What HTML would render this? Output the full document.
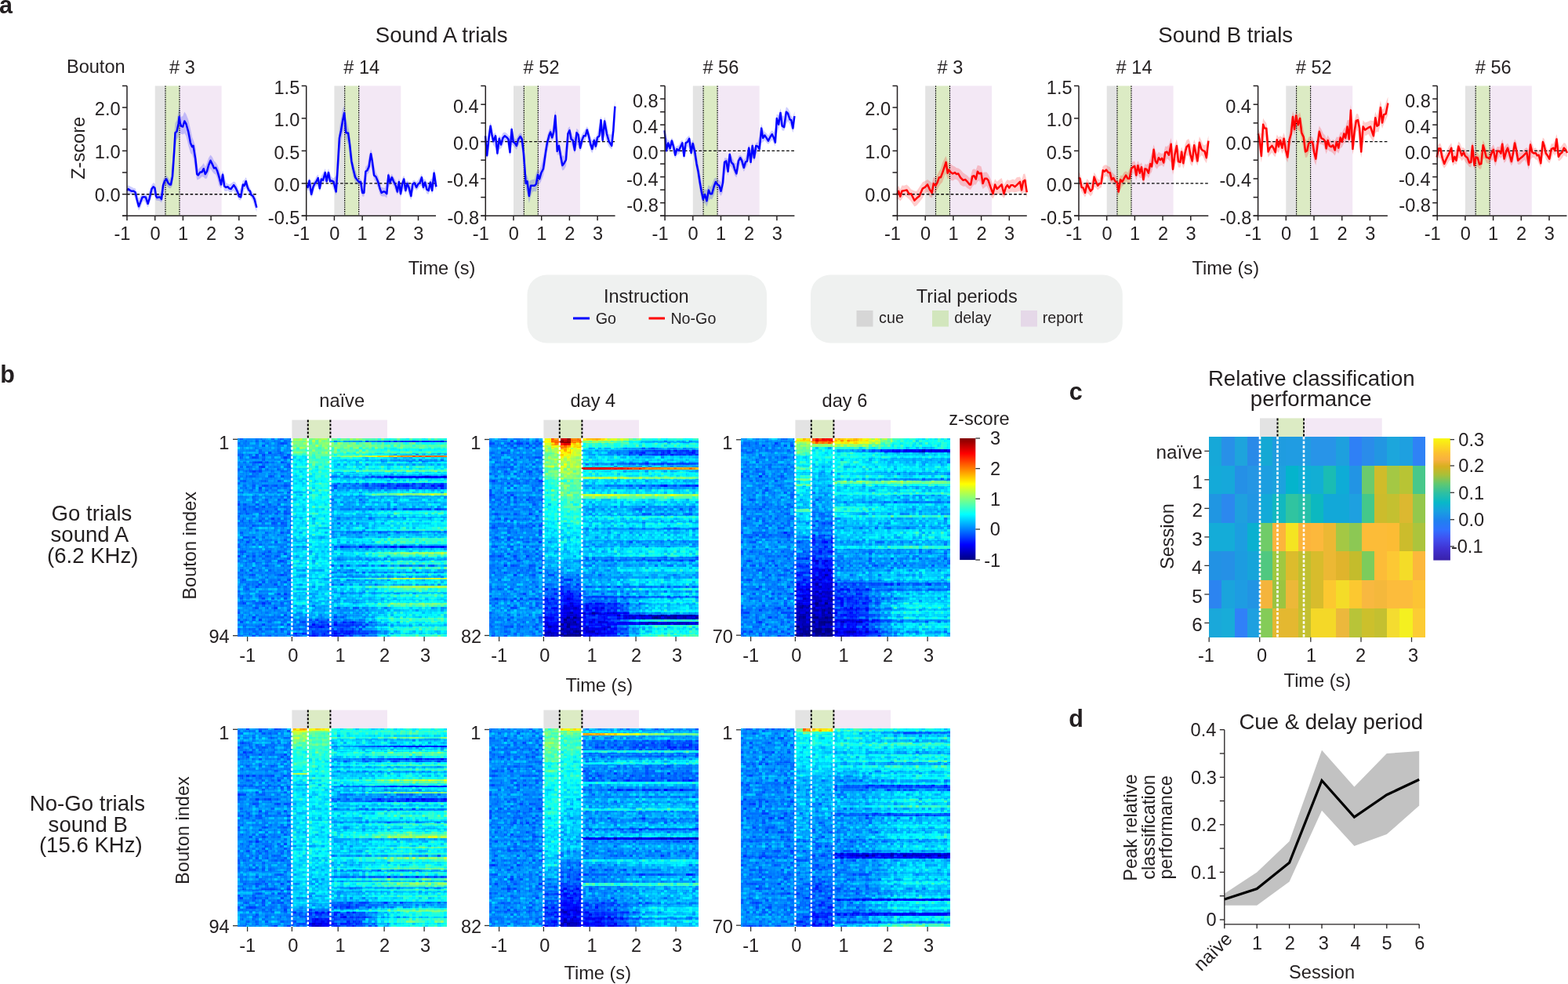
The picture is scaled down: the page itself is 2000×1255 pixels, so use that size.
<!DOCTYPE html>
<html><head><meta charset="utf-8"><title>Figure</title>
<style>html,body{margin:0;padding:0;background:#fff;overflow:hidden;width:2000px;height:1255px;}svg{display:block;}</style></head>
<body><svg width="2000" height="1255" viewBox="0 0 2000 1255" font-family="'Liberation Sans', Arial, Helvetica, sans-serif" fill="#231f20">
<defs><filter id="hf0" x="0" y="0" width="267" height="253" filterUnits="userSpaceOnUse" color-interpolation-filters="sRGB">
<feTurbulence type="fractalNoise" baseFrequency="0.22 0.5" numOctaves="1" seed="3" result="t"/>
<feColorMatrix in="t" type="matrix" values="1 0 0 0 0 1 0 0 0 0 1 0 0 0 0 0 0 0 0 1" result="tn"/>
<feFlood x="0" y="0" width="2" height="1" flood-color="#fff" result="fl"/>
<feComposite in="fl" in2="fl" x="0" y="0" width="4" height="3" operator="over" result="fc"/>
<feTile in="fc" result="tile"/>
<feComposite in="tn" in2="tile" operator="in" result="smp"/>
<feMorphology in="smp" operator="dilate" radius="1 1" result="pix"/>
<feComposite in="SourceGraphic" in2="pix" operator="arithmetic" k2="1" k3="0.27" k4="-0.135" result="sum"/>
<feComponentTransfer in="sum">
<feFuncR type="table" tableValues="0 0 0 0 0.5 1 1 1 0.5"/><feFuncG type="table" tableValues="0 0 0.5 1 1 1 0.5 0 0"/><feFuncB type="table" tableValues="0.5 1 1 1 0.5 0 0 0 0"/><feFuncA type="linear" slope="0" intercept="1"/>
</feComponentTransfer>
</filter>
<filter id="hf1" x="0" y="0" width="267" height="253" filterUnits="userSpaceOnUse" color-interpolation-filters="sRGB">
<feTurbulence type="fractalNoise" baseFrequency="0.22 0.5" numOctaves="1" seed="10" result="t"/>
<feColorMatrix in="t" type="matrix" values="1 0 0 0 0 1 0 0 0 0 1 0 0 0 0 0 0 0 0 1" result="tn"/>
<feFlood x="0" y="0" width="2" height="1" flood-color="#fff" result="fl"/>
<feComposite in="fl" in2="fl" x="0" y="0" width="4" height="3" operator="over" result="fc"/>
<feTile in="fc" result="tile"/>
<feComposite in="tn" in2="tile" operator="in" result="smp"/>
<feMorphology in="smp" operator="dilate" radius="1 1" result="pix"/>
<feComposite in="SourceGraphic" in2="pix" operator="arithmetic" k2="1" k3="0.27" k4="-0.135" result="sum"/>
<feComponentTransfer in="sum">
<feFuncR type="table" tableValues="0 0 0 0 0.5 1 1 1 0.5"/><feFuncG type="table" tableValues="0 0 0.5 1 1 1 0.5 0 0"/><feFuncB type="table" tableValues="0.5 1 1 1 0.5 0 0 0 0"/><feFuncA type="linear" slope="0" intercept="1"/>
</feComponentTransfer>
</filter>
<filter id="hf2" x="0" y="0" width="267" height="253" filterUnits="userSpaceOnUse" color-interpolation-filters="sRGB">
<feTurbulence type="fractalNoise" baseFrequency="0.22 0.5" numOctaves="1" seed="17" result="t"/>
<feColorMatrix in="t" type="matrix" values="1 0 0 0 0 1 0 0 0 0 1 0 0 0 0 0 0 0 0 1" result="tn"/>
<feFlood x="0" y="0" width="2" height="1" flood-color="#fff" result="fl"/>
<feComposite in="fl" in2="fl" x="0" y="0" width="4" height="3" operator="over" result="fc"/>
<feTile in="fc" result="tile"/>
<feComposite in="tn" in2="tile" operator="in" result="smp"/>
<feMorphology in="smp" operator="dilate" radius="1 1" result="pix"/>
<feComposite in="SourceGraphic" in2="pix" operator="arithmetic" k2="1" k3="0.27" k4="-0.135" result="sum"/>
<feComponentTransfer in="sum">
<feFuncR type="table" tableValues="0 0 0 0 0.5 1 1 1 0.5"/><feFuncG type="table" tableValues="0 0 0.5 1 1 1 0.5 0 0"/><feFuncB type="table" tableValues="0.5 1 1 1 0.5 0 0 0 0"/><feFuncA type="linear" slope="0" intercept="1"/>
</feComponentTransfer>
</filter>
<filter id="hf3" x="0" y="0" width="267" height="253" filterUnits="userSpaceOnUse" color-interpolation-filters="sRGB">
<feTurbulence type="fractalNoise" baseFrequency="0.22 0.5" numOctaves="1" seed="24" result="t"/>
<feColorMatrix in="t" type="matrix" values="1 0 0 0 0 1 0 0 0 0 1 0 0 0 0 0 0 0 0 1" result="tn"/>
<feFlood x="0" y="0" width="2" height="1" flood-color="#fff" result="fl"/>
<feComposite in="fl" in2="fl" x="0" y="0" width="4" height="3" operator="over" result="fc"/>
<feTile in="fc" result="tile"/>
<feComposite in="tn" in2="tile" operator="in" result="smp"/>
<feMorphology in="smp" operator="dilate" radius="1 1" result="pix"/>
<feComposite in="SourceGraphic" in2="pix" operator="arithmetic" k2="1" k3="0.27" k4="-0.135" result="sum"/>
<feComponentTransfer in="sum">
<feFuncR type="table" tableValues="0 0 0 0 0.5 1 1 1 0.5"/><feFuncG type="table" tableValues="0 0 0.5 1 1 1 0.5 0 0"/><feFuncB type="table" tableValues="0.5 1 1 1 0.5 0 0 0 0"/><feFuncA type="linear" slope="0" intercept="1"/>
</feComponentTransfer>
</filter>
<filter id="hf4" x="0" y="0" width="267" height="253" filterUnits="userSpaceOnUse" color-interpolation-filters="sRGB">
<feTurbulence type="fractalNoise" baseFrequency="0.22 0.5" numOctaves="1" seed="31" result="t"/>
<feColorMatrix in="t" type="matrix" values="1 0 0 0 0 1 0 0 0 0 1 0 0 0 0 0 0 0 0 1" result="tn"/>
<feFlood x="0" y="0" width="2" height="1" flood-color="#fff" result="fl"/>
<feComposite in="fl" in2="fl" x="0" y="0" width="4" height="3" operator="over" result="fc"/>
<feTile in="fc" result="tile"/>
<feComposite in="tn" in2="tile" operator="in" result="smp"/>
<feMorphology in="smp" operator="dilate" radius="1 1" result="pix"/>
<feComposite in="SourceGraphic" in2="pix" operator="arithmetic" k2="1" k3="0.27" k4="-0.135" result="sum"/>
<feComponentTransfer in="sum">
<feFuncR type="table" tableValues="0 0 0 0 0.5 1 1 1 0.5"/><feFuncG type="table" tableValues="0 0 0.5 1 1 1 0.5 0 0"/><feFuncB type="table" tableValues="0.5 1 1 1 0.5 0 0 0 0"/><feFuncA type="linear" slope="0" intercept="1"/>
</feComponentTransfer>
</filter>
<filter id="hf5" x="0" y="0" width="267" height="253" filterUnits="userSpaceOnUse" color-interpolation-filters="sRGB">
<feTurbulence type="fractalNoise" baseFrequency="0.22 0.5" numOctaves="1" seed="38" result="t"/>
<feColorMatrix in="t" type="matrix" values="1 0 0 0 0 1 0 0 0 0 1 0 0 0 0 0 0 0 0 1" result="tn"/>
<feFlood x="0" y="0" width="2" height="1" flood-color="#fff" result="fl"/>
<feComposite in="fl" in2="fl" x="0" y="0" width="4" height="3" operator="over" result="fc"/>
<feTile in="fc" result="tile"/>
<feComposite in="tn" in2="tile" operator="in" result="smp"/>
<feMorphology in="smp" operator="dilate" radius="1 1" result="pix"/>
<feComposite in="SourceGraphic" in2="pix" operator="arithmetic" k2="1" k3="0.27" k4="-0.135" result="sum"/>
<feComponentTransfer in="sum">
<feFuncR type="table" tableValues="0 0 0 0 0.5 1 1 1 0.5"/><feFuncG type="table" tableValues="0 0 0.5 1 1 1 0.5 0 0"/><feFuncB type="table" tableValues="0.5 1 1 1 0.5 0 0 0 0"/><feFuncA type="linear" slope="0" intercept="1"/>
</feComponentTransfer>
</filter>
<linearGradient id="jet" x1="0" y1="1" x2="0" y2="0"><stop offset="0.000" stop-color="#000080"/><stop offset="0.125" stop-color="#0000ff"/><stop offset="0.250" stop-color="#0080ff"/><stop offset="0.375" stop-color="#00ffff"/><stop offset="0.500" stop-color="#80ff80"/><stop offset="0.625" stop-color="#ffff00"/><stop offset="0.750" stop-color="#ff8000"/><stop offset="0.875" stop-color="#ff0000"/><stop offset="1.000" stop-color="#800000"/></linearGradient></defs>
<rect width="2000" height="1255" fill="#fff"/>
<text x="-0.9" y="17.2" font-size="30.5" font-weight="bold">a</text>
<text x="0.2" y="488.2" font-size="30.5" font-weight="bold">b</text>
<text x="1363.8" y="510.2" font-size="30.5" font-weight="bold">c</text>
<text x="1363.3" y="927.2" font-size="30.5" font-weight="bold">d</text>
<text x="478.8" y="54.0" font-size="27.6">Sound A trials</text>
<text x="1477.3" y="54.0" font-size="27.6">Sound B trials</text>
<text x="84.9" y="93.2" font-size="23.6">Bouton</text>
<rect x="197.7" y="109.5" width="13.3" height="165.8" fill="#e3e3e3"/>
<rect x="211.0" y="109.5" width="18.0" height="165.8" fill="#dcebc4"/>
<rect x="229.0" y="109.5" width="53.6" height="165.8" fill="#f3e8f5"/>
<polygon points="162.1,237.5 163.5,236.2 166.3,237.8 168.4,238.7 170.5,240.0 172.6,240.3 174.6,245.9 177.0,253.5 179.5,249.8 181.6,247.5 183.7,246.5 185.8,247.3 188.6,251.0 190.7,243.1 193.5,235.7 195.6,232.9 197.4,234.3 199.0,240.3 200.4,247.5 202.5,247.2 204.3,247.4 206.0,241.0 208.1,228.2 210.2,224.9 212.3,223.4 214.4,226.2 216.5,229.6 217.9,225.6 220.0,203.4 222.1,173.4 223.5,157.1 225.5,153.5 227.6,141.8 228.6,136.0 229.7,140.6 231.1,149.1 233.2,147.9 235.3,142.4 237.4,145.6 240.2,152.4 243.0,164.6 245.1,174.9 246.5,178.2 249.3,186.6 251.3,205.6 252.7,215.9 255.5,213.2 257.6,211.3 259.7,208.0 261.8,212.8 263.9,207.8 266.0,201.6 268.5,197.5 270.9,200.3 273.0,205.2 275.1,207.1 277.1,210.0 279.2,215.1 282.0,224.3 284.1,217.4 286.2,225.0 288.3,233.0 290.4,234.2 292.5,235.2 294.6,234.1 298.1,231.5 300.2,232.4 302.9,237.7 305.0,243.5 307.1,239.3 309.9,230.0 311.7,229.4 313.7,225.9 315.5,230.7 317.3,235.7 319.0,239.5 320.4,242.9 322.5,245.2 324.6,248.3 327.4,253.9 327.4,270.2 324.6,263.3 322.5,256.3 320.4,252.7 319.0,249.8 317.3,247.6 315.5,244.3 313.7,240.0 311.7,241.4 309.9,248.8 307.1,255.5 305.0,255.1 302.9,251.6 300.2,246.7 298.1,243.1 294.6,245.4 292.5,244.7 290.4,243.2 288.3,244.1 286.2,243.4 284.1,235.6 282.0,240.3 279.2,236.5 277.1,227.3 275.1,222.5 273.0,221.4 270.9,218.9 268.5,215.1 266.0,221.1 263.9,227.4 261.8,228.0 259.7,225.8 257.6,225.3 255.5,227.6 252.7,229.1 251.3,229.6 249.3,220.0 246.5,202.0 245.1,197.2 243.0,195.3 240.2,185.5 237.4,173.5 235.3,170.1 233.2,171.5 231.1,170.8 229.7,170.9 228.6,166.4 227.6,174.6 225.5,177.9 223.5,193.1 222.1,217.9 220.0,236.4 217.9,240.0 216.5,240.2 214.4,239.0 212.3,235.9 210.2,237.9 208.1,250.2 206.0,258.4 204.3,256.8 202.5,256.0 200.4,255.7 199.0,255.6 197.4,249.4 195.6,244.9 193.5,250.8 190.7,260.1 188.6,264.4 185.8,259.6 183.7,256.0 181.6,258.1 179.5,264.6 177.0,268.5 174.6,262.5 172.6,253.9 170.5,248.3 168.4,248.5 166.3,247.7 163.5,246.8 162.1,247.6" fill="#0000ff" fill-opacity="0.2"/>
<line x1="162.0" y1="247.7" x2="327.3" y2="247.7" stroke="#000" stroke-width="1.4" stroke-dasharray="3.6 2.6"/>
<line x1="211.0" y1="109.5" x2="211.0" y2="275.3" stroke="#000" stroke-width="1.15" stroke-dasharray="1.6 1.2"/>
<line x1="229.0" y1="109.5" x2="229.0" y2="275.3" stroke="#000" stroke-width="1.15" stroke-dasharray="1.6 1.2"/>
<polyline points="162.1,243.1 163.5,241.0 166.3,243.1 168.4,243.8 170.5,243.8 172.6,245.2 174.6,254.2 177.0,263.3 179.5,257.0 181.6,251.4 183.7,251.2 185.8,251.4 188.6,259.8 190.7,252.8 193.5,241.0 195.6,238.2 197.4,239.6 199.0,250.0 200.4,252.1 202.5,251.4 204.3,251.4 206.0,254.2 208.1,236.1 210.2,230.5 212.3,228.4 214.4,233.3 216.5,235.4 217.9,235.4 220.0,224.9 222.1,194.3 223.5,169.2 225.5,167.8 227.6,158.0 228.6,148.9 229.7,156.6 231.1,160.8 233.2,161.5 235.3,154.5 237.4,158.0 240.2,167.8 243.0,182.4 245.1,187.3 246.5,185.9 249.3,202.6 251.3,222.1 252.7,223.5 255.5,219.4 257.6,219.4 259.7,215.2 261.8,222.1 263.9,218.7 266.0,211.0 268.5,204.7 270.9,209.6 273.0,214.5 275.1,213.8 277.1,218.0 279.2,224.9 282.0,235.4 284.1,222.8 286.2,237.5 288.3,238.9 290.4,238.2 292.5,240.3 294.6,241.0 298.1,236.1 300.2,238.9 302.9,244.5 305.0,250.7 307.1,251.4 309.9,235.4 311.7,236.8 313.7,231.2 315.5,238.2 317.3,242.4 319.0,243.8 320.4,248.6 322.5,250.0 324.6,254.2 327.4,264.7" fill="none" stroke="#0000ff" stroke-width="2.45" stroke-linejoin="round"/>
<line x1="162.0" y1="109.5" x2="162.0" y2="276.1" stroke="#231f20" stroke-width="1.5"/>
<line x1="156.0" y1="275.3" x2="327.3" y2="275.3" stroke="#231f20" stroke-width="1.5"/>
<line x1="156.0" y1="275.3" x2="162.0" y2="275.3" stroke="#231f20" stroke-width="1.5"/>
<line x1="156.0" y1="247.7" x2="162.0" y2="247.7" stroke="#231f20" stroke-width="1.5"/>
<text x="120.8" y="257.3" font-size="23.6">0.0</text>
<line x1="156.0" y1="220.0" x2="162.0" y2="220.0" stroke="#231f20" stroke-width="1.5"/>
<line x1="156.0" y1="192.4" x2="162.0" y2="192.4" stroke="#231f20" stroke-width="1.5"/>
<text x="120.8" y="202.0" font-size="23.6">1.0</text>
<line x1="156.0" y1="164.8" x2="162.0" y2="164.8" stroke="#231f20" stroke-width="1.5"/>
<line x1="156.0" y1="137.1" x2="162.0" y2="137.1" stroke="#231f20" stroke-width="1.5"/>
<text x="120.8" y="146.7" font-size="23.6">2.0</text>
<line x1="156.0" y1="109.5" x2="162.0" y2="109.5" stroke="#231f20" stroke-width="1.5"/>
<line x1="162.0" y1="275.3" x2="162.0" y2="281.3" stroke="#231f20" stroke-width="1.5"/>
<text x="145.5" y="306.4" font-size="23.6">-1</text>
<line x1="197.7" y1="275.3" x2="197.7" y2="281.3" stroke="#231f20" stroke-width="1.5"/>
<text x="191.5" y="306.4" font-size="23.6">0</text>
<line x1="233.4" y1="275.3" x2="233.4" y2="281.3" stroke="#231f20" stroke-width="1.5"/>
<text x="226.9" y="306.4" font-size="23.6">1</text>
<line x1="269.1" y1="275.3" x2="269.1" y2="281.3" stroke="#231f20" stroke-width="1.5"/>
<text x="262.9" y="306.4" font-size="23.6">2</text>
<line x1="304.8" y1="275.3" x2="304.8" y2="281.3" stroke="#231f20" stroke-width="1.5"/>
<text x="298.6" y="306.4" font-size="23.6">3</text>
<text x="216.1" y="93.8" font-size="23.6"># 3</text>
<rect x="426.4" y="109.5" width="13.3" height="165.8" fill="#e3e3e3"/>
<rect x="439.7" y="109.5" width="18.0" height="165.8" fill="#dcebc4"/>
<rect x="457.7" y="109.5" width="53.6" height="165.8" fill="#f3e8f5"/>
<polygon points="390.7,231.6 392.5,230.8 394.6,226.8 397.1,234.8 399.5,231.6 401.6,229.1 403.6,224.8 405.7,222.5 407.8,229.5 409.9,224.3 412.0,220.4 414.8,214.9 416.6,222.1 419.0,214.9 421.1,221.8 423.2,225.9 425.5,227.6 428.7,224.0 430.8,188.2 432.9,163.2 435.0,151.0 437.1,139.2 439.2,134.8 441.3,149.4 444.1,162.2 446.2,170.6 448.3,190.2 450.4,205.7 453.2,216.4 455.9,224.2 458.7,227.3 460.1,228.2 462.2,234.2 464.3,227.4 466.4,212.6 468.5,210.6 470.6,198.7 473.1,190.2 474.8,195.5 477.1,210.5 479.6,220.2 482.2,224.6 484.5,231.2 486.6,238.7 488.7,239.3 490.8,239.9 493.3,230.1 495.4,219.6 497.5,224.7 499.9,222.1 502.0,225.4 504.8,230.2 506.8,234.3 508.9,227.6 511.0,235.4 513.1,227.6 515.2,223.7 517.3,231.3 519.4,230.4 521.5,231.8 524.3,237.1 526.4,230.6 528.5,229.5 531.2,232.1 533.3,229.8 535.4,226.0 537.9,222.1 539.9,228.6 542.1,228.5 544.5,232.2 546.6,233.2 549.1,228.8 551.2,227.3 553.6,215.3 556.4,224.9 556.4,242.8 553.6,237.3 551.2,247.7 549.1,241.6 546.6,247.7 544.5,247.3 542.1,241.3 539.9,242.9 537.9,236.8 535.4,237.8 533.3,241.0 531.2,242.9 528.5,239.9 526.4,245.8 524.3,255.3 521.5,249.1 519.4,242.1 517.3,247.5 515.2,240.5 513.1,244.9 511.0,251.4 508.9,243.9 506.8,248.4 504.8,244.4 502.0,237.4 499.9,233.7 497.5,236.0 495.4,239.4 493.3,252.5 490.8,250.4 488.7,250.4 486.6,250.2 484.5,248.0 482.2,240.3 479.6,233.2 477.1,228.6 474.8,219.8 473.1,210.5 470.6,220.5 468.5,222.2 466.4,237.6 464.3,250.7 462.2,250.6 460.1,242.6 458.7,236.6 455.9,235.1 453.2,232.4 450.4,225.4 448.3,215.4 446.2,202.2 444.1,184.8 441.3,176.7 439.2,165.9 437.1,169.8 435.0,180.4 432.9,202.3 430.8,234.4 428.7,248.9 425.5,241.8 423.2,235.8 421.1,235.1 419.0,230.8 416.6,234.8 414.8,230.8 412.0,234.4 409.9,238.5 407.8,244.4 405.7,238.2 403.6,237.0 401.6,239.6 399.5,247.5 397.1,252.3 394.6,243.0 392.5,242.8 390.7,242.0" fill="#0000ff" fill-opacity="0.2"/>
<line x1="390.7" y1="233.9" x2="556.0" y2="233.9" stroke="#000" stroke-width="1.4" stroke-dasharray="3.6 2.6"/>
<line x1="439.7" y1="109.5" x2="439.7" y2="275.3" stroke="#000" stroke-width="1.15" stroke-dasharray="1.6 1.2"/>
<line x1="457.7" y1="109.5" x2="457.7" y2="275.3" stroke="#000" stroke-width="1.15" stroke-dasharray="1.6 1.2"/>
<polyline points="390.7,236.1 392.5,238.9 394.6,230.5 397.1,247.9 399.5,238.2 401.6,234.0 403.6,231.2 405.7,227.0 407.8,240.3 409.9,228.4 412.0,229.8 414.8,220.1 416.6,231.2 419.0,220.1 421.1,231.2 423.2,230.5 425.5,231.9 428.7,244.5 430.8,212.4 432.9,176.1 435.0,166.4 437.1,153.8 439.2,144.0 441.3,169.2 444.1,169.8 446.2,185.2 448.3,205.4 450.4,215.2 453.2,226.3 455.9,229.8 458.7,232.6 460.1,231.9 462.2,245.9 464.3,245.9 466.4,218.7 468.5,217.3 470.6,212.4 473.1,196.3 474.8,205.4 477.1,223.5 479.6,225.6 482.2,231.9 484.5,240.3 486.6,245.9 488.7,244.5 490.8,244.5 493.3,247.2 495.4,223.5 497.5,232.6 499.9,226.3 502.0,231.2 504.8,236.8 506.8,244.5 508.9,231.9 511.0,247.2 513.1,234.7 515.2,228.4 517.3,243.1 519.4,234.0 521.5,238.9 524.3,250.0 526.4,234.7 528.5,233.3 531.2,238.9 533.3,234.7 535.4,233.3 537.9,226.3 539.9,238.9 542.1,232.6 544.5,241.7 546.6,243.1 549.1,232.6 551.2,243.1 553.6,220.8 556.4,238.2" fill="none" stroke="#0000ff" stroke-width="2.45" stroke-linejoin="round"/>
<line x1="390.7" y1="109.5" x2="390.7" y2="276.1" stroke="#231f20" stroke-width="1.5"/>
<line x1="384.7" y1="275.3" x2="556.0" y2="275.3" stroke="#231f20" stroke-width="1.5"/>
<line x1="384.7" y1="275.3" x2="390.7" y2="275.3" stroke="#231f20" stroke-width="1.5"/>
<text x="341.8" y="285.8" font-size="23.6">-0.5</text>
<line x1="384.7" y1="233.9" x2="390.7" y2="233.9" stroke="#231f20" stroke-width="1.5"/>
<text x="349.5" y="244.4" font-size="23.6">0.0</text>
<line x1="384.7" y1="192.4" x2="390.7" y2="192.4" stroke="#231f20" stroke-width="1.5"/>
<text x="349.5" y="202.9" font-size="23.6">0.5</text>
<line x1="384.7" y1="150.9" x2="390.7" y2="150.9" stroke="#231f20" stroke-width="1.5"/>
<text x="349.5" y="161.4" font-size="23.6">1.0</text>
<line x1="384.7" y1="109.5" x2="390.7" y2="109.5" stroke="#231f20" stroke-width="1.5"/>
<text x="349.5" y="120.0" font-size="23.6">1.5</text>
<line x1="390.7" y1="275.3" x2="390.7" y2="281.3" stroke="#231f20" stroke-width="1.5"/>
<text x="374.2" y="306.4" font-size="23.6">-1</text>
<line x1="426.4" y1="275.3" x2="426.4" y2="281.3" stroke="#231f20" stroke-width="1.5"/>
<text x="420.2" y="306.4" font-size="23.6">0</text>
<line x1="462.1" y1="275.3" x2="462.1" y2="281.3" stroke="#231f20" stroke-width="1.5"/>
<text x="455.6" y="306.4" font-size="23.6">1</text>
<line x1="497.8" y1="275.3" x2="497.8" y2="281.3" stroke="#231f20" stroke-width="1.5"/>
<text x="491.6" y="306.4" font-size="23.6">2</text>
<line x1="533.5" y1="275.3" x2="533.5" y2="281.3" stroke="#231f20" stroke-width="1.5"/>
<text x="527.3" y="306.4" font-size="23.6">3</text>
<text x="438.3" y="93.8" font-size="23.6"># 14</text>
<rect x="655.0" y="109.5" width="13.3" height="165.8" fill="#e3e3e3"/>
<rect x="668.3" y="109.5" width="18.0" height="165.8" fill="#dcebc4"/>
<rect x="686.3" y="109.5" width="53.6" height="165.8" fill="#f3e8f5"/>
<polygon points="619.1,168.4 621.2,180.4 623.7,163.1 625.6,156.1 627.5,161.5 629.3,171.2 632.1,168.7 634.4,180.0 636.8,172.6 639.0,175.2 641.4,169.6 643.8,168.6 646.6,170.3 648.4,172.6 650.5,173.7 652.6,160.4 654.7,168.7 656.7,177.4 658.8,176.7 661.3,171.9 663.7,169.3 665.8,170.8 667.9,181.5 670.0,202.1 670.7,221.2 672.5,224.6 674.9,231.5 677.0,229.7 679.1,228.9 681.8,228.6 683.9,220.1 686.0,216.4 688.1,217.8 690.2,211.3 693.0,199.3 695.8,183.5 697.9,172.7 700.7,165.5 702.1,163.9 704.2,167.5 706.3,152.9 708.3,140.4 709.7,154.2 710.7,176.7 712.9,181.1 715.0,187.0 717.4,198.3 719.5,199.3 721.9,181.5 724.4,163.8 726.5,161.2 728.6,167.5 730.7,174.1 733.0,175.8 735.5,163.8 737.6,165.7 740.0,175.9 742.5,171.0 744.6,168.0 746.7,164.6 748.8,161.2 750.9,164.7 753.4,174.2 755.3,179.2 757.9,175.0 759.9,175.8 762.0,169.7 764.5,158.6 766.5,148.0 768.7,162.0 771.1,149.0 773.9,157.0 776.7,171.3 780.2,171.4 782.3,145.7 784.4,128.1 784.4,158.6 782.3,181.5 780.2,190.6 776.7,187.3 773.9,181.0 771.1,172.2 768.7,182.9 766.5,171.1 764.5,179.0 762.0,185.7 759.9,191.8 757.9,188.4 755.3,195.4 753.4,192.0 750.9,183.7 748.8,174.0 746.7,178.2 744.6,181.1 742.5,188.2 740.0,193.1 737.6,185.1 735.5,185.6 733.0,196.0 730.7,189.3 728.6,182.7 726.5,177.1 724.4,192.0 721.9,211.9 719.5,216.4 717.4,217.4 715.0,209.9 712.9,197.0 710.7,197.8 709.7,186.6 708.3,166.2 706.3,176.3 704.2,179.5 702.1,176.5 700.7,181.9 697.9,193.5 695.8,210.9 693.0,224.1 690.2,231.2 688.1,235.2 686.0,235.2 683.9,244.4 681.8,244.0 679.1,244.7 677.0,250.5 674.9,259.2 672.5,247.3 670.7,241.6 670.0,236.2 667.9,214.7 665.8,191.6 663.7,180.5 661.3,185.6 658.8,190.9 656.7,188.4 654.7,186.0 652.6,184.2 650.5,200.1 648.4,189.8 646.6,180.6 643.8,179.4 641.4,185.4 639.0,189.6 636.8,190.4 634.4,200.1 632.1,189.1 629.3,185.2 627.5,181.0 625.6,172.4 623.7,191.3 621.2,203.9 619.1,190.8" fill="#0000ff" fill-opacity="0.2"/>
<line x1="619.3" y1="180.6" x2="784.6" y2="180.6" stroke="#000" stroke-width="1.4" stroke-dasharray="3.6 2.6"/>
<line x1="668.3" y1="109.5" x2="668.3" y2="275.3" stroke="#000" stroke-width="1.15" stroke-dasharray="1.6 1.2"/>
<line x1="686.3" y1="109.5" x2="686.3" y2="275.3" stroke="#000" stroke-width="1.15" stroke-dasharray="1.6 1.2"/>
<polyline points="619.1,173.3 621.2,198.4 623.7,174.7 625.6,160.8 627.5,171.9 629.3,180.3 632.1,173.3 634.4,195.6 636.8,176.8 639.0,184.5 641.4,176.1 643.8,173.3 646.6,175.4 648.4,177.5 650.5,194.3 652.6,165.0 654.7,181.0 656.7,182.4 658.8,185.9 661.3,177.5 663.7,174.0 665.8,177.5 667.9,195.6 670.0,223.5 670.7,234.0 672.5,231.2 674.9,250.0 677.0,236.8 679.1,236.8 681.8,236.8 683.9,234.7 686.0,222.8 688.1,228.4 690.2,220.8 693.0,215.2 695.8,195.6 697.9,182.4 700.7,171.9 702.1,168.5 704.2,175.4 706.3,167.8 708.3,147.5 709.7,170.5 710.7,192.9 712.9,185.9 715.0,198.4 717.4,211.0 719.5,208.2 721.9,204.0 724.4,170.5 726.5,166.4 728.6,177.5 730.7,178.9 733.0,191.5 735.5,169.2 737.6,171.9 740.0,188.7 742.5,178.2 744.6,173.3 746.7,173.3 748.8,165.7 750.9,173.3 753.4,184.5 755.3,190.1 757.9,178.9 759.9,186.6 762.0,175.4 764.5,173.3 766.5,153.1 768.7,178.9 771.1,154.5 773.9,170.5 776.7,180.3 780.2,185.9 782.3,166.4 784.4,135.7" fill="none" stroke="#0000ff" stroke-width="2.45" stroke-linejoin="round"/>
<line x1="619.3" y1="109.5" x2="619.3" y2="276.1" stroke="#231f20" stroke-width="1.5"/>
<line x1="613.3" y1="275.3" x2="784.6" y2="275.3" stroke="#231f20" stroke-width="1.5"/>
<line x1="613.3" y1="275.3" x2="619.3" y2="275.3" stroke="#231f20" stroke-width="1.5"/>
<text x="570.4" y="285.8" font-size="23.6">-0.8</text>
<line x1="613.3" y1="251.6" x2="619.3" y2="251.6" stroke="#231f20" stroke-width="1.5"/>
<line x1="613.3" y1="227.9" x2="619.3" y2="227.9" stroke="#231f20" stroke-width="1.5"/>
<text x="570.1" y="238.4" font-size="23.6">-0.4</text>
<line x1="613.3" y1="204.2" x2="619.3" y2="204.2" stroke="#231f20" stroke-width="1.5"/>
<line x1="613.3" y1="180.6" x2="619.3" y2="180.6" stroke="#231f20" stroke-width="1.5"/>
<text x="578.1" y="191.1" font-size="23.6">0.0</text>
<line x1="613.3" y1="156.9" x2="619.3" y2="156.9" stroke="#231f20" stroke-width="1.5"/>
<line x1="613.3" y1="133.2" x2="619.3" y2="133.2" stroke="#231f20" stroke-width="1.5"/>
<text x="577.9" y="143.7" font-size="23.6">0.4</text>
<line x1="613.3" y1="109.5" x2="619.3" y2="109.5" stroke="#231f20" stroke-width="1.5"/>
<line x1="619.3" y1="275.3" x2="619.3" y2="281.3" stroke="#231f20" stroke-width="1.5"/>
<text x="602.8" y="306.4" font-size="23.6">-1</text>
<line x1="655.0" y1="275.3" x2="655.0" y2="281.3" stroke="#231f20" stroke-width="1.5"/>
<text x="648.8" y="306.4" font-size="23.6">0</text>
<line x1="690.7" y1="275.3" x2="690.7" y2="281.3" stroke="#231f20" stroke-width="1.5"/>
<text x="684.2" y="306.4" font-size="23.6">1</text>
<line x1="726.4" y1="275.3" x2="726.4" y2="281.3" stroke="#231f20" stroke-width="1.5"/>
<text x="720.2" y="306.4" font-size="23.6">2</text>
<line x1="762.1" y1="275.3" x2="762.1" y2="281.3" stroke="#231f20" stroke-width="1.5"/>
<text x="755.9" y="306.4" font-size="23.6">3</text>
<text x="667.6" y="93.8" font-size="23.6"># 52</text>
<rect x="883.8" y="109.5" width="13.3" height="165.8" fill="#e3e3e3"/>
<rect x="897.1" y="109.5" width="18.0" height="165.8" fill="#dcebc4"/>
<rect x="915.1" y="109.5" width="53.6" height="165.8" fill="#f3e8f5"/>
<polygon points="847.7,162.1 849.9,175.2 852.3,178.4 854.6,180.0 856.9,175.8 859.2,179.2 861.3,188.1 863.4,185.9 865.8,185.3 868.0,180.5 870.4,178.4 872.5,186.9 874.6,177.3 877.0,174.4 879.2,172.7 881.6,181.6 883.7,178.4 886.4,184.6 888.5,197.6 890.6,208.3 892.7,220.2 894.8,233.2 896.9,243.7 899.0,241.3 901.5,241.9 903.9,235.8 906.0,238.5 908.1,235.4 910.8,228.0 912.9,226.6 915.0,228.6 917.4,229.6 919.6,232.4 922.0,213.6 924.1,201.3 926.2,201.6 928.6,202.4 930.7,192.9 932.7,197.5 935.3,203.4 937.3,208.0 939.4,208.3 941.9,199.0 944.3,197.5 946.4,199.5 948.8,204.3 950.9,201.6 953.1,192.3 955.2,184.4 957.6,191.7 959.7,181.7 962.0,189.1 964.3,181.9 966.6,181.6 968.7,172.9 971.2,158.1 973.2,164.6 975.4,168.3 977.8,170.0 979.9,172.9 982.4,168.8 984.8,166.3 987.1,169.3 988.9,161.6 990.8,145.5 993.1,146.7 995.5,138.3 997.7,147.5 1000.1,147.8 1002.9,136.3 1005.0,138.1 1007.5,142.6 1009.2,147.8 1011.3,150.3 1013.4,142.0 1013.4,162.1 1011.3,169.2 1009.2,163.3 1007.5,158.7 1005.0,154.2 1002.9,158.7 1000.1,166.8 997.7,166.4 995.5,158.2 993.1,163.4 990.8,171.9 988.9,186.5 987.1,183.3 984.8,178.6 982.4,181.3 979.9,183.9 977.8,182.3 975.4,178.8 973.2,181.3 971.2,182.3 968.7,194.0 966.6,193.0 964.3,197.5 962.0,205.7 959.7,200.6 957.6,211.5 955.2,202.0 953.1,210.9 950.9,214.8 948.8,219.1 946.4,213.4 944.3,207.0 941.9,217.8 939.4,226.6 937.3,224.1 935.3,217.9 932.7,212.6 930.7,212.0 928.6,224.1 926.2,215.8 924.1,224.8 922.0,245.0 919.6,249.9 917.4,246.8 915.0,241.2 912.9,240.0 910.8,249.1 908.1,254.2 906.0,253.5 903.9,255.9 901.5,263.8 899.0,258.8 896.9,259.9 894.8,254.7 892.7,243.9 890.6,231.1 888.5,217.7 886.4,205.7 883.7,193.7 881.6,199.2 879.2,190.0 877.0,186.2 874.6,195.1 872.5,203.0 870.4,194.8 868.0,194.1 865.8,196.5 863.4,198.0 861.3,202.2 859.2,196.7 856.9,188.3 854.6,193.8 852.3,191.3 849.9,196.2 847.7,183.5" fill="#0000ff" fill-opacity="0.2"/>
<line x1="848.1" y1="192.4" x2="1013.4" y2="192.4" stroke="#000" stroke-width="1.4" stroke-dasharray="3.6 2.6"/>
<line x1="897.1" y1="109.5" x2="897.1" y2="275.3" stroke="#000" stroke-width="1.15" stroke-dasharray="1.6 1.2"/>
<line x1="915.1" y1="109.5" x2="915.1" y2="275.3" stroke="#000" stroke-width="1.15" stroke-dasharray="1.6 1.2"/>
<polyline points="847.7,166.4 849.9,192.2 852.3,182.4 854.6,189.4 856.9,179.6 859.2,187.3 861.3,197.7 863.4,190.1 865.8,192.2 868.0,187.3 870.4,182.4 872.5,199.1 874.6,182.4 877.0,181.0 879.2,176.8 881.6,195.0 883.7,183.1 886.4,194.3 888.5,208.9 890.6,218.7 892.7,232.6 894.8,244.5 896.9,254.2 899.0,247.9 901.5,256.3 903.9,242.4 906.0,247.2 908.1,247.2 910.8,237.5 912.9,231.9 915.0,235.4 917.4,236.8 919.6,243.8 922.0,233.3 924.1,206.8 926.2,205.4 928.6,218.7 930.7,197.0 932.7,206.8 935.3,209.6 937.3,216.6 939.4,221.4 941.9,205.4 944.3,201.2 946.4,205.4 948.8,213.8 950.9,206.8 953.1,205.4 955.2,188.7 957.6,206.8 959.7,185.9 962.0,201.2 964.3,185.9 966.6,186.6 968.7,190.1 971.2,163.6 973.2,176.1 975.4,172.6 977.8,176.1 979.9,179.6 982.4,174.7 984.8,171.2 987.1,176.1 988.9,181.7 990.8,151.0 993.1,158.7 995.5,144.0 997.7,160.8 1000.1,162.2 1002.9,142.7 1005.0,144.7 1007.5,152.4 1009.2,153.1 1011.3,163.6 1013.4,148.2" fill="none" stroke="#0000ff" stroke-width="2.45" stroke-linejoin="round"/>
<line x1="848.1" y1="109.5" x2="848.1" y2="276.1" stroke="#231f20" stroke-width="1.5"/>
<line x1="842.1" y1="275.3" x2="1013.4" y2="275.3" stroke="#231f20" stroke-width="1.5"/>
<line x1="842.1" y1="275.3" x2="848.1" y2="275.3" stroke="#231f20" stroke-width="1.5"/>
<line x1="842.1" y1="258.7" x2="848.1" y2="258.7" stroke="#231f20" stroke-width="1.5"/>
<text x="799.2" y="269.7" font-size="23.6">-0.8</text>
<line x1="842.1" y1="242.1" x2="848.1" y2="242.1" stroke="#231f20" stroke-width="1.5"/>
<line x1="842.1" y1="225.6" x2="848.1" y2="225.6" stroke="#231f20" stroke-width="1.5"/>
<text x="798.9" y="236.6" font-size="23.6">-0.4</text>
<line x1="842.1" y1="209.0" x2="848.1" y2="209.0" stroke="#231f20" stroke-width="1.5"/>
<line x1="842.1" y1="192.4" x2="848.1" y2="192.4" stroke="#231f20" stroke-width="1.5"/>
<text x="806.9" y="203.4" font-size="23.6">0.0</text>
<line x1="842.1" y1="175.8" x2="848.1" y2="175.8" stroke="#231f20" stroke-width="1.5"/>
<line x1="842.1" y1="159.2" x2="848.1" y2="159.2" stroke="#231f20" stroke-width="1.5"/>
<text x="806.7" y="170.2" font-size="23.6">0.4</text>
<line x1="842.1" y1="142.7" x2="848.1" y2="142.7" stroke="#231f20" stroke-width="1.5"/>
<line x1="842.1" y1="126.1" x2="848.1" y2="126.1" stroke="#231f20" stroke-width="1.5"/>
<text x="806.9" y="137.1" font-size="23.6">0.8</text>
<line x1="842.1" y1="109.5" x2="848.1" y2="109.5" stroke="#231f20" stroke-width="1.5"/>
<line x1="848.1" y1="275.3" x2="848.1" y2="281.3" stroke="#231f20" stroke-width="1.5"/>
<text x="831.6" y="306.4" font-size="23.6">-1</text>
<line x1="883.8" y1="275.3" x2="883.8" y2="281.3" stroke="#231f20" stroke-width="1.5"/>
<text x="877.6" y="306.4" font-size="23.6">0</text>
<line x1="919.5" y1="275.3" x2="919.5" y2="281.3" stroke="#231f20" stroke-width="1.5"/>
<text x="913.0" y="306.4" font-size="23.6">1</text>
<line x1="955.2" y1="275.3" x2="955.2" y2="281.3" stroke="#231f20" stroke-width="1.5"/>
<text x="949.0" y="306.4" font-size="23.6">2</text>
<line x1="990.9" y1="275.3" x2="990.9" y2="281.3" stroke="#231f20" stroke-width="1.5"/>
<text x="984.7" y="306.4" font-size="23.6">3</text>
<text x="896.4" y="93.8" font-size="23.6"># 56</text>
<rect x="1180.2" y="109.5" width="13.3" height="165.8" fill="#e3e3e3"/>
<rect x="1193.5" y="109.5" width="18.0" height="165.8" fill="#dcebc4"/>
<rect x="1211.5" y="109.5" width="53.6" height="165.8" fill="#f3e8f5"/>
<polygon points="1143.7,240.2 1146.2,237.0 1148.3,241.4 1150.4,236.5 1153.2,236.8 1156.6,235.6 1159.4,238.0 1162.2,241.4 1166.4,243.6 1169.2,243.7 1172.7,238.6 1176.9,232.2 1179.7,230.9 1183.1,228.9 1185.9,231.1 1188.7,233.5 1190.8,226.0 1193.3,226.6 1195.7,222.7 1197.8,218.2 1199.9,215.3 1202.0,207.7 1204.8,202.0 1206.6,199.1 1208.7,206.2 1210.3,207.9 1212.4,208.7 1215.2,211.2 1218.0,212.5 1220.1,214.2 1222.2,214.5 1225.0,216.2 1228.5,220.2 1231.3,222.3 1234.0,224.1 1236.8,227.3 1238.2,223.8 1240.3,216.6 1242.4,215.2 1244.8,216.5 1246.9,210.8 1249.1,211.2 1251.5,212.2 1253.6,220.4 1256.1,219.5 1258.4,219.4 1260.5,221.9 1263.3,227.7 1266.5,235.0 1269.2,228.2 1271.7,231.8 1274.8,229.0 1277.6,227.1 1280.5,235.7 1282.9,231.4 1284.9,229.0 1287.3,230.2 1289.5,229.4 1291.9,228.4 1294.3,229.5 1296.8,226.3 1301.0,225.4 1303.1,230.6 1305.2,221.9 1307.3,221.6 1309.8,230.4 1309.8,252.3 1307.3,245.7 1305.2,245.4 1303.1,248.6 1301.0,243.7 1296.8,244.8 1294.3,245.8 1291.9,244.8 1289.5,244.6 1287.3,247.2 1284.9,244.9 1282.9,249.1 1280.5,252.8 1277.6,249.6 1274.8,247.4 1271.7,247.4 1269.2,248.5 1266.5,253.6 1263.3,249.0 1260.5,240.8 1258.4,237.0 1256.1,239.1 1253.6,241.0 1251.5,235.9 1249.1,230.3 1246.9,231.4 1244.8,235.4 1242.4,235.4 1240.3,238.1 1238.2,241.7 1236.8,241.8 1234.0,240.1 1231.3,237.4 1228.5,237.7 1225.0,235.7 1222.2,230.8 1220.1,229.1 1218.0,228.7 1215.2,230.6 1212.4,229.7 1210.3,227.3 1208.7,228.4 1206.6,221.5 1204.8,224.2 1202.0,232.4 1199.9,234.5 1197.8,237.6 1195.7,241.5 1193.3,244.9 1190.8,248.0 1188.7,252.2 1185.9,251.2 1183.1,245.1 1179.7,245.9 1176.9,252.5 1172.7,258.0 1169.2,261.9 1166.4,263.5 1162.2,257.2 1159.4,254.1 1156.6,251.5 1153.2,249.3 1150.4,254.1 1148.3,256.6 1146.2,254.0 1143.7,254.7" fill="#ff0000" fill-opacity="0.2"/>
<line x1="1144.5" y1="247.7" x2="1309.8" y2="247.7" stroke="#000" stroke-width="1.4" stroke-dasharray="3.6 2.6"/>
<line x1="1193.5" y1="109.5" x2="1193.5" y2="275.3" stroke="#000" stroke-width="1.15" stroke-dasharray="1.6 1.2"/>
<line x1="1211.5" y1="109.5" x2="1211.5" y2="275.3" stroke="#000" stroke-width="1.15" stroke-dasharray="1.6 1.2"/>
<polyline points="1143.7,248.6 1146.2,243.8 1148.3,250.7 1150.4,243.8 1153.2,243.1 1156.6,242.4 1159.4,247.2 1162.2,247.2 1166.4,255.6 1169.2,252.8 1172.7,250.0 1176.9,240.3 1179.7,238.9 1183.1,235.4 1185.9,241.7 1188.7,245.9 1190.8,234.0 1193.3,236.8 1195.7,232.6 1197.8,226.3 1199.9,226.3 1202.0,220.8 1204.8,212.4 1206.6,206.8 1208.7,220.8 1210.3,216.6 1212.4,219.4 1215.2,221.4 1218.0,220.1 1220.1,222.1 1222.2,221.4 1225.0,226.3 1228.5,229.8 1231.3,229.1 1234.0,231.9 1236.8,235.4 1238.2,235.4 1240.3,224.9 1242.4,224.2 1244.8,228.4 1246.9,218.7 1249.1,221.4 1251.5,220.8 1253.6,234.0 1256.1,227.7 1258.4,227.7 1260.5,229.8 1263.3,238.2 1266.5,247.2 1269.2,235.4 1271.7,241.0 1274.8,238.2 1277.6,235.4 1280.5,247.2 1282.9,238.9 1284.9,236.1 1287.3,239.6 1289.5,236.1 1291.9,236.1 1294.3,238.2 1296.8,236.1 1301.0,231.9 1303.1,242.4 1305.2,231.2 1307.3,229.8 1309.8,245.2" fill="none" stroke="#ff0000" stroke-width="2.45" stroke-linejoin="round"/>
<line x1="1144.5" y1="109.5" x2="1144.5" y2="276.1" stroke="#231f20" stroke-width="1.5"/>
<line x1="1138.5" y1="275.3" x2="1309.8" y2="275.3" stroke="#231f20" stroke-width="1.5"/>
<line x1="1138.5" y1="275.3" x2="1144.5" y2="275.3" stroke="#231f20" stroke-width="1.5"/>
<line x1="1138.5" y1="247.7" x2="1144.5" y2="247.7" stroke="#231f20" stroke-width="1.5"/>
<text x="1103.3" y="257.3" font-size="23.6">0.0</text>
<line x1="1138.5" y1="220.0" x2="1144.5" y2="220.0" stroke="#231f20" stroke-width="1.5"/>
<line x1="1138.5" y1="192.4" x2="1144.5" y2="192.4" stroke="#231f20" stroke-width="1.5"/>
<text x="1103.3" y="202.0" font-size="23.6">1.0</text>
<line x1="1138.5" y1="164.8" x2="1144.5" y2="164.8" stroke="#231f20" stroke-width="1.5"/>
<line x1="1138.5" y1="137.1" x2="1144.5" y2="137.1" stroke="#231f20" stroke-width="1.5"/>
<text x="1103.3" y="146.7" font-size="23.6">2.0</text>
<line x1="1138.5" y1="109.5" x2="1144.5" y2="109.5" stroke="#231f20" stroke-width="1.5"/>
<line x1="1144.5" y1="275.3" x2="1144.5" y2="281.3" stroke="#231f20" stroke-width="1.5"/>
<text x="1128.0" y="306.4" font-size="23.6">-1</text>
<line x1="1180.2" y1="275.3" x2="1180.2" y2="281.3" stroke="#231f20" stroke-width="1.5"/>
<text x="1174.0" y="306.4" font-size="23.6">0</text>
<line x1="1215.9" y1="275.3" x2="1215.9" y2="281.3" stroke="#231f20" stroke-width="1.5"/>
<text x="1209.4" y="306.4" font-size="23.6">1</text>
<line x1="1251.6" y1="275.3" x2="1251.6" y2="281.3" stroke="#231f20" stroke-width="1.5"/>
<text x="1245.4" y="306.4" font-size="23.6">2</text>
<line x1="1287.3" y1="275.3" x2="1287.3" y2="281.3" stroke="#231f20" stroke-width="1.5"/>
<text x="1281.1" y="306.4" font-size="23.6">3</text>
<text x="1195.5" y="93.8" font-size="23.6"># 3</text>
<rect x="1411.7" y="109.5" width="13.3" height="165.8" fill="#e3e3e3"/>
<rect x="1425.0" y="109.5" width="18.0" height="165.8" fill="#dcebc4"/>
<rect x="1443.0" y="109.5" width="53.6" height="165.8" fill="#f3e8f5"/>
<polygon points="1375.7,219.9 1377.5,220.6 1379.6,228.1 1381.7,234.0 1384.0,234.0 1386.6,228.1 1388.6,230.4 1391.0,234.6 1393.5,228.3 1395.6,219.8 1397.7,223.1 1400.2,228.2 1402.6,229.2 1404.7,220.4 1406.8,211.9 1408.9,210.6 1411.0,210.2 1413.7,212.2 1415.8,213.1 1417.9,219.1 1420.3,221.4 1422.5,223.5 1424.9,227.1 1426.7,231.7 1429.1,223.8 1431.5,224.1 1433.7,219.7 1436.1,218.2 1438.4,220.2 1440.7,215.2 1443.0,208.2 1445.1,206.1 1447.2,205.6 1449.3,210.7 1451.4,204.9 1453.8,209.7 1456.0,207.2 1458.4,214.9 1460.5,208.7 1462.6,210.1 1464.9,208.4 1467.2,201.7 1469.1,194.8 1471.6,184.3 1473.7,191.5 1475.8,197.3 1477.9,193.7 1480.0,195.3 1482.1,196.1 1484.2,195.0 1486.3,186.5 1488.4,186.9 1490.9,184.5 1493.7,176.0 1496.0,192.8 1498.5,184.9 1500.9,177.6 1503.0,188.9 1505.4,193.2 1507.2,187.3 1509.3,193.9 1511.4,184.5 1513.5,178.8 1516.2,176.9 1518.3,182.8 1520.7,188.6 1523.2,177.7 1525.3,184.0 1527.4,187.8 1529.9,173.9 1532.3,178.9 1534.4,184.2 1536.5,185.2 1538.8,183.5 1541.4,173.1 1541.4,197.0 1538.8,208.2 1536.5,204.4 1534.4,199.4 1532.3,198.1 1529.9,201.4 1527.4,211.2 1525.3,206.9 1523.2,202.8 1520.7,212.1 1518.3,209.2 1516.2,198.4 1513.5,198.5 1511.4,208.9 1509.3,215.2 1507.2,207.2 1505.4,213.7 1503.0,213.5 1500.9,204.3 1498.5,213.0 1496.0,222.9 1493.7,207.6 1490.9,204.0 1488.4,202.3 1486.3,208.3 1484.2,213.3 1482.1,210.6 1480.0,211.4 1477.9,212.2 1475.8,215.7 1473.7,213.4 1471.6,208.1 1469.1,219.2 1467.2,222.0 1464.9,227.2 1462.6,223.7 1460.5,228.6 1458.4,235.3 1456.0,227.0 1453.8,226.9 1451.4,223.3 1449.3,230.1 1447.2,223.7 1445.1,220.4 1443.0,227.4 1440.7,233.9 1438.4,233.1 1436.1,231.0 1433.7,235.7 1431.5,237.6 1429.1,242.1 1426.7,249.5 1424.9,243.3 1422.5,237.6 1420.3,234.8 1417.9,234.6 1415.8,231.5 1413.7,226.1 1411.0,224.7 1408.9,225.6 1406.8,231.0 1404.7,239.2 1402.6,240.1 1400.2,242.6 1397.7,239.3 1395.6,239.1 1393.5,247.4 1391.0,250.4 1388.6,247.4 1386.6,245.9 1384.0,251.8 1381.7,248.0 1379.6,244.4 1377.5,239.7 1375.7,233.4" fill="#ff0000" fill-opacity="0.2"/>
<line x1="1376.0" y1="233.9" x2="1541.3" y2="233.9" stroke="#000" stroke-width="1.4" stroke-dasharray="3.6 2.6"/>
<line x1="1425.0" y1="109.5" x2="1425.0" y2="275.3" stroke="#000" stroke-width="1.15" stroke-dasharray="1.6 1.2"/>
<line x1="1443.0" y1="109.5" x2="1443.0" y2="275.3" stroke="#000" stroke-width="1.15" stroke-dasharray="1.6 1.2"/>
<polyline points="1375.7,226.3 1377.5,227.7 1379.6,238.9 1381.7,239.6 1384.0,245.9 1386.6,234.0 1388.6,238.9 1391.0,243.8 1393.5,241.0 1395.6,225.6 1397.7,231.2 1400.2,236.8 1402.6,234.0 1404.7,234.0 1406.8,217.3 1408.9,218.7 1411.0,216.6 1413.7,220.1 1415.8,220.1 1417.9,229.1 1420.3,227.0 1422.5,231.2 1424.9,232.6 1426.7,244.5 1429.1,229.1 1431.5,231.9 1433.7,227.7 1436.1,223.5 1438.4,227.7 1440.7,227.7 1443.0,215.2 1445.1,213.1 1447.2,211.7 1449.3,223.5 1451.4,211.0 1453.8,220.8 1456.0,213.1 1458.4,229.1 1460.5,215.2 1462.6,215.9 1464.9,220.8 1467.2,208.9 1469.1,212.4 1471.6,190.8 1473.7,205.4 1475.8,208.2 1477.9,201.2 1480.0,204.0 1482.1,201.9 1484.2,207.5 1486.3,194.3 1488.4,193.6 1490.9,197.7 1493.7,183.8 1496.0,215.9 1498.5,197.0 1500.9,185.9 1503.0,206.1 1505.4,206.8 1507.2,193.6 1509.3,208.2 1511.4,195.6 1513.5,187.3 1516.2,184.5 1518.3,197.0 1520.7,205.4 1523.2,185.2 1525.3,195.6 1527.4,205.4 1529.9,181.7 1532.3,190.1 1534.4,192.2 1536.5,192.9 1538.8,201.2 1541.4,179.6" fill="none" stroke="#ff0000" stroke-width="2.45" stroke-linejoin="round"/>
<line x1="1376.0" y1="109.5" x2="1376.0" y2="276.1" stroke="#231f20" stroke-width="1.5"/>
<line x1="1370.0" y1="275.3" x2="1541.3" y2="275.3" stroke="#231f20" stroke-width="1.5"/>
<line x1="1370.0" y1="275.3" x2="1376.0" y2="275.3" stroke="#231f20" stroke-width="1.5"/>
<text x="1327.1" y="285.8" font-size="23.6">-0.5</text>
<line x1="1370.0" y1="233.9" x2="1376.0" y2="233.9" stroke="#231f20" stroke-width="1.5"/>
<text x="1334.8" y="244.4" font-size="23.6">0.0</text>
<line x1="1370.0" y1="192.4" x2="1376.0" y2="192.4" stroke="#231f20" stroke-width="1.5"/>
<text x="1334.8" y="202.9" font-size="23.6">0.5</text>
<line x1="1370.0" y1="150.9" x2="1376.0" y2="150.9" stroke="#231f20" stroke-width="1.5"/>
<text x="1334.8" y="161.4" font-size="23.6">1.0</text>
<line x1="1370.0" y1="109.5" x2="1376.0" y2="109.5" stroke="#231f20" stroke-width="1.5"/>
<text x="1334.8" y="120.0" font-size="23.6">1.5</text>
<line x1="1376.0" y1="275.3" x2="1376.0" y2="281.3" stroke="#231f20" stroke-width="1.5"/>
<text x="1359.5" y="306.4" font-size="23.6">-1</text>
<line x1="1411.7" y1="275.3" x2="1411.7" y2="281.3" stroke="#231f20" stroke-width="1.5"/>
<text x="1405.5" y="306.4" font-size="23.6">0</text>
<line x1="1447.4" y1="275.3" x2="1447.4" y2="281.3" stroke="#231f20" stroke-width="1.5"/>
<text x="1440.9" y="306.4" font-size="23.6">1</text>
<line x1="1483.1" y1="275.3" x2="1483.1" y2="281.3" stroke="#231f20" stroke-width="1.5"/>
<text x="1476.9" y="306.4" font-size="23.6">2</text>
<line x1="1518.8" y1="275.3" x2="1518.8" y2="281.3" stroke="#231f20" stroke-width="1.5"/>
<text x="1512.6" y="306.4" font-size="23.6">3</text>
<text x="1423.6" y="93.8" font-size="23.6"># 14</text>
<rect x="1640.3" y="109.5" width="13.3" height="165.8" fill="#e3e3e3"/>
<rect x="1653.6" y="109.5" width="18.0" height="165.8" fill="#dcebc4"/>
<rect x="1671.6" y="109.5" width="53.6" height="165.8" fill="#f3e8f5"/>
<polygon points="1604.7,163.2 1606.5,168.4 1608.9,170.6 1611.1,150.8 1613.0,153.9 1615.3,157.0 1617.6,171.3 1619.7,180.7 1622.5,179.0 1624.6,181.3 1626.7,180.2 1628.8,171.4 1630.9,175.2 1633.0,173.2 1635.4,175.2 1637.6,169.2 1640.0,177.5 1642.3,182.7 1644.6,168.2 1646.9,152.4 1649.0,141.6 1651.1,149.0 1653.2,139.9 1655.7,146.7 1658.1,143.1 1660.2,152.7 1662.7,165.4 1665.1,176.6 1667.2,180.0 1669.2,174.8 1671.6,173.7 1674.1,174.7 1676.2,180.5 1678.3,185.5 1680.4,170.6 1682.8,160.6 1685.3,164.7 1688.1,170.5 1690.2,172.4 1691.6,177.0 1693.6,172.2 1695.7,175.9 1697.8,180.1 1700.3,177.9 1702.7,179.3 1704.8,174.6 1707.3,174.9 1709.7,168.5 1711.8,169.0 1714.3,163.7 1716.2,162.1 1718.5,153.3 1720.8,152.7 1722.9,133.2 1725.4,158.2 1727.8,153.2 1729.9,145.3 1732.0,145.0 1734.1,151.1 1736.2,169.8 1738.6,153.3 1741.1,156.4 1743.2,155.7 1745.2,155.0 1748.0,153.5 1751.9,154.2 1754.3,142.4 1756.4,148.3 1758.5,139.8 1760.9,128.2 1763.1,139.4 1765.1,138.6 1767.6,131.1 1770.4,123.5 1770.4,146.5 1767.6,153.2 1765.1,158.5 1763.1,164.0 1760.9,157.1 1758.5,168.5 1756.4,168.0 1754.3,169.8 1751.9,181.0 1748.0,175.4 1745.2,170.7 1743.2,172.8 1741.1,172.8 1738.6,185.7 1736.2,201.3 1734.1,185.8 1732.0,166.4 1729.9,168.2 1727.8,185.1 1725.4,197.2 1722.9,172.7 1720.8,183.8 1718.5,177.6 1716.2,182.8 1714.3,182.6 1711.8,187.8 1709.7,189.0 1707.3,195.8 1704.8,192.7 1702.7,198.4 1700.3,195.6 1697.8,193.4 1695.7,193.1 1693.6,190.8 1691.6,196.5 1690.2,191.4 1688.1,185.2 1685.3,184.0 1682.8,183.6 1680.4,199.8 1678.3,211.0 1676.2,205.6 1674.1,194.0 1671.6,189.3 1669.2,194.9 1667.2,200.5 1665.1,201.1 1662.7,190.7 1660.2,179.4 1658.1,168.0 1655.7,166.1 1653.2,163.8 1651.1,172.2 1649.0,167.1 1646.9,181.7 1644.6,195.5 1642.3,207.2 1640.0,202.6 1637.6,191.8 1635.4,196.2 1633.0,189.5 1630.9,194.8 1628.8,193.0 1626.7,200.3 1624.6,198.2 1622.5,194.5 1619.7,197.7 1617.6,200.8 1615.3,185.2 1613.0,170.8 1611.1,186.8 1608.9,207.4 1606.5,194.0 1604.7,181.4" fill="#ff0000" fill-opacity="0.2"/>
<line x1="1604.6" y1="180.6" x2="1769.9" y2="180.6" stroke="#000" stroke-width="1.4" stroke-dasharray="3.6 2.6"/>
<line x1="1653.6" y1="109.5" x2="1653.6" y2="275.3" stroke="#000" stroke-width="1.15" stroke-dasharray="1.6 1.2"/>
<line x1="1671.6" y1="109.5" x2="1671.6" y2="275.3" stroke="#000" stroke-width="1.15" stroke-dasharray="1.6 1.2"/>
<polyline points="1604.7,170.5 1606.5,177.5 1608.9,199.1 1611.1,158.7 1613.0,163.6 1615.3,163.6 1617.6,193.6 1619.7,188.7 1622.5,185.9 1624.6,189.4 1626.7,194.3 1628.8,178.2 1630.9,187.3 1633.0,178.9 1635.4,188.7 1637.6,176.8 1640.0,191.5 1642.3,200.5 1644.6,178.2 1646.9,170.5 1649.0,148.9 1651.1,165.0 1653.2,147.5 1655.7,159.4 1658.1,151.0 1660.2,169.2 1662.7,174.7 1665.1,193.6 1667.2,192.2 1669.2,183.1 1671.6,181.0 1674.1,181.0 1676.2,194.3 1678.3,202.6 1680.4,185.2 1682.8,167.8 1685.3,176.1 1688.1,177.5 1690.2,180.3 1691.6,189.4 1693.6,178.9 1695.7,185.9 1697.8,187.3 1700.3,185.2 1702.7,191.5 1704.8,181.0 1707.3,188.7 1709.7,175.4 1711.8,181.0 1714.3,170.5 1716.2,176.1 1718.5,161.5 1720.8,177.5 1722.9,140.6 1725.4,190.1 1727.8,166.4 1729.9,153.8 1732.0,153.1 1734.1,163.6 1736.2,193.6 1738.6,161.5 1741.1,165.7 1743.2,164.3 1745.2,162.9 1748.0,161.5 1751.9,173.3 1754.3,150.3 1756.4,160.8 1758.5,159.4 1760.9,137.1 1763.1,156.6 1765.1,146.1 1767.6,145.4 1770.4,131.5" fill="none" stroke="#ff0000" stroke-width="2.45" stroke-linejoin="round"/>
<line x1="1604.6" y1="109.5" x2="1604.6" y2="276.1" stroke="#231f20" stroke-width="1.5"/>
<line x1="1598.6" y1="275.3" x2="1769.9" y2="275.3" stroke="#231f20" stroke-width="1.5"/>
<line x1="1598.6" y1="275.3" x2="1604.6" y2="275.3" stroke="#231f20" stroke-width="1.5"/>
<text x="1555.7" y="285.8" font-size="23.6">-0.8</text>
<line x1="1598.6" y1="251.6" x2="1604.6" y2="251.6" stroke="#231f20" stroke-width="1.5"/>
<line x1="1598.6" y1="227.9" x2="1604.6" y2="227.9" stroke="#231f20" stroke-width="1.5"/>
<text x="1555.4" y="238.4" font-size="23.6">-0.4</text>
<line x1="1598.6" y1="204.2" x2="1604.6" y2="204.2" stroke="#231f20" stroke-width="1.5"/>
<line x1="1598.6" y1="180.6" x2="1604.6" y2="180.6" stroke="#231f20" stroke-width="1.5"/>
<text x="1563.4" y="191.1" font-size="23.6">0.0</text>
<line x1="1598.6" y1="156.9" x2="1604.6" y2="156.9" stroke="#231f20" stroke-width="1.5"/>
<line x1="1598.6" y1="133.2" x2="1604.6" y2="133.2" stroke="#231f20" stroke-width="1.5"/>
<text x="1563.2" y="143.7" font-size="23.6">0.4</text>
<line x1="1598.6" y1="109.5" x2="1604.6" y2="109.5" stroke="#231f20" stroke-width="1.5"/>
<line x1="1604.6" y1="275.3" x2="1604.6" y2="281.3" stroke="#231f20" stroke-width="1.5"/>
<text x="1588.1" y="306.4" font-size="23.6">-1</text>
<line x1="1640.3" y1="275.3" x2="1640.3" y2="281.3" stroke="#231f20" stroke-width="1.5"/>
<text x="1634.1" y="306.4" font-size="23.6">0</text>
<line x1="1676.0" y1="275.3" x2="1676.0" y2="281.3" stroke="#231f20" stroke-width="1.5"/>
<text x="1669.5" y="306.4" font-size="23.6">1</text>
<line x1="1711.7" y1="275.3" x2="1711.7" y2="281.3" stroke="#231f20" stroke-width="1.5"/>
<text x="1705.5" y="306.4" font-size="23.6">2</text>
<line x1="1747.4" y1="275.3" x2="1747.4" y2="281.3" stroke="#231f20" stroke-width="1.5"/>
<text x="1741.2" y="306.4" font-size="23.6">3</text>
<text x="1652.8" y="93.8" font-size="23.6"># 52</text>
<rect x="1868.9" y="109.5" width="13.3" height="165.8" fill="#e3e3e3"/>
<rect x="1882.2" y="109.5" width="18.0" height="165.8" fill="#dcebc4"/>
<rect x="1900.2" y="109.5" width="53.6" height="165.8" fill="#f3e8f5"/>
<polygon points="1832.7,188.6 1834.9,183.4 1837.3,182.7 1839.6,189.6 1842.2,199.2 1844.9,193.7 1848.4,186.3 1851.2,182.3 1853.3,191.8 1855.4,194.1 1857.5,190.2 1860.3,180.6 1862.4,182.6 1864.5,188.5 1867.0,188.2 1868.9,190.4 1871.7,194.9 1874.2,198.8 1876.3,190.2 1878.1,179.9 1880.5,192.7 1882.6,194.0 1884.7,194.0 1887.1,199.2 1889.3,191.0 1891.7,178.8 1893.7,183.1 1895.8,189.6 1897.9,194.2 1900.0,192.7 1902.4,188.0 1904.9,184.3 1907.4,191.2 1909.8,186.9 1912.6,187.4 1914.4,183.4 1916.3,177.6 1918.6,187.7 1920.9,184.7 1923.0,182.5 1925.5,187.1 1927.9,195.5 1930.0,182.7 1932.1,177.3 1934.2,181.0 1936.3,193.0 1939.1,194.6 1941.9,193.0 1944.6,190.0 1947.4,188.0 1949.8,191.2 1952.0,178.0 1954.4,183.2 1956.5,189.5 1958.6,188.2 1960.7,191.1 1962.8,191.5 1965.3,189.0 1967.9,175.5 1969.7,177.1 1971.8,184.9 1973.9,191.6 1976.3,190.4 1978.8,182.9 1981.3,183.4 1983.3,178.2 1985.5,171.1 1987.9,183.1 1990.0,188.7 1992.5,185.0 1994.8,182.0 1996.9,183.1 1999.0,187.6 1999.0,200.2 1996.9,199.5 1994.8,198.1 1992.5,201.8 1990.0,204.6 1987.9,205.4 1985.5,195.1 1983.3,198.8 1981.3,195.6 1978.8,202.8 1976.3,208.5 1973.9,205.9 1971.8,202.9 1969.7,197.1 1967.9,200.0 1965.3,213.8 1962.8,209.1 1960.7,204.0 1958.6,203.4 1956.5,201.1 1954.4,201.1 1952.0,203.9 1949.8,216.5 1947.4,208.5 1944.6,204.1 1941.9,206.2 1939.1,209.5 1936.3,210.1 1934.2,204.7 1932.1,194.1 1930.0,207.2 1927.9,211.5 1925.5,207.3 1923.0,199.0 1920.9,205.2 1918.6,208.1 1916.3,199.4 1914.4,201.9 1912.6,199.7 1909.8,205.1 1907.4,212.3 1904.9,204.6 1902.4,204.3 1900.0,209.1 1897.9,208.6 1895.8,207.6 1893.7,201.9 1891.7,203.4 1889.3,215.3 1887.1,215.7 1884.7,212.2 1882.6,212.3 1880.5,216.7 1878.1,204.4 1876.3,213.2 1874.2,213.0 1871.7,209.6 1868.9,206.4 1867.0,202.8 1864.5,205.3 1862.4,202.1 1860.3,201.6 1857.5,210.1 1855.4,208.7 1853.3,211.7 1851.2,203.8 1848.4,205.0 1844.9,211.1 1842.2,214.7 1839.6,210.8 1837.3,201.9 1834.9,200.9 1832.7,206.8" fill="#ff0000" fill-opacity="0.2"/>
<line x1="1833.2" y1="192.4" x2="1998.5" y2="192.4" stroke="#000" stroke-width="1.4" stroke-dasharray="3.6 2.6"/>
<line x1="1882.2" y1="109.5" x2="1882.2" y2="275.3" stroke="#000" stroke-width="1.15" stroke-dasharray="1.6 1.2"/>
<line x1="1900.2" y1="109.5" x2="1900.2" y2="275.3" stroke="#000" stroke-width="1.15" stroke-dasharray="1.6 1.2"/>
<polyline points="1832.7,200.5 1834.9,189.4 1837.3,189.4 1839.6,201.2 1842.2,208.9 1844.9,202.6 1848.4,195.6 1851.2,188.7 1853.3,206.1 1855.4,199.8 1857.5,204.7 1860.3,186.6 1862.4,192.1 1864.5,198.4 1867.0,194.2 1868.9,199.1 1871.7,201.2 1874.2,207.5 1876.3,206.8 1878.1,185.9 1880.5,211.0 1882.6,200.5 1884.7,201.2 1887.1,209.6 1889.3,208.9 1891.7,185.2 1893.7,192.1 1895.8,200.5 1897.9,201.2 1900.0,202.6 1902.4,195.6 1904.9,190.8 1907.4,205.4 1909.8,192.8 1912.6,192.8 1914.4,195.6 1916.3,183.8 1918.6,202.6 1920.9,194.2 1923.0,188.7 1925.5,197.0 1927.9,206.1 1930.0,195.6 1932.1,182.4 1934.2,192.1 1936.3,204.7 1939.1,201.9 1941.9,199.8 1944.6,197.0 1947.4,194.2 1949.8,210.3 1952.0,184.5 1954.4,194.2 1956.5,195.6 1958.6,194.9 1960.7,198.4 1962.8,197.7 1965.3,208.2 1967.9,181.0 1969.7,185.9 1971.8,195.6 1973.9,198.4 1976.3,202.6 1978.8,190.1 1981.3,188.7 1983.3,192.1 1985.5,177.5 1987.9,199.8 1990.0,196.3 1992.5,194.2 1994.8,188.7 1996.9,190.8 1999.0,194.9" fill="none" stroke="#ff0000" stroke-width="2.45" stroke-linejoin="round"/>
<line x1="1833.2" y1="109.5" x2="1833.2" y2="276.1" stroke="#231f20" stroke-width="1.5"/>
<line x1="1827.2" y1="275.3" x2="1998.5" y2="275.3" stroke="#231f20" stroke-width="1.5"/>
<line x1="1827.2" y1="275.3" x2="1833.2" y2="275.3" stroke="#231f20" stroke-width="1.5"/>
<line x1="1827.2" y1="258.7" x2="1833.2" y2="258.7" stroke="#231f20" stroke-width="1.5"/>
<text x="1784.3" y="269.7" font-size="23.6">-0.8</text>
<line x1="1827.2" y1="242.1" x2="1833.2" y2="242.1" stroke="#231f20" stroke-width="1.5"/>
<line x1="1827.2" y1="225.6" x2="1833.2" y2="225.6" stroke="#231f20" stroke-width="1.5"/>
<text x="1784.0" y="236.6" font-size="23.6">-0.4</text>
<line x1="1827.2" y1="209.0" x2="1833.2" y2="209.0" stroke="#231f20" stroke-width="1.5"/>
<line x1="1827.2" y1="192.4" x2="1833.2" y2="192.4" stroke="#231f20" stroke-width="1.5"/>
<text x="1792.0" y="203.4" font-size="23.6">0.0</text>
<line x1="1827.2" y1="175.8" x2="1833.2" y2="175.8" stroke="#231f20" stroke-width="1.5"/>
<line x1="1827.2" y1="159.2" x2="1833.2" y2="159.2" stroke="#231f20" stroke-width="1.5"/>
<text x="1791.8" y="170.2" font-size="23.6">0.4</text>
<line x1="1827.2" y1="142.7" x2="1833.2" y2="142.7" stroke="#231f20" stroke-width="1.5"/>
<line x1="1827.2" y1="126.1" x2="1833.2" y2="126.1" stroke="#231f20" stroke-width="1.5"/>
<text x="1792.0" y="137.1" font-size="23.6">0.8</text>
<line x1="1827.2" y1="109.5" x2="1833.2" y2="109.5" stroke="#231f20" stroke-width="1.5"/>
<line x1="1833.2" y1="275.3" x2="1833.2" y2="281.3" stroke="#231f20" stroke-width="1.5"/>
<text x="1816.7" y="306.4" font-size="23.6">-1</text>
<line x1="1868.9" y1="275.3" x2="1868.9" y2="281.3" stroke="#231f20" stroke-width="1.5"/>
<text x="1862.7" y="306.4" font-size="23.6">0</text>
<line x1="1904.6" y1="275.3" x2="1904.6" y2="281.3" stroke="#231f20" stroke-width="1.5"/>
<text x="1898.1" y="306.4" font-size="23.6">1</text>
<line x1="1940.3" y1="275.3" x2="1940.3" y2="281.3" stroke="#231f20" stroke-width="1.5"/>
<text x="1934.1" y="306.4" font-size="23.6">2</text>
<line x1="1976.0" y1="275.3" x2="1976.0" y2="281.3" stroke="#231f20" stroke-width="1.5"/>
<text x="1969.8" y="306.4" font-size="23.6">3</text>
<text x="1881.8" y="93.8" font-size="23.6"># 56</text>
<text transform="translate(107.5,189.0) rotate(-90)" x="-39.8" y="0" font-size="23.6">Z-score</text>
<text x="520.7" y="349.5" font-size="23.6">Time (s)</text>
<text x="1520.4" y="349.5" font-size="23.6">Time (s)</text>
<rect x="672.5" y="350.5" width="305.5" height="87" rx="25" fill="#eff1f0"/>
<rect x="1034" y="350.5" width="397.8" height="87" rx="25" fill="#eff1f0"/>
<text x="769.9" y="385.5" font-size="23.6">Instruction</text>
<text x="1168.8" y="385.5" font-size="23.6">Trial periods</text>
<line x1="731.0" y1="406.0" x2="752.0" y2="406.0" stroke="#0000ff" stroke-width="3"/>
<line x1="827.5" y1="406.0" x2="848.0" y2="406.0" stroke="#ff0000" stroke-width="3"/>
<text x="759.7" y="412.5" font-size="19.7">Go</text>
<text x="855.4" y="412.5" font-size="19.7">No-Go</text>
<rect x="1092.5" y="396.0" width="21.0" height="20.6" fill="#d6d6d6"/>
<rect x="1189.0" y="396.0" width="21.0" height="20.6" fill="#d2e6bd"/>
<rect x="1302.0" y="396.0" width="21.0" height="20.6" fill="#e5d8e8"/>
<text x="1121.1" y="412.3" font-size="19.7">cue</text>
<text x="1217.2" y="412.3" font-size="19.7">delay</text>
<text x="1329.7" y="412.3" font-size="19.7">report</text>
<text x="407.3" y="519.3" font-size="23.6">naïve</text>
<text x="727.4" y="519.3" font-size="23.6">day 4</text>
<text x="1048.6" y="519.3" font-size="23.6">day 6</text>
<text x="305.2" y="844.0" font-size="23.6">-1</text>
<text x="367.2" y="844.0" font-size="23.6">0</text>
<text x="427.4" y="844.0" font-size="23.6">1</text>
<text x="484.1" y="844.0" font-size="23.6">2</text>
<text x="535.9" y="844.0" font-size="23.6">3</text>
<text x="279.3" y="573.0" font-size="23.6">1</text>
<text x="266.5" y="820.0" font-size="23.6">94</text>
<text x="626.2" y="844.0" font-size="23.6">-1</text>
<text x="688.2" y="844.0" font-size="23.6">0</text>
<text x="748.4" y="844.0" font-size="23.6">1</text>
<text x="805.1" y="844.0" font-size="23.6">2</text>
<text x="856.9" y="844.0" font-size="23.6">3</text>
<text x="600.3" y="573.0" font-size="23.6">1</text>
<text x="588.0" y="820.0" font-size="23.6">82</text>
<text x="947.2" y="844.0" font-size="23.6">-1</text>
<text x="1009.2" y="844.0" font-size="23.6">0</text>
<text x="1069.4" y="844.0" font-size="23.6">1</text>
<text x="1126.1" y="844.0" font-size="23.6">2</text>
<text x="1177.9" y="844.0" font-size="23.6">3</text>
<text x="921.3" y="573.0" font-size="23.6">1</text>
<text x="908.7" y="820.0" font-size="23.6">70</text>
<text x="305.2" y="1214.0" font-size="23.6">-1</text>
<text x="367.2" y="1214.0" font-size="23.6">0</text>
<text x="427.4" y="1214.0" font-size="23.6">1</text>
<text x="484.1" y="1214.0" font-size="23.6">2</text>
<text x="535.9" y="1214.0" font-size="23.6">3</text>
<text x="279.3" y="943.0" font-size="23.6">1</text>
<text x="266.5" y="1190.0" font-size="23.6">94</text>
<text x="626.2" y="1214.0" font-size="23.6">-1</text>
<text x="688.2" y="1214.0" font-size="23.6">0</text>
<text x="748.4" y="1214.0" font-size="23.6">1</text>
<text x="805.1" y="1214.0" font-size="23.6">2</text>
<text x="856.9" y="1214.0" font-size="23.6">3</text>
<text x="600.3" y="943.0" font-size="23.6">1</text>
<text x="588.0" y="1190.0" font-size="23.6">82</text>
<text x="947.2" y="1214.0" font-size="23.6">-1</text>
<text x="1009.2" y="1214.0" font-size="23.6">0</text>
<text x="1069.4" y="1214.0" font-size="23.6">1</text>
<text x="1126.1" y="1214.0" font-size="23.6">2</text>
<text x="1177.9" y="1214.0" font-size="23.6">3</text>
<text x="921.3" y="943.0" font-size="23.6">1</text>
<text x="908.7" y="1190.0" font-size="23.6">70</text>
<text x="721.4" y="882.4" font-size="23.6">Time (s)</text>
<text x="719.4" y="1249.0" font-size="23.6">Time (s)</text>
<g transform="translate(303,559)"><g filter="url(#hf0)"><rect width="267" height="253" fill="#444"/><g transform="scale(1,2.69149)" shape-rendering="crispEdges"><path fill="#232323" d="M223 18H267V19H223z"/><path fill="#252525" d="M208 18H223V19H208z"/><path fill="#262626" d="M223 51H267V52H223z"/><path fill="#272727" d="M208 51H223V52H208zM118 92H148V93H118z"/><path fill="#292929" d="M223 1H267V2H223z"/><path fill="#2a2a2a" d="M193 18H208V19H193zM193 51H208V52H193zM90 89H118V90H90zM118 91H148V92H118z"/><path fill="#2b2b2b" d="M208 1H223V2H208z"/><path fill="#2c2c2c" d="M90 88H148V89H90zM90 91H118V92H90zM148 92H163V93H148zM90 93H118V94H90z"/><path fill="#2e2e2e" d="M178 51H193V52H178z"/><path fill="#2f2f2f" d="M148 91H163V92H148zM69 92H118V93H69z"/><path fill="#303030" d="M193 1H208V2H193zM223 22H267V23H223zM118 93H148V94H118z"/><path fill="#313131" d="M178 18H193V19H178zM208 22H223V23H208zM148 88H163V89H148z"/><path fill="#323232" d="M163 51H178V52H163zM118 87H148V88H118z"/><path fill="#333333" d="M223 21H267V22H223zM193 22H208V23H193zM223 23H267V24H223zM118 90H148V91H118z"/><path fill="#343434" d="M208 21H223V22H208zM208 23H223V24H208zM90 87H118V88H90z"/><path fill="#353535" d="M193 21H208V22H193zM193 23H208V24H193zM148 51H163V52H148z"/><path fill="#363636" d="M178 22H193V23H178zM90 86H118V87H90zM118 89H148V90H118z"/><path fill="#373737" d="M178 1H193V2H178zM148 87H163V88H148zM90 90H118V91H90zM148 93H163V94H148z"/><path fill="#383838" d="M163 18H178V19H163zM178 21H193V22H178zM178 23H193V24H178zM133 51H148V52H133zM163 92H178V93H163zM69 93H90V94H69z"/><path fill="#393939" d="M163 22H178V23H163zM118 51H133V52H118zM148 90H163V91H148z"/><path fill="#3a3a3a" d="M69 88H90V89H69zM69 90H90V91H69zM163 91H178V92H163z"/><path fill="#3b3b3b" d="M163 21H178V22H163zM163 23H178V24H163zM208 33H267V34H208zM163 88H178V89H163z"/><path fill="#3c3c3c" d="M0 11H69V12H0zM0 15H69V16H0zM148 22H163V23H148zM0 32H69V33H0zM193 33H208V34H193zM0 41H69V42H0zM148 89H163V90H148zM0 90H69V91H0z"/><path fill="#3d3d3d" d="M0 7H69V8H0zM148 21H163V22H148zM148 23H163V24H148zM178 33H193V34H178zM0 34H69V35H0zM0 35H69V36H0zM0 77H69V78H0zM0 86H69V87H0zM118 86H148V87H118zM0 88H69V89H0z"/><path fill="#3e3e3e" d="M163 1H178V2H163zM0 22H69V23H0zM163 33H178V34H163zM0 38H69V39H0zM0 39H69V40H0zM0 58H69V59H0zM0 67H69V68H0zM0 70H69V71H0zM69 86H90V87H69zM0 93H69V94H0z"/><path fill="#3f3f3f" d="M0 8H69V9H0zM0 9H69V10H0zM148 18H163V19H148zM133 21H148V22H133zM133 22H148V23H133zM133 23H148V24H133zM0 24H69V25H0zM118 33H163V34H118zM0 50H69V51H0zM0 54H69V55H0zM0 57H69V58H0zM0 68H69V69H0zM0 69H69V70H0zM0 74H69V75H0zM0 78H69V79H0zM0 79H69V80H0zM90 85H118V86H90zM69 87H90V88H69z"/><path fill="#404040" d="M0 1H69V2H0zM0 2H69V3H0zM0 6H69V7H0zM0 13H69V14H0zM118 21H133V22H118zM118 22H133V23H118zM0 23H69V24H0zM118 23H133V24H118zM0 27H69V28H0zM148 44H267V45H148zM0 48H69V49H0zM0 55H69V56H0zM0 56H69V57H0zM0 60H69V61H0zM0 63H69V64H0zM0 64H69V65H0zM0 75H69V76H0zM0 80H69V81H0zM0 84H69V85H0zM118 84H148V85H118z"/><path fill="#414141" d="M0 16H69V17H0zM0 18H69V19H0zM0 25H69V26H0zM0 33H69V34H0zM0 37H69V38H0zM0 40H69V41H0zM118 44H148V45H118zM0 62H69V63H0zM118 63H148V64H118zM0 66H69V67H0zM0 72H69V73H0zM0 85H69V86H0zM163 87H178V88H163zM69 89H90V90H69zM69 91H90V92H69z"/><path fill="#424242" d="M0 0H69V1H0zM0 3H69V4H0zM0 5H69V6H0zM0 12H69V13H0zM0 14H69V15H0zM0 17H69V18H0zM0 20H69V21H0zM0 21H69V22H0zM0 49H69V50H0zM0 52H69V53H0zM118 60H163V61H118zM0 61H69V62H0zM148 63H163V64H148zM0 81H69V82H0zM148 86H163V87H148zM0 87H69V88H0zM0 92H69V93H0z"/><path fill="#434343" d="M0 19H69V20H0zM0 28H69V29H0zM0 29H69V30H0zM0 30H69V31H0zM0 31H69V32H0zM0 43H69V44H0zM0 53H69V54H0zM163 60H178V61H163zM163 63H178V64H163zM0 65H69V66H0zM118 65H148V66H118zM69 85H90V86H69zM0 91H69V92H0z"/><path fill="#444444" d="M0 4H69V5H0zM0 10H69V11H0zM133 18H148V19H133zM0 36H69V37H0zM0 44H69V45H0zM0 45H69V46H0zM0 46H69V47H0zM118 57H148V58H118zM0 59H69V60H0zM178 60H193V61H178zM178 63H193V64H178zM148 65H163V66H148zM118 69H148V70H118zM0 71H69V72H0zM118 81H148V82H118zM0 82H69V83H0zM0 83H69V84H0zM148 84H163V85H148z"/><path fill="#454545" d="M148 1H163V2H148zM208 10H267V11H208zM0 42H69V43H0zM0 47H69V48H0zM148 57H163V58H148zM193 60H267V61H193zM193 63H267V64H193zM148 69H163V70H148zM0 73H69V74H0zM118 73H148V74H118zM118 80H148V81H118zM148 81H163V82H148zM69 83H90V84H69zM118 85H148V86H118zM0 89H69V90H0z"/><path fill="#464646" d="M193 10H208V11H193zM118 18H133V19H118zM118 37H163V38H118zM0 51H69V52H0zM163 57H178V58H163zM163 65H178V66H163zM90 79H118V80H90zM148 80H163V81H148zM118 83H148V84H118zM90 84H118V85H90zM178 88H193V89H178zM178 92H193V93H178zM163 93H178V94H163z"/><path fill="#474747" d="M118 30H148V31H118zM163 37H178V38H163zM118 45H148V46H118zM178 57H193V58H178zM163 69H178V70H163zM148 73H163V74H148zM0 76H69V77H0zM69 84H90V85H69zM163 90H178V91H163z"/><path fill="#484848" d="M118 27H163V28H118zM148 30H163V31H148zM118 32H148V33H118zM178 37H193V38H178zM148 45H163V46H148zM118 50H148V51H118zM178 65H193V66H178zM118 76H148V77H118zM90 83H118V84H90zM178 91H193V92H178z"/><path fill="#494949" d="M0 26H69V27H0zM163 27H178V28H163zM163 30H178V31H163zM148 32H163V33H148zM193 37H208V38H193zM148 50H163V51H148zM118 52H148V53H118zM193 57H267V58H193zM118 62H148V63H118zM69 79H90V80H69zM90 81H118V82H90zM163 81H178V82H163zM118 82H148V83H118zM148 83H163V84H148zM148 85H163V86H148zM163 89H178V90H163z"/><path fill="#4a4a4a" d="M133 1H148V2H133zM178 10H193V11H178zM178 27H193V28H178zM118 28H148V29H118zM178 30H193V31H178zM163 32H178V33H163zM208 37H267V38H208zM118 38H148V39H118zM163 45H178V46H163zM118 46H148V47H118zM163 50H178V51H163zM148 52H163V53H148zM148 62H163V63H148zM193 65H208V66H193zM118 67H148V68H118zM178 69H193V70H178zM163 73H178V74H163zM148 76H163V77H148zM163 80H178V81H163zM90 82H118V83H90z"/><path fill="#4b4b4b" d="M193 27H208V28H193zM148 28H163V29H148zM118 29H148V30H118zM193 30H208V31H193zM148 38H163V39H148zM148 46H163V47H148zM118 56H148V57H118zM208 65H267V66H208zM148 67H163V68H148zM118 68H148V69H118zM118 77H148V78H118zM163 84H178V85H163z"/><path fill="#4c4c4c" d="M118 1H133V2H118zM118 24H148V25H118zM208 27H267V28H208zM163 28H178V29H163zM148 29H163V30H148zM208 30H267V31H208zM118 31H148V32H118zM178 32H193V33H178zM178 45H193V46H178zM69 48H90V49H69zM163 52H178V53H163zM118 53H148V54H118zM148 56H163V57H148zM69 65H90V66H69zM193 69H208V70H193zM118 75H148V76H118zM90 80H118V81H90zM148 82H163V83H148z"/><path fill="#4d4d4d" d="M208 12H267V13H208zM193 17H267V18H193zM148 24H163V25H148zM148 31H163V32H148zM193 32H208V33H193zM118 36H148V37H118zM163 38H178V39H163zM118 40H148V41H118zM118 41H148V42H118zM193 45H208V46H193zM178 50H193V51H178zM163 62H178V63H163zM148 68H163V69H148zM208 69H267V70H208zM178 73H193V74H178zM90 75H118V76H90zM90 77H118V78H90zM148 77H163V78H148zM178 81H193V82H178zM163 86H178V87H163z"/><path fill="#4e4e4e" d="M193 12H208V13H193zM163 17H193V18H163zM163 24H178V25H163zM69 25H90V26H69zM178 28H193V29H178zM163 29H178V30H163zM208 32H267V33H208zM148 40H163V41H148zM208 45H267V46H208zM163 46H178V47H163zM193 50H208V51H193zM69 51H90V52H69zM148 53H163V54H148zM118 64H148V65H118zM90 66H118V67H90zM148 75H163V76H148zM163 76H178V77H163zM178 80H193V81H178zM178 87H193V88H178z"/><path fill="#4f4f4f" d="M163 10H178V11H163zM118 17H163V18H118zM178 24H193V25H178zM163 31H178V32H163zM148 36H163V37H148zM148 41H163V42H148zM208 50H267V51H208zM69 52H90V53H69zM178 52H193V53H178zM69 56H90V57H69zM163 56H178V57H163zM163 67H178V68H163zM69 69H90V70H69zM90 70H118V71H90zM69 73H90V74H69zM69 76H90V77H69zM69 82H90V83H69zM163 83H178V84H163z"/><path fill="#505050" d="M178 12H193V13H178zM118 25H148V26H118zM193 28H208V29H193zM118 34H148V35H118zM69 37H90V38H69zM178 38H193V39H178zM118 39H148V40H118zM178 46H193V47H178zM178 62H193V63H178zM148 64H163V65H148zM193 73H208V74H193zM69 74H90V75H69zM193 81H208V82H193zM193 88H208V89H193z"/><path fill="#515151" d="M163 12H178V13H163zM193 24H267V25H193zM148 25H163V26H148zM208 28H267V29H208zM178 29H193V30H178zM148 34H163V35H148zM163 36H178V37H163zM148 39H163V40H148zM163 40H178V41H163zM118 42H148V43H118zM69 47H90V48H69zM193 52H208V53H193zM163 53H178V54H163zM69 59H90V60H69zM69 61H90V62H69zM163 68H178V69H163zM90 71H118V72H90zM208 73H267V74H208zM118 74H148V75H118zM90 78H118V79H90zM69 80H90V81H69zM193 80H208V81H193zM163 82H178V83H163zM193 92H208V93H193z"/><path fill="#525252" d="M118 19H148V20H118zM178 31H193V32H178zM193 38H208V39H193zM163 41H178V42H163zM148 42H163V43H148zM208 52H267V53H208zM69 53H90V54H69zM178 56H193V57H178zM118 58H148V59H118zM118 71H148V72H118zM90 72H148V73H90zM163 75H178V76H163zM178 76H193V77H178zM163 77H178V78H163zM208 81H267V82H208z"/><path fill="#535353" d="M208 7H267V8H208zM208 9H267V10H208zM148 10H163V11H148zM118 12H163V13H118zM148 19H163V20H148zM69 22H90V23H69zM163 25H178V26H163zM118 26H133V27H118zM193 29H208V30H193zM208 38H267V39H208zM193 46H208V47H193zM118 54H133V55H118zM90 56H118V57H90zM69 62H90V63H69zM193 62H208V63H193zM178 67H193V68H178zM90 69H118V70H90zM69 75H90V76H69zM208 80H267V81H208zM69 81H90V82H69zM178 84H193V85H178z"/><path fill="#545454" d="M193 9H208V10H193zM118 10H148V11H118zM163 19H178V20H163zM208 29H267V30H208zM193 31H208V32H193zM163 34H178V35H163zM118 43H148V44H118zM208 46H267V47H208zM90 47H118V48H90zM118 49H148V50H118zM193 56H208V57H193zM69 57H90V58H69zM148 58H163V59H148zM118 59H148V60H118zM208 62H267V63H208zM163 64H178V65H163zM69 71H90V72H69zM148 71H163V72H148zM148 72H163V73H148zM90 74H118V75H90zM148 74H163V75H148zM90 76H118V77H90zM118 79H148V80H118zM163 85H178V86H163zM208 88H267V89H208zM193 91H208V92H193z"/><path fill="#555555" d="M193 7H208V8H193zM69 19H90V20H69zM178 19H193V20H178zM69 21H90V22H69zM208 31H267V32H208zM69 32H90V33H69zM118 35H148V36H118zM178 36H193V37H178zM163 39H178V40H163zM178 40H193V41H178zM178 41H193V42H178zM90 46H118V47H90zM90 53H118V54H90zM178 53H193V54H178zM208 56H267V57H208zM118 61H148V62H118zM90 62H118V63H90zM69 64H90V65H69zM90 68H118V69H90zM90 73H118V74H90zM69 78H90V79H69z"/><path fill="#565656" d="M193 19H267V20H193zM178 25H193V26H178zM133 26H148V27H133zM69 33H90V34H69zM69 39H90V40H69zM69 40H90V41H69zM69 41H90V42H69zM163 42H178V43H163zM148 43H163V44H148zM69 44H90V45H69zM118 48H148V49H118zM90 49H118V50H90zM133 54H148V55H133zM69 55H90V56H69zM148 59H163V60H148zM90 61H118V62H90zM193 67H208V68H193zM178 68H193V69H178zM193 76H208V77H193zM178 83H193V84H178zM178 90H193V91H178zM208 92H267V93H208z"/><path fill="#575757" d="M178 9H193V10H178zM69 10H90V11H69zM118 16H163V17H118zM69 20H90V21H69zM69 34H90V35H69zM148 35H163V36H148zM69 36H90V37H69zM69 43H90V44H69zM69 46H90V47H69zM118 47H148V48H118zM148 49H163V50H148zM90 54H118V55H90zM118 55H148V56H118zM90 57H118V58H90zM69 67H90V68H69zM69 77H90V78H69zM148 79H163V80H148zM178 82H193V83H178zM178 93H193V94H178z"/><path fill="#585858" d="M69 14H90V15H69zM163 16H178V17H163zM193 25H208V26H193zM69 28H90V29H69zM178 34H193V35H178zM193 36H208V37H193zM193 40H208V41H193zM193 41H208V42H193zM69 49H90V50H69zM193 53H208V54H193zM69 54H90V55H69zM148 61H163V62H148zM69 63H118V64H69zM90 64H118V65H90zM90 67H118V68H90zM208 67H267V68H208zM178 75H193V76H178zM208 76H267V77H208zM178 77H193V78H178zM118 78H148V79H118zM193 87H208V88H193zM208 91H267V92H208z"/><path fill="#595959" d="M69 8H90V9H69zM69 9H90V10H69zM69 12H90V13H69zM118 14H163V15H118zM118 20H148V21H118zM208 25H267V26H208zM69 26H90V27H69zM90 36H118V37H90zM208 36H267V37H208zM178 39H193V40H178zM90 40H118V41H90zM208 40H267V41H208zM208 41H267V42H208zM148 47H163V48H148zM90 48H118V49H90zM148 48H163V49H148zM90 50H118V51H90zM90 51H118V52H90zM90 52H118V53H90zM208 53H267V54H208zM90 55H118V56H90zM148 55H163V56H148zM90 58H118V59H90zM163 58H178V59H163zM178 64H193V65H178zM69 66H90V67H69zM118 66H133V67H118zM118 70H133V71H118zM178 89H193V90H178z"/><path fill="#5a5a5a" d="M163 11H267V12H163zM163 14H178V15H163zM178 16H193V17H178zM148 20H163V21H148zM69 24H90V25H69zM69 31H90V32H69zM69 60H118V61H69zM193 68H208V69H193zM69 70H90V71H69zM163 71H178V72H163zM163 72H178V73H163zM163 74H178V75H163zM193 84H208V85H193zM178 86H193V87H178z"/><path fill="#5b5b5b" d="M178 7H193V8H178zM163 9H178V10H163zM69 11H90V12H69zM118 11H163V12H118zM178 14H193V15H178zM193 16H267V17H193zM69 17H90V18H69zM69 29H90V30H69zM69 30H90V31H69zM90 33H118V34H90zM90 37H118V38H90zM90 38H118V39H90zM178 42H193V43H178zM163 43H178V44H163zM90 44H118V45H90zM69 45H90V46H69zM69 58H90V59H69zM163 59H178V60H163zM90 65H118V66H90zM69 68H90V69H69zM148 78H163V79H148zM193 82H208V83H193z"/><path fill="#5c5c5c" d="M193 14H267V15H193zM69 15H90V16H69zM90 30H118V31H90zM90 34H118V35H90zM193 34H208V35H193zM163 35H178V36H163zM69 38H90V39H69zM193 39H208V40H193zM90 42H118V43H90zM163 49H178V50H163zM133 66H148V67H133zM208 68H267V69H208zM133 70H148V71H133zM193 83H208V84H193zM208 87H267V88H208z"/><path fill="#5d5d5d" d="M118 13H148V14H118zM69 18H90V19H69zM163 20H178V21H163zM90 22H118V23H90zM148 26H163V27H148zM90 29H118V30H90zM90 31H118V32H90zM208 34H267V35H208zM69 35H90V36H69zM90 39H118V40H90zM69 42H90V43H69zM148 54H163V55H148zM163 61H178V62H163zM193 64H208V65H193zM193 75H208V76H193zM193 77H208V78H193zM208 82H267V83H208zM208 84H267V85H208z"/><path fill="#5e5e5e" d="M148 13H163V14H148zM69 16H90V17H69zM69 23H90V24H69zM90 25H118V26H90zM208 39H267V40H208zM193 42H208V43H193zM90 43H118V44H90zM163 48H178V49H163zM69 50H90V51H69zM178 58H193V59H178zM90 59H118V60H90zM69 72H90V73H69zM208 77H267V78H208zM163 79H178V80H163zM208 83H267V84H208z"/><path fill="#5f5f5f" d="M208 5H267V6H208zM148 9H163V10H148zM163 13H178V14H163zM90 20H118V21H90zM90 26H118V27H90zM69 27H90V28H69zM163 47H178V48H163zM163 55H178V56H163zM208 64H267V65H208zM208 75H267V76H208z"/><path fill="#606060" d="M118 9H148V10H118zM178 20H193V21H178zM90 23H118V24H90zM208 42H267V43H208zM178 43H193V44H178zM178 85H193V86H178z"/><path fill="#616161" d="M193 5H208V6H193zM178 13H193V14H178zM90 15H118V16H90zM90 19H118V20H90zM90 28H118V29H90zM90 45H118V46H90zM178 49H193V50H178zM178 71H193V72H178zM178 72H193V73H178z"/><path fill="#626262" d="M163 7H178V8H163zM193 13H208V14H193zM90 35H118V36H90zM178 35H193V36H178zM178 59H193V60H178zM178 74H193V75H178z"/><path fill="#636363" d="M208 13H267V14H208zM193 20H208V21H193zM90 27H118V28H90zM90 41H118V42H90zM193 58H208V59H193zM148 70H163V71H148zM163 78H178V79H163zM193 90H208V91H193z"/><path fill="#646464" d="M90 17H118V18H90zM90 18H118V19H90zM208 20H267V21H208zM90 24H118V25H90zM178 48H193V49H178zM178 61H193V62H178zM148 66H163V67H148z"/><path fill="#656565" d="M90 13H118V14H90zM90 16H118V17H90zM193 43H208V44H193zM178 47H193V48H178zM208 58H267V59H208zM193 86H208V87H193z"/><path fill="#666666" d="M178 5H193V6H178zM193 49H208V50H193zM163 54H178V55H163zM178 55H193V56H178zM193 89H208V90H193zM193 93H208V94H193z"/><path fill="#676767" d="M208 2H267V3H208zM163 26H178V27H163zM90 32H118V33H90zM193 35H208V36H193zM208 43H267V44H208zM193 59H208V60H193zM193 71H208V72H193zM193 72H208V73H193zM178 79H193V80H178z"/><path fill="#686868" d="M193 2H208V3H193zM148 7H163V8H148zM69 13H90V14H69zM208 35H267V36H208zM208 49H267V50H208zM193 74H208V75H193z"/><path fill="#696969" d="M208 0H267V1H208zM90 21H118V22H90zM208 59H267V60H208zM208 71H267V72H208zM208 86H267V87H208zM208 90H267V91H208z"/><path fill="#6a6a6a" d="M118 7H148V8H118zM90 14H118V15H90zM193 47H208V48H193zM193 48H208V49H193zM193 61H208V62H193zM208 72H267V73H208zM208 74H267V75H208z"/><path fill="#6b6b6b" d="M193 0H208V1H193zM163 5H178V6H163zM208 6H267V7H208zM193 55H208V56H193zM193 85H208V86H193zM208 89H267V90H208z"/><path fill="#6c6c6c" d="M193 6H208V7H193zM69 7H90V8H69zM90 12H118V13H90zM118 15H133V16H118zM208 48H267V49H208zM208 61H267V62H208zM163 70H178V71H163zM208 93H267V94H208z"/><path fill="#6d6d6d" d="M178 2H193V3H178zM90 10H118V11H90zM133 15H148V16H133zM208 47H267V48H208zM178 78H193V79H178z"/><path fill="#6e6e6e" d="M90 9H118V10H90zM148 15H163V16H148zM208 55H267V56H208zM193 79H208V80H193z"/><path fill="#6f6f6f" d="M178 0H193V1H178zM208 4H267V5H208zM178 6H193V7H178zM90 11H118V12H90zM163 66H178V67H163zM208 85H267V86H208z"/><path fill="#707070" d="M193 4H208V5H193zM69 5H90V6H69zM148 5H163V6H148zM163 15H178V16H163zM178 54H193V55H178zM208 79H267V80H208z"/><path fill="#727272" d="M163 2H178V3H163zM118 5H148V6H118zM90 8H118V9H90zM178 15H193V16H178zM178 26H193V27H178z"/><path fill="#737373" d="M208 3H267V4H208zM178 4H193V5H178zM163 6H178V7H163z"/><path fill="#747474" d="M163 0H178V1H163zM193 3H208V4H193zM193 15H208V16H193z"/><path fill="#757575" d="M208 15H223V16H208zM193 78H208V79H193z"/><path fill="#767676" d="M148 2H163V3H148zM178 3H193V4H178zM163 4H178V5H163zM90 5H118V6H90zM69 6H90V7H69zM148 6H163V7H148zM223 15H267V16H223z"/><path fill="#777777" d="M118 6H148V7H118zM90 7H118V8H90zM178 70H193V71H178z"/><path fill="#787878" d="M118 2H148V3H118zM208 78H267V79H208z"/><path fill="#797979" d="M148 0H163V1H148zM90 2H118V3H90zM163 3H178V4H163zM90 4H118V5H90zM148 4H163V5H148zM90 6H118V7H90zM118 8H133V9H118zM193 54H208V55H193z"/><path fill="#7a7a7a" d="M118 0H148V1H118zM118 4H148V5H118zM178 66H193V67H178z"/><path fill="#7b7b7b" d="M69 3H90V4H69z"/><path fill="#7c7c7c" d="M69 1H90V2H69zM148 3H163V4H148zM69 4H90V5H69zM193 26H208V27H193z"/><path fill="#7d7d7d" d="M118 3H148V4H118zM133 8H148V9H133z"/><path fill="#7e7e7e" d="M90 1H118V2H90zM90 3H118V4H90z"/><path fill="#7f7f7f" d="M90 0H118V1H90z"/><path fill="#808080" d="M208 54H223V55H208zM193 70H208V71H193z"/><path fill="#838383" d="M208 26H223V27H208zM223 54H267V55H223z"/><path fill="#858585" d="M193 66H208V67H193z"/><path fill="#868686" d="M223 26H267V27H223z"/><path fill="#878787" d="M69 2H90V3H69zM148 8H163V9H148zM208 70H223V71H208z"/><path fill="#898989" d="M69 0H90V1H69zM223 70H267V71H223z"/><path fill="#8d8d8d" d="M208 66H223V67H208z"/><path fill="#8f8f8f" d="M223 66H267V67H223z"/><path fill="#959595" d="M163 8H178V9H163z"/><path fill="#a4a4a4" d="M178 8H193V9H178z"/><path fill="#b2b2b2" d="M193 8H208V9H193z"/><path fill="#bcbcbc" d="M208 8H223V9H208z"/><path fill="#bfbfbf" d="M223 8H267V9H223z"/></g></g>
<line x1="69.4" y1="0" x2="69.4" y2="253" stroke="#fff" stroke-width="2.4" stroke-dasharray="3.6 2"/>
<line x1="89.8" y1="0" x2="89.8" y2="253" stroke="#fff" stroke-width="2.4" stroke-dasharray="3.6 2"/>
<line x1="118.4" y1="0" x2="118.4" y2="253" stroke="#fff" stroke-width="2.4" stroke-dasharray="3.6 2"/>
<rect x="69.4" y="-23.4" width="20.4" height="23.4" fill="#e3e3e3"/>
<rect x="89.8" y="-23.4" width="28.6" height="23.4" fill="#dcebc4"/>
<rect x="118.4" y="-23.4" width="72.6" height="23.4" fill="#f3e8f5"/>
<line x1="89.8" y1="-23.4" x2="89.8" y2="0" stroke="#000" stroke-width="2" stroke-dasharray="3 2"/>
<line x1="118.4" y1="-23.4" x2="118.4" y2="0" stroke="#000" stroke-width="2" stroke-dasharray="3 2"/>
<line x1="12.6" y1="253" x2="12.6" y2="259" stroke="#333" stroke-width="1.3"/>
<line x1="69.4" y1="253" x2="69.4" y2="259" stroke="#333" stroke-width="1.3"/>
<line x1="128.2" y1="253" x2="128.2" y2="259" stroke="#333" stroke-width="1.3"/>
<line x1="187.1" y1="253" x2="187.1" y2="259" stroke="#333" stroke-width="1.3"/>
<line x1="238.1" y1="253" x2="238.1" y2="259" stroke="#333" stroke-width="1.3"/>
<line x1="-6" y1="1.3" x2="0" y2="1.3" stroke="#333" stroke-width="1.3"/>
<line x1="-6" y1="251.7" x2="0" y2="251.7" stroke="#333" stroke-width="1.3"/>
</g>
<g transform="translate(624,559)"><g filter="url(#hf1)"><rect width="267" height="253" fill="#444"/><g transform="scale(1,3.08537)" shape-rendering="crispEdges"><path fill="#000000" d="M90 81H104V82H90z"/><path fill="#010101" d="M104 81H118V82H104z"/><path fill="#0a0a0a" d="M90 80H104V81H90z"/><path fill="#0c0c0c" d="M90 74H118V75H90zM90 76H104V77H90zM90 79H104V80H90z"/><path fill="#0d0d0d" d="M223 73H267V74H223zM223 74H267V75H223zM104 76H118V77H104zM90 77H104V78H90zM90 78H104V79H90zM104 80H118V81H104z"/><path fill="#0e0e0e" d="M208 73H223V74H208zM208 74H223V75H208zM104 79H118V80H104z"/><path fill="#0f0f0f" d="M90 75H104V76H90zM104 77H118V78H104zM104 78H118V79H104z"/><path fill="#101010" d="M104 75H118V76H104zM69 80H90V81H69z"/><path fill="#121212" d="M193 73H208V74H193zM193 74H208V75H193z"/><path fill="#131313" d="M223 76H267V77H223zM69 81H90V82H69z"/><path fill="#141414" d="M208 76H223V77H208z"/><path fill="#151515" d="M90 73H104V74H90z"/><path fill="#161616" d="M118 72H148V73H118zM104 73H118V74H104z"/><path fill="#171717" d="M178 73H193V74H178zM178 74H193V75H178zM193 76H208V77H193z"/><path fill="#181818" d="M90 70H118V71H90zM69 77H90V78H69zM118 78H148V79H118z"/><path fill="#191919" d="M90 72H118V73H90zM69 79H90V80H69zM118 80H148V81H118z"/><path fill="#1a1a1a" d="M90 69H118V70H90zM118 79H148V80H118z"/><path fill="#1b1b1b" d="M178 76H193V77H178zM69 78H90V79H69z"/><path fill="#1c1c1c" d="M148 72H163V73H148zM163 73H178V74H163zM163 74H178V75H163zM69 76H90V77H69z"/><path fill="#1d1d1d" d="M90 71H118V72H90z"/><path fill="#1f1f1f" d="M163 76H178V77H163zM148 78H163V79H148z"/><path fill="#202020" d="M90 68H104V69H90zM69 74H90V75H69zM118 77H148V78H118zM118 81H148V82H118z"/><path fill="#212121" d="M90 66H104V67H90zM104 68H118V69H104zM148 73H163V74H148zM148 74H163V75H148zM148 80H163V81H148z"/><path fill="#222222" d="M148 76H163V77H148zM148 79H163V80H148z"/><path fill="#232323" d="M104 66H118V67H104z"/><path fill="#242424" d="M69 75H90V76H69zM118 75H148V76H118z"/><path fill="#252525" d="M90 65H104V66H90zM90 67H104V68H90zM118 70H148V71H118zM133 73H148V74H133zM133 74H148V75H133zM133 76H148V77H133z"/><path fill="#262626" d="M90 64H104V65H90zM104 67H118V68H104zM69 72H90V73H69zM118 73H133V74H118zM118 74H133V75H118zM118 76H133V77H118z"/><path fill="#272727" d="M118 68H148V69H118zM118 71H148V72H118zM69 73H90V74H69z"/><path fill="#282828" d="M118 69H148V70H118zM163 72H178V73H163zM148 77H163V78H148z"/><path fill="#292929" d="M104 65H118V66H104zM148 81H163V82H148z"/><path fill="#2a2a2a" d="M104 64H118V65H104z"/><path fill="#2b2b2b" d="M90 63H104V64H90zM148 68H163V69H148zM148 70H163V71H148z"/><path fill="#2c2c2c" d="M69 66H90V67H69zM69 70H90V71H69zM69 71H90V72H69zM148 75H163V76H148z"/><path fill="#2d2d2d" d="M223 5H267V6H223zM223 6H267V7H223zM90 62H104V63H90zM69 67H90V68H69zM148 69H163V70H148zM148 71H163V72H148z"/><path fill="#2e2e2e" d="M208 5H223V6H208zM208 6H223V7H208zM69 68H90V69H69z"/><path fill="#303030" d="M104 63H118V64H104zM118 65H148V66H118zM163 78H178V79H163z"/><path fill="#313131" d="M90 61H104V62H90zM148 65H163V66H148z"/><path fill="#333333" d="M193 5H208V6H193zM193 6H208V7H193zM208 10H267V11H208zM104 62H118V63H104zM69 69H90V70H69zM163 79H178V80H163zM163 80H178V81H163z"/><path fill="#343434" d="M69 62H90V63H69zM163 65H178V66H163z"/><path fill="#353535" d="M193 10H208V11H193zM208 19H267V20H208zM163 68H178V69H163z"/><path fill="#363636" d="M193 19H208V20H193zM69 65H90V66H69zM178 72H193V73H178z"/><path fill="#373737" d="M90 60H104V61H90zM104 61H118V62H104zM69 64H90V65H69zM178 65H193V66H178zM118 67H148V68H118zM163 70H178V71H163z"/><path fill="#383838" d="M90 58H104V59H90z"/><path fill="#393939" d="M178 5H193V6H178zM178 6H193V7H178zM178 10H193V11H178zM163 69H178V70H163z"/><path fill="#3a3a3a" d="M178 19H193V20H178zM193 50H267V51H193zM69 60H90V61H69zM193 65H208V66H193zM118 66H148V67H118zM163 77H178V78H163z"/><path fill="#3b3b3b" d="M178 50H193V51H178zM104 58H118V59H104zM69 63H90V64H69zM208 65H267V66H208zM0 66H69V67H0zM148 67H163V68H148zM163 71H178V72H163z"/><path fill="#3c3c3c" d="M0 2H69V3H0zM0 36H69V37H0zM163 50H178V51H163zM90 57H104V58H90zM104 60H118V61H104zM118 61H163V62H118z"/><path fill="#3d3d3d" d="M0 17H69V18H0zM0 18H69V19H0zM0 24H69V25H0zM0 35H69V36H0zM0 41H69V42H0zM0 50H69V51H0zM148 50H163V51H148zM90 59H104V60H90zM163 61H193V62H163zM148 66H163V67H148zM163 75H178V76H163zM163 81H178V82H163z"/><path fill="#3e3e3e" d="M163 19H178V20H163zM0 25H69V26H0zM0 33H69V34H0zM0 48H69V49H0zM118 50H148V51H118zM0 55H69V56H0zM193 61H267V62H193zM0 77H69V78H0z"/><path fill="#3f3f3f" d="M0 1H69V2H0zM0 3H69V4H0zM163 10H178V11H163zM0 19H69V20H0zM0 22H69V23H0zM0 26H69V27H0zM0 49H69V50H0zM0 53H69V54H0zM104 57H118V58H104zM69 61H90V62H69z"/><path fill="#404040" d="M163 5H178V6H163zM0 6H69V7H0zM163 6H178V7H163zM0 12H69V13H0zM0 14H69V15H0zM0 28H69V29H0zM0 31H69V32H0zM0 38H69V39H0zM0 44H69V45H0zM0 47H69V48H0zM69 56H90V57H69zM118 63H148V64H118zM178 68H193V69H178zM0 74H69V75H0zM0 75H69V76H0zM0 81H69V82H0z"/><path fill="#414141" d="M0 10H69V11H0zM0 13H69V14H0zM0 15H69V16H0zM0 23H69V24H0zM0 29H69V30H0zM193 37H267V38H193zM0 42H69V43H0zM0 46H69V47H0zM193 49H267V50H193zM0 52H69V53H0zM69 54H90V55H69zM69 55H90V56H69zM104 59H118V60H104zM0 61H69V62H0zM148 63H163V64H148zM0 69H69V70H0zM0 76H69V77H0zM0 78H69V79H0zM0 80H69V81H0z"/><path fill="#424242" d="M0 5H69V6H0zM0 7H69V8H0zM0 8H69V9H0zM148 19H163V20H148zM0 21H69V22H0zM0 27H69V28H0zM0 37H69V38H0zM118 49H193V50H118zM90 56H104V57H90zM0 59H69V60H0zM0 64H69V65H0zM193 72H208V73H193z"/><path fill="#434343" d="M208 4H267V5H208zM148 10H163V11H148zM178 37H193V38H178zM0 39H69V40H0zM0 40H69V41H0zM193 42H267V43H193zM0 54H69V55H0zM0 56H69V57H0zM118 56H148V57H118zM0 57H90V58H0zM118 57H163V58H118zM69 58H90V59H69zM0 62H69V63H0zM163 63H178V64H163zM0 67H69V68H0zM0 68H69V69H0zM0 72H69V73H0zM0 79H69V80H0z"/><path fill="#444444" d="M0 9H69V10H0zM0 11H69V12H0zM118 19H148V20H118zM0 20H69V21H0zM208 28H267V29H208zM0 30H69V31H0zM163 37H178V38H163zM178 42H193V43H178zM104 56H118V57H104zM148 56H163V57H148zM0 58H69V59H0zM69 59H90V60H69zM0 65H69V66H0zM163 66H178V67H163zM163 67H178V68H163zM0 70H69V71H0zM0 73H69V74H0zM178 78H193V79H178z"/><path fill="#454545" d="M0 4H69V5H0zM193 4H208V5H193zM118 10H148V11H118zM193 28H208V29H193zM0 32H69V33H0zM163 42H178V43H163zM0 45H69V46H0zM0 51H69V52H0zM90 55H104V56H90zM163 56H178V57H163zM163 57H178V58H163zM0 60H69V61H0zM0 63H69V64H0zM178 63H193V64H178zM118 64H148V65H118z"/><path fill="#464646" d="M0 0H69V1H0zM148 5H163V6H148zM148 6H163V7H148zM0 16H69V17H0zM208 20H267V21H208zM178 28H193V29H178zM193 29H267V30H193zM193 31H267V32H193zM118 37H163V38H118zM118 42H163V43H118zM118 52H163V53H118zM178 56H193V57H178zM178 57H193V58H178zM178 70H193V71H178z"/><path fill="#474747" d="M193 20H208V21H193zM0 34H69V35H0zM90 51H104V52H90zM163 52H178V53H163zM90 53H104V54H90zM193 56H208V57H193zM193 57H208V58H193zM193 63H208V64H193zM148 64H163V65H148zM178 69H193V70H178zM0 71H69V72H0zM208 72H267V73H208z"/><path fill="#484848" d="M178 20H193V21H178zM163 28H178V29H163zM178 29H193V30H178zM178 31H193V32H178zM0 43H69V44H0zM193 43H267V44H193zM69 51H90V52H69zM178 52H193V53H178zM69 53H90V54H69zM104 55H118V56H104zM208 56H267V57H208zM208 57H267V58H208zM208 63H267V64H208zM178 79H193V80H178z"/><path fill="#494949" d="M178 4H193V5H178zM163 29H178V30H163zM163 31H178V32H163zM118 43H193V44H118zM118 51H148V52H118zM193 52H208V53H193zM118 55H148V56H118zM118 60H148V61H118zM178 80H193V81H178z"/><path fill="#4a4a4a" d="M148 28H163V29H148zM148 31H163V32H148zM118 44H163V45H118zM90 50H104V51H90zM104 51H118V52H104zM148 51H163V52H148zM208 52H267V53H208zM104 53H118V54H104zM148 55H163V56H148zM148 60H163V61H148zM193 68H208V69H193z"/><path fill="#4b4b4b" d="M208 1H267V2H208zM133 5H148V6H133zM133 6H148V7H133zM208 11H267V12H208zM163 20H178V21H163zM118 28H148V29H118zM118 29H163V30H118zM118 31H148V32H118zM163 44H267V45H163zM69 50H90V51H69zM163 51H178V52H163zM163 55H178V56H163zM163 64H178V65H163zM178 71H193V72H178z"/><path fill="#4c4c4c" d="M118 5H133V6H118zM118 6H133V7H118zM193 11H208V12H193zM90 54H104V55H90z"/><path fill="#4d4d4d" d="M148 20H163V21H148zM193 30H267V31H193zM69 46H90V47H69zM69 49H90V50H69zM178 51H193V52H178zM90 52H104V53H90zM118 58H148V59H118zM118 59H148V60H118zM163 60H178V61H163zM178 66H193V67H178z"/><path fill="#4e4e4e" d="M163 4H178V5H163zM208 7H267V8H208zM178 11H193V12H178zM118 20H148V21H118zM178 30H193V31H178zM178 34H267V35H178zM69 45H90V46H69zM104 50H118V51H104zM193 51H208V52H193zM118 53H148V54H118zM178 55H193V56H178zM148 58H163V59H148zM148 59H163V60H148zM118 62H148V63H118zM208 68H267V69H208zM178 77H193V78H178z"/><path fill="#4f4f4f" d="M193 7H208V8H193zM148 30H178V31H148zM118 34H178V35H118zM208 51H267V52H208zM148 53H163V54H148zM104 54H118V55H104zM178 67H193V68H178z"/><path fill="#505050" d="M193 1H208V2H193zM163 11H178V12H163zM118 30H148V31H118zM118 38H193V39H118zM90 47H104V48H90zM69 52H90V53H69zM104 52H118V53H104zM193 55H267V56H193zM148 62H163V63H148zM178 64H193V65H178z"/><path fill="#515151" d="M178 7H193V8H178zM193 9H267V10H193zM193 38H267V39H193zM118 39H163V40H118zM69 42H90V43H69zM118 54H148V55H118zM163 58H178V59H163zM178 60H193V61H178zM178 75H193V76H178z"/><path fill="#525252" d="M148 4H163V5H148zM148 11H163V12H148zM163 39H178V40H163zM118 40H148V41H118zM69 41H90V42H69zM118 41H148V42H118zM69 47H90V48H69zM163 53H178V54H163zM148 54H163V55H148zM163 59H178V60H163zM193 69H208V70H193zM193 70H208V71H193z"/><path fill="#535353" d="M178 9H193V10H178zM118 11H148V12H118zM193 13H267V14H193zM193 17H267V18H193zM193 26H267V27H193zM178 39H267V40H178zM148 40H163V41H148zM148 41H163V42H148zM104 47H148V48H104zM90 48H104V49H90zM90 49H104V50H90zM193 60H208V61H193z"/><path fill="#545454" d="M118 4H148V5H118zM163 7H178V8H163zM208 8H267V9H208zM178 13H193V14H178zM178 17H193V18H178zM118 26H193V27H118zM118 33H163V34H118zM163 40H178V41H163zM163 41H178V42H163zM90 44H104V45H90zM90 46H104V47H90zM118 46H148V47H118zM148 47H163V48H148zM208 60H267V61H208zM163 62H178V63H163zM193 64H208V65H193zM193 66H208V67H193zM193 78H208V79H193zM178 81H193V82H178z"/><path fill="#555555" d="M193 8H208V9H193zM163 9H178V10H163zM163 17H178V18H163zM208 18H267V19H208zM118 27H193V28H118zM163 33H193V34H163zM118 36H163V37H118zM69 38H79V39H69zM178 40H193V41H178zM178 41H193V42H178zM69 43H90V44H69zM104 44H118V45H104zM118 45H148V46H118zM148 46H163V47H148zM178 53H193V54H178zM163 54H178V55H163zM178 58H193V59H178zM178 59H193V60H178zM208 64H267V65H208z"/><path fill="#565656" d="M178 8H193V9H178zM148 9H163V10H148zM163 13H178V14H163zM118 17H163V18H118zM178 18H208V19H178zM193 27H267V28H193zM193 33H267V34H193zM163 36H178V37H163zM79 38H90V39H79zM90 40H104V41H90zM193 40H267V41H193zM148 45H163V46H148zM104 46H118V47H104zM104 48H148V49H104z"/><path fill="#575757" d="M148 7H163V8H148zM118 9H148V10H118zM118 13H163V14H118zM118 18H178V19H118zM69 34H79V35H69zM178 36H193V37H178zM193 41H267V42H193zM69 44H90V45H69zM90 45H104V46H90zM163 46H178V47H163zM163 47H178V48H163zM104 49H118V50H104zM193 53H208V54H193zM208 66H267V67H208zM208 69H267V70H208zM208 70H267V71H208z"/><path fill="#585858" d="M118 7H148V8H118zM163 8H178V9H163zM118 22H267V23H118zM118 35H163V36H118zM193 36H208V37H193zM69 37H90V38H69zM104 40H118V41H104zM90 43H104V44H90zM163 45H178V46H163zM148 48H163V49H148zM208 53H267V54H208zM193 58H208V59H193zM193 67H208V68H193zM193 71H208V72H193z"/><path fill="#595959" d="M118 21H148V22H118zM69 27H79V28H69zM79 34H90V35H79zM208 36H267V37H208zM104 45H118V46H104zM178 46H193V47H178zM178 47H193V48H178zM178 54H193V55H178zM208 58H267V59H208zM193 59H208V60H193zM178 62H193V63H178zM193 79H208V80H193z"/><path fill="#5a5a5a" d="M118 8H163V9H118zM148 21H267V22H148zM118 25H178V26H118zM163 35H178V36H163zM90 39H104V40H90zM69 40H90V41H69zM104 43H118V44H104zM208 59H267V60H208zM193 80H208V81H193z"/><path fill="#5b5b5b" d="M178 25H193V26H178zM69 35H79V36H69zM178 35H193V36H178zM69 39H90V40H69zM90 41H104V42H90zM178 45H193V46H178zM69 48H90V49H69zM163 48H178V49H163zM208 78H267V79H208z"/><path fill="#5c5c5c" d="M193 25H267V26H193zM79 27H90V28H79zM118 32H148V33H118zM79 35H90V36H79zM90 38H104V39H90zM104 39H118V40H104zM90 42H104V43H90zM193 46H208V47H193zM193 47H208V48H193zM193 54H208V55H193zM208 67H267V68H208z"/><path fill="#5d5d5d" d="M178 1H193V2H178zM118 15H267V16H118zM148 32H163V33H148zM193 35H267V36H193zM90 37H104V38H90zM104 41H118V42H104zM193 45H208V46H193zM208 46H267V47H208zM208 47H267V48H208zM208 54H267V55H208zM193 62H208V63H193z"/><path fill="#5e5e5e" d="M69 28H79V29H69zM69 30H79V31H69zM69 32H79V33H69zM69 36H79V37H69zM90 36H104V37H90zM104 38H118V39H104zM104 42H118V43H104zM208 45H267V46H208zM178 48H193V49H178zM208 62H267V63H208zM208 71H267V72H208z"/><path fill="#5f5f5f" d="M118 14H163V15H118zM69 31H79V32H69zM79 32H90V33H79zM163 32H178V33H163zM79 36H90V37H79z"/><path fill="#606060" d="M163 14H208V15H163zM79 28H90V29H79zM79 30H90V31H79zM104 36H118V37H104zM104 37H118V38H104zM193 77H208V78H193zM208 79H267V80H208z"/><path fill="#616161" d="M208 14H267V15H208zM69 22H79V23H69zM69 29H79V30H69zM79 31H90V32H79zM178 32H193V33H178zM69 33H79V34H69zM90 35H104V36H90zM193 48H208V49H193zM208 80H267V81H208z"/><path fill="#626262" d="M208 0H267V1H208zM69 20H79V21H69zM69 25H79V26H69zM208 48H267V49H208zM193 75H208V76H193z"/><path fill="#636363" d="M208 3H267V4H208zM69 26H79V27H69zM79 29H90V30H79zM193 32H208V33H193zM79 33H104V34H79z"/><path fill="#646464" d="M193 2H267V3H193zM193 3H208V4H193zM90 30H104V31H90zM208 32H267V33H208zM104 35H118V36H104z"/><path fill="#656565" d="M178 2H193V3H178zM178 3H193V4H178zM79 20H90V21H79zM79 22H90V23H79zM69 24H79V25H69zM79 25H90V26H79zM79 26H90V27H79zM90 31H104V32H90z"/><path fill="#666666" d="M163 3H178V4H163zM104 33H118V34H104z"/><path fill="#676767" d="M163 2H178V3H163zM118 3H163V4H118zM69 18H79V19H69zM90 29H104V30H90zM104 30H118V31H104zM208 77H267V78H208z"/><path fill="#686868" d="M193 0H208V1H193zM118 2H163V3H118zM69 17H79V18H69zM90 26H104V27H90zM90 27H104V28H90zM104 31H118V32H104zM208 75H267V76H208zM193 81H208V82H193z"/><path fill="#696969" d="M79 24H90V25H79zM104 29H118V30H104zM90 34H104V35H90z"/><path fill="#6a6a6a" d="M69 19H79V20H69zM69 23H79V24H69zM104 26H118V27H104zM90 32H104V33H90z"/><path fill="#6b6b6b" d="M79 17H90V18H79zM79 18H90V19H79zM104 27H118V28H104z"/><path fill="#6c6c6c" d="M104 34H118V35H104z"/><path fill="#6d6d6d" d="M163 1H178V2H163zM79 19H90V20H79zM79 23H90V24H79zM90 25H104V26H90zM104 32H118V33H104z"/><path fill="#6e6e6e" d="M104 25H118V26H104z"/><path fill="#6f6f6f" d="M208 81H267V82H208z"/><path fill="#707070" d="M69 12H79V13H69zM69 16H79V17H69z"/><path fill="#717171" d="M69 21H79V22H69z"/><path fill="#727272" d="M90 24H104V25H90zM90 28H104V29H90z"/><path fill="#737373" d="M79 12H90V13H79zM79 16H90V17H79zM104 24H118V25H104zM208 24H267V25H208z"/><path fill="#747474" d="M104 17H118V18H104zM79 21H118V22H79zM193 24H208V25H193z"/><path fill="#757575" d="M69 13H79V14H69zM90 17H104V18H90zM90 20H118V21H90zM178 24H193V25H178zM104 28H118V29H104z"/><path fill="#767676" d="M69 14H79V15H69z"/><path fill="#777777" d="M69 9H79V10H69zM90 18H118V19H90zM163 24H178V25H163z"/><path fill="#787878" d="M69 15H79V16H69zM90 19H118V20H90zM90 22H118V23H90zM148 24H163V25H148z"/><path fill="#797979" d="M178 0H193V1H178zM69 6H79V7H69zM79 13H90V14H79zM79 14H90V15H79zM90 23H104V24H90zM118 24H148V25H118z"/><path fill="#7a7a7a" d="M69 7H79V8H69zM69 10H79V11H69zM104 23H118V24H104z"/><path fill="#7b7b7b" d="M148 1H163V2H148z"/><path fill="#7c7c7c" d="M79 9H90V10H79zM79 15H90V16H79zM223 16H267V17H223z"/><path fill="#7d7d7d" d="M208 16H223V17H208z"/><path fill="#7e7e7e" d="M79 6H90V7H79zM79 10H90V11H79z"/><path fill="#7f7f7f" d="M79 7H90V8H79zM193 16H208V17H193z"/><path fill="#808080" d="M118 1H148V2H118zM69 8H79V9H69zM104 15H118V16H104z"/><path fill="#818181" d="M69 4H79V5H69z"/><path fill="#828282" d="M104 13H118V14H104zM90 15H104V16H90zM104 16H118V17H104zM178 16H193V17H178z"/><path fill="#838383" d="M69 5H79V6H69zM69 11H79V12H69zM90 16H104V17H90z"/><path fill="#848484" d="M90 13H104V14H90z"/><path fill="#858585" d="M79 8H90V9H79zM104 12H118V13H104z"/><path fill="#868686" d="M79 11H90V12H79zM163 16H178V17H163z"/><path fill="#878787" d="M104 8H118V9H104zM90 12H104V13H90zM104 14H118V15H104z"/><path fill="#888888" d="M79 4H90V5H79z"/><path fill="#898989" d="M79 5H90V6H79zM104 9H118V10H104zM104 10H118V11H104zM104 11H118V12H104zM90 14H104V15H90zM148 16H163V17H148zM223 23H267V24H223z"/><path fill="#8a8a8a" d="M69 3H79V4H69zM208 23H223V24H208z"/><path fill="#8b8b8b" d="M133 16H148V17H133z"/><path fill="#8c8c8c" d="M163 0H178V1H163zM118 16H133V17H118zM193 23H208V24H193z"/><path fill="#8d8d8d" d="M90 11H104V12H90z"/><path fill="#8e8e8e" d="M104 7H118V8H104z"/><path fill="#8f8f8f" d="M90 10H104V11H90zM178 23H193V24H178z"/><path fill="#929292" d="M104 6H118V7H104zM90 8H104V9H90zM90 9H104V10H90z"/><path fill="#939393" d="M104 4H118V5H104zM104 5H118V6H104zM163 23H178V24H163z"/><path fill="#969696" d="M148 23H163V24H148z"/><path fill="#989898" d="M133 23H148V24H133z"/><path fill="#999999" d="M69 2H79V3H69zM79 3H90V4H79zM118 23H133V24H118z"/><path fill="#9b9b9b" d="M69 0H79V1H69z"/><path fill="#9c9c9c" d="M90 7H104V8H90z"/><path fill="#9d9d9d" d="M148 0H163V1H148z"/><path fill="#a1a1a1" d="M69 1H79V2H69z"/><path fill="#a2a2a2" d="M90 6H104V7H90z"/><path fill="#a4a4a4" d="M118 0H148V1H118z"/><path fill="#a5a5a5" d="M104 3H118V4H104z"/><path fill="#a6a6a6" d="M104 2H118V3H104z"/><path fill="#a9a9a9" d="M90 5H104V6H90z"/><path fill="#acacac" d="M90 4H104V5H90z"/><path fill="#b8b8b8" d="M79 2H90V3H79z"/><path fill="#b9b9b9" d="M223 12H267V13H223z"/><path fill="#bababa" d="M90 3H104V4H90z"/><path fill="#bbbbbb" d="M208 12H223V13H208z"/><path fill="#bcbcbc" d="M104 1H118V2H104z"/><path fill="#c0c0c0" d="M79 0H90V1H79z"/><path fill="#c1c1c1" d="M193 12H208V13H193z"/><path fill="#c2c2c2" d="M104 0H118V1H104z"/><path fill="#c3c3c3" d="M79 1H90V2H79z"/><path fill="#cacaca" d="M178 12H193V13H178z"/><path fill="#d4d4d4" d="M163 12H178V13H163z"/><path fill="#dadada" d="M90 2H104V3H90z"/><path fill="#dcdcdc" d="M148 12H163V13H148z"/><path fill="#e3e3e3" d="M133 12H148V13H133z"/><path fill="#e5e5e5" d="M118 12H133V13H118z"/><path fill="#f7f7f7" d="M90 0H104V1H90z"/><path fill="#fafafa" d="M90 1H104V2H90z"/></g></g>
<line x1="69.4" y1="0" x2="69.4" y2="253" stroke="#fff" stroke-width="2.4" stroke-dasharray="3.6 2"/>
<line x1="89.8" y1="0" x2="89.8" y2="253" stroke="#fff" stroke-width="2.4" stroke-dasharray="3.6 2"/>
<line x1="118.4" y1="0" x2="118.4" y2="253" stroke="#fff" stroke-width="2.4" stroke-dasharray="3.6 2"/>
<rect x="69.4" y="-23.4" width="20.4" height="23.4" fill="#e3e3e3"/>
<rect x="89.8" y="-23.4" width="28.6" height="23.4" fill="#dcebc4"/>
<rect x="118.4" y="-23.4" width="72.6" height="23.4" fill="#f3e8f5"/>
<line x1="89.8" y1="-23.4" x2="89.8" y2="0" stroke="#000" stroke-width="2" stroke-dasharray="3 2"/>
<line x1="118.4" y1="-23.4" x2="118.4" y2="0" stroke="#000" stroke-width="2" stroke-dasharray="3 2"/>
<line x1="12.6" y1="253" x2="12.6" y2="259" stroke="#333" stroke-width="1.3"/>
<line x1="69.4" y1="253" x2="69.4" y2="259" stroke="#333" stroke-width="1.3"/>
<line x1="128.2" y1="253" x2="128.2" y2="259" stroke="#333" stroke-width="1.3"/>
<line x1="187.1" y1="253" x2="187.1" y2="259" stroke="#333" stroke-width="1.3"/>
<line x1="238.1" y1="253" x2="238.1" y2="259" stroke="#333" stroke-width="1.3"/>
<line x1="-6" y1="1.5" x2="0" y2="1.5" stroke="#333" stroke-width="1.3"/>
<line x1="-6" y1="251.5" x2="0" y2="251.5" stroke="#333" stroke-width="1.3"/>
</g>
<g transform="translate(945,559)"><g filter="url(#hf2)"><rect width="267" height="253" fill="#444"/><g transform="scale(1,3.61429)" shape-rendering="crispEdges"><path fill="#020202" d="M90 67H118V68H90z"/><path fill="#030303" d="M69 69H90V70H69z"/><path fill="#040404" d="M90 69H118V70H90z"/><path fill="#050505" d="M90 68H118V69H90z"/><path fill="#060606" d="M69 67H90V68H69zM69 68H90V69H69z"/><path fill="#080808" d="M90 63H118V64H90z"/><path fill="#090909" d="M90 65H118V66H90zM69 66H118V67H69z"/><path fill="#0b0b0b" d="M69 59H90V60H69zM90 60H118V61H90zM69 62H90V63H69z"/><path fill="#0c0c0c" d="M90 61H118V62H90zM90 64H118V65H90z"/><path fill="#0d0d0d" d="M90 58H118V59H90zM69 63H90V64H69z"/><path fill="#0e0e0e" d="M90 56H118V57H90zM90 62H118V63H90zM69 64H90V65H69z"/><path fill="#0f0f0f" d="M69 65H90V66H69z"/><path fill="#101010" d="M90 54H118V55H90z"/><path fill="#111111" d="M90 57H118V58H90zM90 59H118V60H90z"/><path fill="#141414" d="M90 55H118V56H90zM69 61H90V62H69z"/><path fill="#151515" d="M69 58H90V59H69zM69 60H90V61H69z"/><path fill="#161616" d="M69 55H90V56H69z"/><path fill="#171717" d="M90 51H118V52H90zM90 52H118V53H90zM118 68H148V69H118z"/><path fill="#191919" d="M118 64H148V65H118z"/><path fill="#1a1a1a" d="M223 4H267V5H223zM90 48H118V49H90zM90 49H118V50H90z"/><path fill="#1b1b1b" d="M69 53H118V54H69zM69 57H90V58H69z"/><path fill="#1c1c1c" d="M208 4H223V5H208zM90 46H118V47H90zM148 68H163V69H148z"/><path fill="#1d1d1d" d="M118 69H148V70H118z"/><path fill="#1e1e1e" d="M69 56H90V57H69zM148 64H163V65H148zM118 67H148V68H118z"/><path fill="#1f1f1f" d="M90 47H118V48H90zM69 54H90V55H69z"/><path fill="#212121" d="M90 50H118V51H90z"/><path fill="#222222" d="M69 52H90V53H69z"/><path fill="#232323" d="M193 4H208V5H193zM148 69H163V70H148z"/><path fill="#242424" d="M118 65H148V66H118zM148 67H163V68H148z"/><path fill="#252525" d="M90 44H118V45H90zM69 51H90V52H69z"/><path fill="#262626" d="M90 43H118V44H90zM118 60H148V61H118zM118 62H148V63H118z"/><path fill="#272727" d="M118 66H148V67H118z"/><path fill="#282828" d="M90 45H118V46H90zM69 47H90V48H69zM163 64H178V65H163z"/><path fill="#292929" d="M118 56H148V57H118zM163 68H178V69H163z"/><path fill="#2a2a2a" d="M69 50H90V51H69zM148 60H163V61H148zM148 65H163V66H148z"/><path fill="#2b2b2b" d="M118 57H148V58H118zM148 62H163V63H148z"/><path fill="#2c2c2c" d="M90 36H118V37H90zM90 42H118V43H90zM69 48H90V49H69zM118 63H148V64H118z"/><path fill="#2d2d2d" d="M178 4H193V5H178zM69 42H90V43H69zM69 49H90V50H69zM118 53H148V54H118zM148 56H163V57H148zM118 61H148V62H118zM148 66H163V67H148z"/><path fill="#2e2e2e" d="M69 45H90V46H69zM118 58H148V59H118z"/><path fill="#2f2f2f" d="M90 38H118V39H90zM90 40H118V41H90zM118 51H148V52H118zM148 53H163V54H148zM148 57H163V58H148z"/><path fill="#303030" d="M148 51H163V52H148zM118 59H148V60H118z"/><path fill="#313131" d="M90 39H118V40H90zM118 55H148V56H118zM163 67H178V68H163zM163 69H178V70H163z"/><path fill="#323232" d="M163 51H178V52H163zM148 63H163V64H148z"/><path fill="#333333" d="M90 35H118V36H90zM118 54H148V55H118zM148 58H163V59H148zM148 61H163V62H148z"/><path fill="#343434" d="M90 34H118V35H90zM90 41H118V42H90zM69 44H90V45H69zM163 53H178V54H163zM178 64H193V65H178z"/><path fill="#353535" d="M90 37H118V38H90zM69 46H90V47H69zM178 51H193V52H178zM118 52H148V53H118zM148 55H163V56H148zM148 59H163V60H148zM163 60H178V61H163z"/><path fill="#363636" d="M163 56H178V57H163zM163 62H178V63H163z"/><path fill="#373737" d="M193 51H208V52H193zM148 52H163V53H148zM148 54H163V55H148zM163 65H178V66H163zM178 68H193V69H178z"/><path fill="#383838" d="M163 4H178V5H163zM208 51H267V52H208z"/><path fill="#393939" d="M90 32H118V33H90zM163 57H178V58H163z"/><path fill="#3a3a3a" d="M69 41H90V42H69zM178 53H193V54H178z"/><path fill="#3b3b3b" d="M0 34H69V35H0zM0 60H69V61H0z"/><path fill="#3c3c3c" d="M90 29H118V30H90zM0 33H69V34H0zM69 36H90V37H69zM69 40H90V41H69zM0 46H69V47H0zM163 52H178V53H163zM163 66H178V67H163zM0 68H69V69H0z"/><path fill="#3d3d3d" d="M90 27H118V28H90zM90 30H118V31H90z"/><path fill="#3e3e3e" d="M0 2H69V3H0zM0 4H69V5H0zM0 10H69V11H0zM90 26H118V27H90zM69 38H90V39H69zM69 43H90V44H69zM163 58H178V59H163zM0 61H69V62H0z"/><path fill="#3f3f3f" d="M0 1H69V2H0zM0 9H69V10H0zM0 13H69V14H0zM208 22H267V23H208zM0 23H69V24H0zM90 31H118V32H90zM0 36H69V37H0zM0 44H69V45H0zM118 50H148V51H118zM0 52H69V53H0zM193 53H208V54H193zM163 54H178V55H163zM163 55H178V56H163zM0 59H69V60H0zM163 63H178V64H163zM193 64H208V65H193z"/><path fill="#404040" d="M0 3H69V4H0zM0 16H69V17H0zM193 22H208V23H193zM0 24H69V25H0zM0 26H69V27H0zM0 27H69V28H0zM0 30H69V31H0zM69 37H90V38H69zM69 39H90V40H69zM0 40H69V41H0zM148 50H163V51H148zM163 61H178V62H163zM0 64H69V65H0zM0 65H69V66H0zM0 67H69V68H0zM178 67H193V68H178zM0 69H69V70H0z"/><path fill="#414141" d="M0 28H69V29H0zM90 33H118V34H90zM0 39H69V40H0zM0 41H69V42H0zM118 42H148V43H118zM0 43H69V44H0zM118 44H178V45H118zM0 48H69V49H0zM0 50H69V51H0zM0 53H69V54H0zM208 53H267V54H208zM0 56H69V57H0zM178 56H193V57H178zM0 62H69V63H0zM0 63H69V64H0zM178 69H193V70H178z"/><path fill="#424242" d="M148 4H163V5H148zM0 11H69V12H0zM0 12H69V13H0zM0 14H69V15H0zM208 14H267V15H208zM0 17H69V18H0zM0 18H69V19H0zM0 19H69V20H0zM178 22H193V23H178zM0 29H69V30H0zM0 42H69V43H0zM148 42H267V43H148zM118 43H148V44H118zM178 44H208V45H178zM0 45H69V46H0zM118 45H163V46H118zM0 47H69V48H0zM0 51H69V52H0zM178 52H193V53H178zM163 59H178V60H163zM178 60H193V61H178z"/><path fill="#434343" d="M0 6H69V7H0zM0 7H69V8H0zM0 21H69V22H0zM0 25H69V26H0zM0 31H69V32H0zM0 35H69V36H0zM118 40H267V41H118zM148 43H178V44H148zM208 44H267V45H208zM163 45H178V46H163zM163 50H178V51H163zM0 54H69V55H0zM208 64H267V65H208zM0 66H69V67H0zM193 68H208V69H193z"/><path fill="#444444" d="M193 14H208V15H193zM0 20H69V21H0zM118 39H178V40H118zM178 43H193V44H178zM178 45H193V46H178zM0 49H69V50H0zM0 55H69V56H0zM0 58H69V59H0zM178 62H193V63H178z"/><path fill="#454545" d="M0 5H69V6H0zM0 8H69V9H0zM0 15H69V16H0zM0 22H69V23H0zM163 22H178V23H163zM90 25H118V26H90zM90 28H118V29H90zM0 32H69V33H0zM0 37H69V38H0zM178 39H267V40H178zM193 43H267V44H193zM193 45H267V46H193zM0 57H69V58H0zM178 57H193V58H178z"/><path fill="#464646" d="M0 0H69V1H0zM90 19H118V20H90zM90 23H118V24H90zM118 46H148V47H118zM178 65H193V66H178z"/><path fill="#474747" d="M178 14H193V15H178zM90 21H118V22H90zM90 24H118V25H90zM193 31H267V32H193zM148 46H163V47H148zM118 48H148V49H118zM178 50H193V51H178zM193 52H208V53H193zM208 68H267V69H208z"/><path fill="#484848" d="M148 22H163V23H148zM69 29H90V30H69zM163 31H193V32H163zM69 34H90V35H69zM118 36H163V37H118zM0 38H69V39H0zM148 48H163V49H148zM118 49H148V50H118zM178 54H193V55H178z"/><path fill="#494949" d="M133 4H148V5H133zM90 20H118V21H90zM90 22H148V23H90zM118 31H163V32H118zM163 36H267V37H163zM118 37H163V38H118zM118 41H148V42H118zM163 46H178V47H163zM208 52H267V53H208z"/><path fill="#4a4a4a" d="M208 12H267V13H208zM163 37H178V38H163zM148 41H163V42H148zM148 49H163V50H148zM178 55H193V56H178zM193 56H208V57H193z"/><path fill="#4b4b4b" d="M208 7H267V8H208zM193 12H208V13H193zM163 14H178V15H163zM178 37H208V38H178zM178 46H193V47H178zM118 47H148V48H118zM163 48H178V49H163zM193 50H208V51H193zM178 58H193V59H178z"/><path fill="#4c4c4c" d="M118 4H133V5H118zM90 14H118V15H90zM223 25H267V26H223zM208 37H267V38H208zM163 41H178V42H163zM148 47H163V48H148zM208 50H267V51H208zM193 60H208V61H193zM178 66H193V67H178z"/><path fill="#4d4d4d" d="M193 7H208V8H193zM69 32H90V33H69zM178 41H193V42H178zM193 46H208V47H193zM163 49H178V50H163zM193 67H208V68H193z"/><path fill="#4e4e4e" d="M90 12H118V13H90zM178 12H193V13H178zM148 14H163V15H148zM90 17H118V18H90zM90 18H118V19H90zM69 24H90V25H69zM208 25H223V26H208zM208 46H267V47H208zM178 48H193V49H178zM208 56H267V57H208z"/><path fill="#4f4f4f" d="M69 22H90V23H69zM118 30H163V31H118zM69 35H90V36H69zM193 41H267V42H193zM163 47H178V48H163zM193 57H208V58H193zM178 61H193V62H178zM178 63H193V64H178zM193 69H208V70H193z"/><path fill="#505050" d="M178 7H193V8H178zM118 14H148V15H118zM193 17H267V18H193zM193 20H267V21H193zM193 21H267V22H193zM223 24H267V25H223zM118 28H163V29H118zM118 29H178V30H118zM163 30H193V31H163zM69 33H90V34H69zM193 48H208V49H193zM193 54H208V55H193zM178 59H193V60H178zM208 60H267V61H208zM193 62H208V63H193z"/><path fill="#515151" d="M163 12H178V13H163zM90 16H118V17H90zM178 20H193V21H178zM178 21H193V22H178zM208 24H223V25H208zM118 26H267V27H118zM163 28H267V29H163zM178 29H267V30H178zM69 30H90V31H69zM193 30H267V31H193zM118 35H163V36H118zM208 48H267V49H208z"/><path fill="#525252" d="M208 5H267V6H208zM208 8H267V9H208zM178 17H193V18H178zM163 21H178V22H163zM193 25H208V26H193zM118 32H163V33H118zM118 34H148V35H118zM178 47H193V48H178zM178 49H193V50H178zM193 65H208V66H193zM208 67H267V68H208z"/><path fill="#535353" d="M193 5H208V6H193zM193 8H208V9H193zM163 20H178V21H163zM148 21H163V22H148zM69 28H90V29H69zM163 32H178V33H163zM148 34H163V35H148zM163 35H178V36H163zM208 54H267V55H208zM193 55H208V56H193zM208 57H267V58H208z"/><path fill="#545454" d="M208 9H267V10H208zM69 12H90V13H69zM148 12H163V13H148zM90 13H118V14H90zM90 15H118V16H90zM163 17H178V18H163zM69 20H90V21H69zM118 20H163V21H118zM118 21H148V22H118zM163 23H267V24H163zM118 33H148V34H118zM208 62H267V63H208zM208 69H267V70H208z"/><path fill="#555555" d="M163 7H178V8H163zM193 9H208V10H193zM118 12H148V13H118zM148 17H163V18H148zM69 23H90V24H69zM118 23H163V24H118zM193 24H208V25H193zM178 32H193V33H178zM148 33H163V34H148zM163 34H178V35H163zM178 35H193V36H178zM193 47H208V48H193zM193 49H208V50H193z"/><path fill="#565656" d="M178 8H193V9H178zM90 11H118V12H90zM118 17H148V18H118zM193 18H267V19H193zM193 32H208V33H193zM208 47H267V48H208zM193 58H208V59H193z"/><path fill="#575757" d="M178 5H193V6H178zM90 9H118V10H90zM178 9H193V10H178zM178 18H193V19H178zM69 19H90V20H69zM69 21H90V22H69zM69 27H90V28H69zM208 32H267V33H208zM163 33H178V34H163zM178 34H193V35H178zM193 35H267V36H193zM208 49H267V50H208zM208 55H267V56H208z"/><path fill="#585858" d="M90 3H118V4H90zM90 8H118V9H90zM69 17H90V18H69zM163 18H178V19H163zM178 25H193V26H178zM69 26H90V27H69zM208 65H267V66H208z"/><path fill="#595959" d="M148 7H163V8H148zM163 8H178V9H163zM193 10H267V11H193zM208 11H267V12H208zM118 18H163V19H118zM69 31H90V32H69zM178 33H193V34H178zM193 34H208V35H193zM118 38H148V39H118z"/><path fill="#5a5a5a" d="M208 6H267V7H208zM163 9H178V10H163zM90 10H118V11H90zM193 11H208V12H193zM193 13H267V14H193zM178 24H193V25H178zM208 34H267V35H208zM208 58H267V59H208zM193 66H208V67H193z"/><path fill="#5b5b5b" d="M163 5H178V6H163zM193 6H208V7H193zM118 7H148V8H118zM69 9H90V10H69zM178 10H193V11H178zM178 11H193V12H178zM178 13H193V14H178zM193 33H267V34H193zM148 38H163V39H148zM193 61H208V62H193z"/><path fill="#5c5c5c" d="M208 3H267V4H208zM90 7H118V8H90zM148 8H163V9H148zM148 9H163V10H148zM163 13H178V14H163zM69 15H90V16H69zM193 59H208V60H193zM193 63H208V64H193z"/><path fill="#5d5d5d" d="M193 3H208V4H193zM90 5H118V6H90zM69 6H90V7H69zM69 7H90V8H69zM118 9H148V10H118zM163 10H178V11H163zM163 11H178V12H163zM148 13H163V14H148zM69 18H90V19H69z"/><path fill="#5e5e5e" d="M178 6H193V7H178zM118 8H148V9H118zM148 10H163V11H148zM148 11H163V12H148zM118 13H148V14H118zM163 25H178V26H163z"/><path fill="#5f5f5f" d="M90 4H118V5H90zM148 5H163V6H148zM90 6H118V7H90zM118 10H148V11H118zM118 11H148V12H118zM163 24H178V25H163zM118 27H148V28H118zM163 38H178V39H163zM208 66H267V67H208z"/><path fill="#606060" d="M178 3H193V4H178zM118 16H148V17H118zM148 27H163V28H148zM208 59H267V60H208zM208 61H267V62H208z"/><path fill="#616161" d="M208 2H267V3H208zM118 5H148V6H118zM163 6H178V7H163zM69 11H90V12H69zM69 13H90V14H69zM148 16H163V17H148zM208 63H267V64H208z"/><path fill="#626262" d="M208 0H267V1H208zM163 16H178V17H163z"/><path fill="#636363" d="M148 6H163V7H148zM69 8H90V9H69zM118 19H163V20H118zM148 25H163V26H148zM163 27H178V28H163z"/><path fill="#646464" d="M208 1H267V2H208zM163 3H178V4H163zM178 16H193V17H178zM148 24H163V25H148zM178 38H193V39H178z"/><path fill="#656565" d="M193 2H208V3H193zM118 6H148V7H118zM193 16H208V17H193zM163 19H178V20H163z"/><path fill="#666666" d="M208 16H267V17H208zM178 19H193V20H178z"/><path fill="#676767" d="M133 25H148V26H133zM178 27H193V28H178zM193 38H208V39H193z"/><path fill="#686868" d="M148 3H163V4H148zM193 19H267V20H193zM133 24H148V25H133z"/><path fill="#696969" d="M118 3H148V4H118zM118 24H133V25H118zM118 25H133V26H118zM193 27H208V28H193zM208 38H267V39H208z"/><path fill="#6a6a6a" d="M193 0H208V1H193zM193 1H208V2H193zM208 27H267V28H208z"/><path fill="#6e6e6e" d="M178 2H193V3H178zM69 5H90V6H69z"/><path fill="#737373" d="M69 25H90V26H69z"/><path fill="#747474" d="M69 10H90V11H69zM69 16H90V17H69z"/><path fill="#767676" d="M69 4H90V5H69z"/><path fill="#797979" d="M178 1H193V2H178zM163 2H178V3H163zM118 15H148V16H118z"/><path fill="#7a7a7a" d="M69 14H90V15H69zM148 15H178V16H148z"/><path fill="#7b7b7b" d="M178 15H193V16H178z"/><path fill="#7c7c7c" d="M193 15H267V16H193z"/><path fill="#7d7d7d" d="M178 0H193V1H178z"/><path fill="#7e7e7e" d="M69 3H90V4H69z"/><path fill="#818181" d="M69 2H90V3H69z"/><path fill="#828282" d="M148 2H163V3H148z"/><path fill="#848484" d="M90 2H118V3H90z"/><path fill="#878787" d="M118 2H148V3H118z"/><path fill="#8b8b8b" d="M163 1H178V2H163z"/><path fill="#8e8e8e" d="M69 1H90V2H69z"/><path fill="#949494" d="M163 0H178V1H163z"/><path fill="#9a9a9a" d="M148 1H163V2H148z"/><path fill="#a1a1a1" d="M118 1H148V2H118z"/><path fill="#a7a7a7" d="M69 0H90V1H69z"/><path fill="#a8a8a8" d="M148 0H163V1H148z"/><path fill="#b0b0b0" d="M118 0H148V1H118z"/><path fill="#c0c0c0" d="M90 1H118V2H90z"/><path fill="#dadada" d="M90 0H118V1H90z"/></g></g>
<line x1="69.4" y1="0" x2="69.4" y2="253" stroke="#fff" stroke-width="2.4" stroke-dasharray="3.6 2"/>
<line x1="89.8" y1="0" x2="89.8" y2="253" stroke="#fff" stroke-width="2.4" stroke-dasharray="3.6 2"/>
<line x1="118.4" y1="0" x2="118.4" y2="253" stroke="#fff" stroke-width="2.4" stroke-dasharray="3.6 2"/>
<rect x="69.4" y="-23.4" width="20.4" height="23.4" fill="#e3e3e3"/>
<rect x="89.8" y="-23.4" width="28.6" height="23.4" fill="#dcebc4"/>
<rect x="118.4" y="-23.4" width="72.6" height="23.4" fill="#f3e8f5"/>
<line x1="89.8" y1="-23.4" x2="89.8" y2="0" stroke="#000" stroke-width="2" stroke-dasharray="3 2"/>
<line x1="118.4" y1="-23.4" x2="118.4" y2="0" stroke="#000" stroke-width="2" stroke-dasharray="3 2"/>
<line x1="12.6" y1="253" x2="12.6" y2="259" stroke="#333" stroke-width="1.3"/>
<line x1="69.4" y1="253" x2="69.4" y2="259" stroke="#333" stroke-width="1.3"/>
<line x1="128.2" y1="253" x2="128.2" y2="259" stroke="#333" stroke-width="1.3"/>
<line x1="187.1" y1="253" x2="187.1" y2="259" stroke="#333" stroke-width="1.3"/>
<line x1="238.1" y1="253" x2="238.1" y2="259" stroke="#333" stroke-width="1.3"/>
<line x1="-6" y1="1.8" x2="0" y2="1.8" stroke="#333" stroke-width="1.3"/>
<line x1="-6" y1="251.2" x2="0" y2="251.2" stroke="#333" stroke-width="1.3"/>
</g>
<g transform="translate(303,929)"><g filter="url(#hf3)"><rect width="267" height="253" fill="#444"/><g transform="scale(1,2.69149)" shape-rendering="crispEdges"><path fill="#1a1a1a" d="M90 92H118V93H90z"/><path fill="#1c1c1c" d="M90 93H118V94H90z"/><path fill="#232323" d="M223 8H267V9H223z"/><path fill="#242424" d="M90 90H118V91H90z"/><path fill="#252525" d="M208 8H223V9H208z"/><path fill="#262626" d="M223 33H267V34H223z"/><path fill="#282828" d="M208 33H223V34H208z"/><path fill="#292929" d="M223 14H267V15H223zM223 27H267V28H223zM90 91H118V92H90z"/><path fill="#2a2a2a" d="M193 8H208V9H193zM118 92H148V93H118z"/><path fill="#2b2b2b" d="M208 14H223V15H208zM208 27H223V28H208zM193 33H208V34H193zM90 87H118V88H90zM118 89H148V90H118z"/><path fill="#2d2d2d" d="M223 34H267V35H223z"/><path fill="#2e2e2e" d="M193 27H208V28H193zM208 34H223V35H208zM118 93H148V94H118z"/><path fill="#2f2f2f" d="M193 14H208V15H193zM148 89H163V90H148z"/><path fill="#303030" d="M178 33H193V34H178zM193 34H208V35H193zM90 89H118V90H90zM148 92H163V93H148z"/><path fill="#313131" d="M178 8H193V9H178zM90 88H118V89H90z"/><path fill="#323232" d="M178 27H193V28H178zM118 84H148V85H118z"/><path fill="#333333" d="M118 87H148V88H118zM118 88H148V89H118zM69 92H90V93H69z"/><path fill="#343434" d="M178 34H193V35H178zM118 90H148V91H118zM148 93H163V94H148z"/><path fill="#353535" d="M178 14H193V15H178zM118 83H148V84H118zM148 84H163V85H148zM118 91H148V92H118zM69 93H90V94H69z"/><path fill="#363636" d="M163 33H178V34H163zM118 82H163V83H118zM148 83H163V84H148z"/><path fill="#373737" d="M163 27H178V28H163zM69 87H90V88H69z"/><path fill="#383838" d="M163 8H178V9H163zM163 34H178V35H163zM208 70H267V71H208zM163 82H178V83H163zM148 87H163V88H148zM148 88H163V89H148z"/><path fill="#393939" d="M193 70H208V71H193z"/><path fill="#3a3a3a" d="M178 70H193V71H178zM118 85H148V86H118zM90 86H118V87H90zM69 88H90V89H69zM163 89H178V90H163zM148 90H163V91H148z"/><path fill="#3b3b3b" d="M163 14H178V15H163zM208 15H267V16H208zM148 27H163V28H148zM148 33H163V34H148zM0 76H69V77H0zM0 80H69V81H0zM178 82H193V83H178zM163 83H178V84H163zM163 84H178V85H163zM69 91H90V92H69zM148 91H163V92H148z"/><path fill="#3c3c3c" d="M0 12H69V13H0zM193 15H208V16H193zM0 22H69V23H0zM0 27H69V28H0zM148 34H163V35H148zM0 41H69V42H0zM163 70H178V71H163zM193 82H208V83H193zM163 92H178V93H163z"/><path fill="#3d3d3d" d="M0 11H69V12H0zM118 70H163V71H118zM208 82H267V83H208zM0 85H69V86H0z"/><path fill="#3e3e3e" d="M0 14H69V15H0zM133 27H148V28H133zM0 33H69V34H0zM133 33H148V34H133zM0 66H69V67H0zM0 72H69V73H0zM0 81H69V82H0zM0 84H69V85H0zM148 85H163V86H148zM0 86H69V87H0z"/><path fill="#3f3f3f" d="M0 4H69V5H0zM0 7H69V8H0zM0 8H69V9H0zM148 8H163V9H148zM178 15H193V16H178zM0 31H69V32H0zM133 34H148V35H133zM0 53H69V54H0zM0 55H69V56H0zM0 58H69V59H0zM0 61H69V62H0zM0 73H69V74H0zM0 78H69V79H0zM178 83H193V84H178zM0 88H69V89H0z"/><path fill="#404040" d="M0 0H69V1H0zM0 1H69V2H0zM0 10H69V11H0zM148 14H163V15H148zM0 17H69V18H0zM0 19H69V20H0zM0 23H69V24H0zM0 24H69V25H0zM118 27H133V28H118zM0 30H69V31H0zM118 33H133V34H118zM118 34H133V35H118zM0 39H69V40H0zM0 45H69V46H0zM0 50H69V51H0zM0 54H69V55H0zM0 56H69V57H0zM0 59H69V60H0zM0 62H69V63H0zM0 67H69V68H0zM0 79H69V80H0zM90 85H118V86H90zM69 86H90V87H69zM69 90H90V91H69zM0 93H69V94H0z"/><path fill="#414141" d="M0 9H69V10H0zM163 15H178V16H163zM0 28H69V29H0zM0 32H69V33H0zM0 35H69V36H0zM0 46H69V47H0zM0 48H69V49H0zM0 49H69V50H0zM0 51H69V52H0zM0 57H69V58H0zM0 64H69V65H0zM0 70H69V71H0zM0 74H69V75H0zM0 82H69V83H0zM163 93H178V94H163z"/><path fill="#424242" d="M0 25H69V26H0zM193 38H267V39H193zM0 40H69V41H0zM0 43H69V44H0zM0 44H69V45H0zM0 65H69V66H0zM0 71H69V72H0zM0 83H69V84H0zM69 89H90V90H69zM0 90H69V91H0z"/><path fill="#434343" d="M0 2H69V3H0zM0 6H69V7H0zM0 13H69V14H0zM0 21H69V22H0zM208 31H267V32H208zM0 34H69V35H0zM0 36H69V37H0zM178 38H193V39H178zM0 52H69V53H0zM0 60H69V61H0zM0 63H69V64H0zM0 69H69V70H0zM0 75H69V76H0zM178 84H193V85H178zM0 89H69V90H0zM0 92H69V93H0z"/><path fill="#444444" d="M133 8H148V9H133zM133 14H148V15H133zM148 15H163V16H148zM178 31H208V32H178zM193 32H267V33H193zM0 37H69V38H0zM163 38H178V39H163zM0 42H69V43H0zM0 47H69V48H0zM193 83H208V84H193zM163 87H178V88H163z"/><path fill="#454545" d="M0 3H69V4H0zM0 15H69V16H0zM118 15H148V16H118zM0 18H69V19H0zM0 26H69V27H0zM178 32H193V33H178zM148 38H163V39H148zM208 83H267V84H208zM0 87H69V88H0zM163 88H178V89H163zM0 91H69V92H0z"/><path fill="#464646" d="M118 8H133V9H118zM118 14H133V15H118zM0 16H69V17H0zM0 20H69V21H0zM148 31H178V32H148zM163 32H178V33H163zM0 38H69V39H0zM118 38H148V39H118zM118 67H163V68H118z"/><path fill="#474747" d="M0 5H69V6H0zM118 31H148V32H118zM118 32H163V33H118zM163 67H193V68H163zM0 68H69V69H0zM118 75H163V76H118zM0 77H69V78H0zM69 85H90V86H69zM178 89H193V90H178z"/><path fill="#484848" d="M178 44H267V45H178zM118 60H163V61H118zM193 67H267V68H193zM90 84H118V85H90zM163 90H178V91H163z"/><path fill="#494949" d="M0 29H69V30H0zM118 44H178V45H118zM118 52H178V53H118zM163 60H193V61H163zM118 72H148V73H118zM163 75H178V76H163zM118 77H148V78H118zM193 84H208V85H193zM163 85H178V86H163z"/><path fill="#4a4a4a" d="M178 52H267V53H178zM193 60H267V61H193zM148 72H163V73H148zM178 75H193V76H178zM148 77H163V78H148zM90 79H118V80H90zM163 91H178V92H163z"/><path fill="#4b4b4b" d="M118 20H267V21H118zM90 83H118V84H90zM208 84H267V85H208zM178 92H193V93H178z"/><path fill="#4c4c4c" d="M208 5H267V6H208zM118 29H163V30H118zM163 72H178V73H163zM193 75H267V76H193zM118 81H148V82H118z"/><path fill="#4d4d4d" d="M193 5H208V6H193zM118 18H148V19H118zM163 29H193V30H163zM163 77H178V78H163zM69 84H90V85H69z"/><path fill="#4e4e4e" d="M148 18H178V19H148zM193 29H267V30H193zM118 36H148V37H118zM118 47H148V48H118zM178 72H193V73H178zM118 78H148V79H118zM69 80H90V81H69zM90 81H118V82H90zM148 81H163V82H148z"/><path fill="#4f4f4f" d="M178 5H193V6H178zM193 9H267V10H193zM178 18H208V19H178zM148 36H163V37H148zM148 47H163V48H148zM69 57H90V58H69zM118 63H148V64H118zM90 73H118V74H90zM178 77H193V78H178zM148 78H163V79H148z"/><path fill="#505050" d="M178 9H193V10H178zM208 18H267V19H208zM163 36H178V37H163zM163 47H178V48H163zM118 53H148V54H118zM69 55H90V56H69zM148 63H163V64H148zM90 72H118V73H90zM193 72H208V73H193zM90 75H118V76H90zM69 76H90V77H69zM90 80H148V81H90zM69 83H90V84H69z"/><path fill="#515151" d="M118 28H148V29H118zM178 36H193V37H178zM90 43H118V44H90zM178 47H193V48H178zM148 53H163V54H148zM118 55H148V56H118zM118 57H148V58H118zM118 58H148V59H118zM118 64H148V65H118zM69 72H90V73H69zM208 72H267V73H208zM69 73H90V74H69zM90 76H118V77H90zM193 77H208V78H193zM148 80H163V81H148zM69 81H90V82H69zM178 93H193V94H178z"/><path fill="#525252" d="M163 5H178V6H163zM163 9H178V10H163zM148 28H163V29H148zM193 36H208V37H193zM118 46H148V47H118zM193 47H208V48H193zM118 54H148V55H118zM148 55H163V56H148zM148 57H163V58H148zM90 61H118V62H90zM163 63H178V64H163zM118 69H148V70H118zM90 74H118V75H90zM69 75H90V76H69zM208 77H267V78H208zM90 78H118V79H90zM178 87H193V88H178zM193 89H208V90H193z"/><path fill="#535353" d="M118 9H163V10H118zM118 21H148V22H118zM118 22H148V23H118zM163 28H178V29H163zM118 30H133V31H118zM69 34H90V35H69zM69 35H90V36H69zM208 36H267V37H208zM118 43H148V44H118zM148 46H163V47H148zM69 47H90V48H69zM208 47H267V48H208zM163 53H178V54H163zM118 56H133V57H118zM148 58H163V59H148zM148 64H163V65H148zM148 69H163V70H148zM90 71H118V72H90zM163 78H178V79H163zM163 81H178V82H163zM69 82H90V83H69zM118 86H133V87H118z"/><path fill="#545454" d="M148 5H163V6H148zM148 21H163V22H148zM148 22H163V23H148zM69 26H90V27H69zM69 28H90V29H69zM118 42H148V43H118zM69 43H90V44H69zM148 43H163V44H148zM69 45H90V46H69zM118 48H148V49H118zM90 50H118V51H90zM148 54H163V55H148zM90 65H118V66H90zM69 68H90V69H69zM69 77H90V78H69zM178 88H193V89H178z"/><path fill="#555555" d="M118 5H148V6H118zM193 6H267V7H193zM178 28H193V29H178zM69 29H90V30H69zM69 36H90V37H69zM118 37H148V38H118zM148 42H163V43H148zM163 46H178V47H163zM69 48H90V49H69zM148 48H163V49H148zM69 50H90V51H69zM90 51H118V52H90zM178 53H193V54H178zM90 55H118V56H90zM163 55H178V56H163zM133 56H148V57H133zM163 57H178V58H163zM178 63H193V64H178zM90 66H118V67H90zM118 68H148V69H118zM90 69H118V70H90zM69 70H118V71H69zM118 76H148V77H118zM118 79H148V80H118zM163 80H178V81H163zM90 82H118V83H90zM133 86H148V87H133z"/><path fill="#565656" d="M178 6H193V7H178zM193 7H267V8H193zM118 16H148V17H118zM163 21H178V22H163zM163 22H178V23H163zM118 23H148V24H118zM133 30H148V31H133zM118 35H148V36H118zM148 37H163V38H148zM69 39H90V40H69zM118 40H148V41H118zM69 42H90V43H69zM163 43H178V44H163zM69 49H90V50H69zM69 53H90V54H69zM163 54H178V55H163zM163 58H178V59H163zM69 64H90V65H69zM163 64H178V65H163zM118 65H148V66H118zM69 67H90V68H69zM69 69H90V70H69zM69 78H90V79H69zM178 85H193V86H178zM208 89H267V90H208z"/><path fill="#575757" d="M208 3H267V4H208zM163 6H178V7H163zM178 7H193V8H178zM118 13H148V14H118zM148 16H163V17H148zM148 23H163V24H148zM69 25H90V26H69zM193 28H208V29H193zM90 35H118V36H90zM90 38H118V39H90zM118 39H148V40H118zM90 42H118V43H90zM163 42H178V43H163zM69 46H90V47H69zM69 52H90V53H69zM193 53H208V54H193zM69 61H90V62H69zM118 62H148V63H118zM90 64H118V65H90zM69 65H90V66H69zM90 67H118V68H90zM148 68H163V69H148zM163 69H178V70H163zM69 74H90V75H69zM148 76H163V77H148zM178 78H193V79H178zM193 92H208V93H193z"/><path fill="#585858" d="M193 3H208V4H193zM118 6H163V7H118zM118 7H178V8H118zM148 13H163V14H148zM178 21H193V22H178zM118 26H148V27H118zM208 28H267V29H208zM69 30H90V31H69zM69 32H90V33H69zM90 33H118V34H90zM148 35H163V36H148zM163 37H178V38H163zM148 40H163V41H148zM69 41H90V42H69zM178 43H193V44H178zM69 44H90V45H69zM178 46H193V47H178zM163 48H178V49H163zM69 51H90V52H69zM208 53H267V54H208zM178 55H193V56H178zM178 57H193V58H178zM118 59H148V60H118zM193 63H208V64H193zM148 65H163V66H148zM69 79H90V80H69zM148 79H163V80H148zM178 90H193V91H178z"/><path fill="#595959" d="M178 3H193V4H178zM163 13H178V14H163zM178 22H193V23H178zM118 25H133V26H118zM90 26H118V27H90zM148 26H163V27H148zM90 32H118V33H90zM148 39H163V40H148zM90 46H118V47H90zM118 51H133V52H118zM148 56H163V57H148zM178 58H193V59H178zM69 62H90V63H69zM69 63H90V64H69zM208 63H267V64H208zM69 66H90V67H69zM90 68H118V69H90zM118 71H133V72H118zM90 77H118V78H90zM178 81H193V82H178z"/><path fill="#5a5a5a" d="M163 3H178V4H163zM118 10H148V11H118zM163 16H178V17H163zM118 19H148V20H118zM193 21H208V22H193zM163 23H178V24H163zM90 29H118V30H90zM90 30H118V31H90zM90 36H118V37H90zM90 37H118V38H90zM69 38H90V39H69zM90 40H118V41H90zM90 41H118V42H90zM178 42H193V43H178zM118 45H148V46H118zM193 46H208V47H193zM90 48H118V49H90zM90 49H118V50H90zM69 54H90V55H69zM178 54H193V55H178zM193 55H208V56H193zM148 59H163V60H148zM148 62H163V63H148zM178 64H193V65H178zM69 71H90V72H69zM193 78H208V79H193zM178 80H193V81H178z"/><path fill="#5b5b5b" d="M118 3H163V4H118zM148 10H163V11H148zM178 13H193V14H178zM148 19H163V20H148zM208 21H267V22H208zM193 22H208V23H193zM133 25H148V26H133zM90 28H118V29H90zM69 31H118V32H69zM90 34H118V35H90zM163 35H178V36H163zM69 37H90V38H69zM178 37H193V38H178zM90 39H118V40H90zM69 40H90V41H69zM163 40H178V41H163zM118 41H148V42H118zM193 43H267V44H193zM208 46H267V47H208zM178 48H193V49H178zM208 55H267V56H208zM69 56H90V57H69zM193 57H208V58H193zM69 58H90V59H69zM69 59H90V60H69zM90 60H118V61H90zM163 68H178V69H163zM133 71H148V72H133zM118 74H148V75H118zM148 86H163V87H148zM178 91H193V92H178zM208 92H267V93H208z"/><path fill="#5c5c5c" d="M163 10H178V11H163zM193 13H208V14H193zM178 16H193V17H178zM208 22H267V23H208zM148 30H163V31H148zM163 39H178V40H163zM193 42H208V43H193zM90 45H118V46H90zM148 45H163V46H148zM90 47H118V48H90zM118 49H148V50H118zM133 51H148V52H133zM90 52H118V53H90zM208 57H267V58H208zM90 58H118V59H90zM193 58H208V59H193zM90 59H118V60H90zM69 60H90V61H69zM90 62H118V63H90zM90 63H118V64H90zM178 69H193V70H178zM163 76H178V77H163zM208 78H267V79H208z"/><path fill="#5d5d5d" d="M178 10H193V11H178zM208 13H267V14H208zM118 17H133V18H118zM178 23H193V24H178zM163 26H178V27H163zM69 33H90V34H69zM148 41H163V42H148zM208 42H267V43H208zM193 48H208V49H193zM193 54H208V55H193zM90 56H118V57H90zM208 58H267V59H208zM193 64H208V65H193zM163 65H178V66H163zM163 79H178V80H163z"/><path fill="#5e5e5e" d="M193 10H267V11H193zM193 16H208V17H193zM133 17H148V18H133zM69 23H90V24H69zM69 24H90V25H69zM178 35H193V36H178zM193 37H208V38H193zM178 40H193V41H178zM208 48H267V49H208zM148 49H163V50H148zM90 53H118V54H90zM208 54H267V55H208zM163 62H178V63H163zM208 64H267V65H208zM118 66H148V67H118zM118 73H148V74H118zM148 74H163V75H148zM193 80H208V81H193zM193 81H208V82H193zM193 87H208V88H193z"/><path fill="#5f5f5f" d="M90 15H118V16H90zM208 16H267V17H208zM148 17H163V18H148zM90 19H118V20H90zM163 19H178V20H163zM90 22H118V23H90zM90 24H118V25H90zM208 37H267V38H208zM90 54H118V55H90zM163 59H178V60H163zM193 69H208V70H193zM208 80H267V81H208zM193 93H208V94H193z"/><path fill="#606060" d="M69 14H90V15H69zM69 22H90V23H69zM193 23H208V24H193zM118 24H133V25H118zM148 25H163V26H148zM69 27H90V28H69zM178 39H193V40H178zM163 45H178V46H163zM163 56H178V57H163zM118 61H133V62H118zM178 68H193V69H178zM148 71H163V72H148zM208 81H267V82H208zM193 85H208V86H193zM193 88H208V89H193z"/><path fill="#616161" d="M118 12H148V13H118zM90 18H118V19H90zM69 19H90V20H69zM90 21H118V22H90zM208 23H267V24H208zM178 26H193V27H178zM193 35H208V36H193zM193 40H208V41H193zM163 41H178V42H163zM118 50H148V51H118zM148 66H163V67H148zM208 69H267V70H208zM148 73H163V74H148z"/><path fill="#626262" d="M118 0H267V1H118zM133 24H148V25H133zM208 40H267V41H208zM163 49H178V50H163zM133 61H148V62H133zM178 65H193V66H178zM178 76H193V77H178zM163 86H178V87H163z"/><path fill="#636363" d="M148 12H163V13H148zM178 19H193V20H178zM69 20H118V21H69zM90 25H118V26H90zM90 27H118V28H90zM208 35H267V36H208zM193 39H208V40H193zM90 44H118V45H90zM90 57H118V58H90zM178 79H193V80H178zM208 87H267V88H208z"/><path fill="#646464" d="M90 14H118V15H90zM69 15H90V16H69zM90 16H118V17H90zM90 17H118V18H90zM163 17H178V18H163zM69 18H90V19H69zM193 26H208V27H193zM208 39H267V40H208zM148 50H163V51H148zM148 51H163V52H148zM178 59H193V60H178zM178 62H193V63H178zM163 74H178V75H163zM208 85H267V86H208zM208 93H267V94H208z"/><path fill="#656565" d="M118 2H148V3H118zM118 11H148V12H118zM69 13H90V14H69zM208 26H267V27H208zM163 30H178V31H163zM178 45H193V46H178zM193 68H208V69H193zM208 88H267V89H208zM193 90H208V91H193z"/><path fill="#666666" d="M148 2H163V3H148zM163 12H178V13H163zM163 25H178V26H163zM178 41H193V42H178zM178 56H193V57H178zM148 61H163V62H148zM193 65H208V66H193zM208 68H267V69H208zM163 71H178V72H163zM193 76H208V77H193z"/><path fill="#676767" d="M118 1H163V2H118zM163 2H178V3H163zM148 11H163V12H148zM69 12H90V13H69zM193 19H208V20H193zM163 66H178V67H163z"/><path fill="#686868" d="M178 2H193V3H178zM90 12H118V13H90zM69 17H90V18H69zM178 49H193V50H178zM193 59H208V60H193zM193 62H208V63H193zM208 65H267V66H208zM163 73H178V74H163zM208 76H267V77H208zM193 79H208V80H193z"/><path fill="#696969" d="M163 1H178V2H163zM193 2H208V3H193zM69 10H90V11H69zM90 13H118V14H90zM178 17H193V18H178zM208 19H267V20H208zM148 24H163V25H148zM193 45H208V46H193zM193 91H208V92H193z"/><path fill="#6a6a6a" d="M178 1H193V2H178zM208 2H267V3H208zM90 23H118V24H90zM193 41H208V42H193zM208 45H267V46H208zM163 50H178V51H163zM208 59H267V60H208zM208 62H267V63H208zM208 79H267V80H208zM178 86H193V87H178z"/><path fill="#6b6b6b" d="M193 1H208V2H193zM90 4H148V5H90zM163 11H178V12H163zM178 12H193V13H178zM69 16H90V17H69zM208 90H267V91H208z"/><path fill="#6c6c6c" d="M208 1H267V2H208zM148 4H163V5H148zM90 10H118V11H90zM69 11H90V12H69zM208 41H267V42H208zM193 49H208V50H193zM163 61H178V62H163zM178 74H193V75H178z"/><path fill="#6d6d6d" d="M90 8H118V9H90zM69 9H90V10H69zM193 17H208V18H193zM178 25H193V26H178zM193 56H208V57H193zM178 71H193V72H178z"/><path fill="#6e6e6e" d="M90 6H118V7H90zM90 9H118V10H90zM193 12H208V13H193zM178 30H193V31H178zM208 49H267V50H208zM163 51H178V52H163z"/><path fill="#6f6f6f" d="M163 4H178V5H163zM208 12H267V13H208zM208 17H267V18H208zM178 66H193V67H178zM208 91H267V92H208z"/><path fill="#707070" d="M90 11H118V12H90zM178 11H193V12H178z"/><path fill="#717171" d="M208 56H223V57H208zM178 73H193V74H178z"/><path fill="#727272" d="M90 2H118V3H90zM163 24H178V25H163zM178 50H193V51H178zM193 74H208V75H193zM193 86H208V87H193z"/><path fill="#737373" d="M178 4H193V5H178zM193 25H208V26H193zM223 56H267V57H223zM178 61H193V62H178zM193 71H208V72H193z"/><path fill="#747474" d="M90 5H118V6H90zM69 8H90V9H69zM193 11H208V12H193zM208 74H267V75H208z"/><path fill="#757575" d="M90 3H118V4H90zM193 66H208V67H193z"/><path fill="#767676" d="M193 4H208V5H193zM208 11H267V12H208z"/><path fill="#777777" d="M208 4H267V5H208zM69 7H118V8H69zM208 25H223V26H208zM193 30H208V31H193zM208 66H267V67H208zM208 71H223V72H208zM208 86H223V87H208z"/><path fill="#787878" d="M193 50H208V51H193zM193 73H208V74H193z"/><path fill="#797979" d="M223 25H267V26H223zM178 51H193V52H178zM193 61H208V62H193zM223 71H267V72H223zM223 86H267V87H223z"/><path fill="#7a7a7a" d="M208 50H267V51H208zM208 73H267V74H208z"/><path fill="#7b7b7b" d="M178 24H193V25H178z"/><path fill="#7d7d7d" d="M69 5H90V6H69zM208 30H223V31H208z"/><path fill="#7e7e7e" d="M90 1H118V2H90zM69 6H90V7H69zM208 61H223V62H208z"/><path fill="#808080" d="M69 2H90V3H69zM69 3H90V4H69zM223 30H267V31H223zM223 61H267V62H223z"/><path fill="#828282" d="M193 51H208V52H193z"/><path fill="#838383" d="M69 4H90V5H69z"/><path fill="#848484" d="M193 24H208V25H193z"/><path fill="#8a8a8a" d="M208 24H223V25H208zM208 51H223V52H208z"/><path fill="#8c8c8c" d="M223 24H267V25H223zM223 51H267V52H223z"/><path fill="#8d8d8d" d="M69 21H90V22H69z"/><path fill="#969696" d="M69 1H90V2H69z"/><path fill="#9a9a9a" d="M90 0H118V1H90z"/><path fill="#ababab" d="M69 0H90V1H69z"/></g></g>
<line x1="69.4" y1="0" x2="69.4" y2="253" stroke="#fff" stroke-width="2.4" stroke-dasharray="3.6 2"/>
<line x1="89.8" y1="0" x2="89.8" y2="253" stroke="#fff" stroke-width="2.4" stroke-dasharray="3.6 2"/>
<line x1="118.4" y1="0" x2="118.4" y2="253" stroke="#fff" stroke-width="2.4" stroke-dasharray="3.6 2"/>
<rect x="69.4" y="-23.4" width="20.4" height="23.4" fill="#e3e3e3"/>
<rect x="89.8" y="-23.4" width="28.6" height="23.4" fill="#dcebc4"/>
<rect x="118.4" y="-23.4" width="72.6" height="23.4" fill="#f3e8f5"/>
<line x1="89.8" y1="-23.4" x2="89.8" y2="0" stroke="#000" stroke-width="2" stroke-dasharray="3 2"/>
<line x1="118.4" y1="-23.4" x2="118.4" y2="0" stroke="#000" stroke-width="2" stroke-dasharray="3 2"/>
<line x1="12.6" y1="253" x2="12.6" y2="259" stroke="#333" stroke-width="1.3"/>
<line x1="69.4" y1="253" x2="69.4" y2="259" stroke="#333" stroke-width="1.3"/>
<line x1="128.2" y1="253" x2="128.2" y2="259" stroke="#333" stroke-width="1.3"/>
<line x1="187.1" y1="253" x2="187.1" y2="259" stroke="#333" stroke-width="1.3"/>
<line x1="238.1" y1="253" x2="238.1" y2="259" stroke="#333" stroke-width="1.3"/>
<line x1="-6" y1="1.3" x2="0" y2="1.3" stroke="#333" stroke-width="1.3"/>
<line x1="-6" y1="251.7" x2="0" y2="251.7" stroke="#333" stroke-width="1.3"/>
</g>
<g transform="translate(624,929)"><g filter="url(#hf4)"><rect width="267" height="253" fill="#444"/><g transform="scale(1,3.08537)" shape-rendering="crispEdges"><path fill="#101010" d="M90 80H118V81H90z"/><path fill="#111111" d="M90 81H118V82H90z"/><path fill="#161616" d="M223 45H267V46H223z"/><path fill="#171717" d="M208 45H223V46H208zM90 79H118V80H90z"/><path fill="#181818" d="M193 45H208V46H193z"/><path fill="#191919" d="M178 45H193V46H178zM90 75H118V76H90z"/><path fill="#1a1a1a" d="M163 45H178V46H163z"/><path fill="#1b1b1b" d="M148 45H163V46H148z"/><path fill="#1c1c1c" d="M133 45H148V46H133zM90 76H118V77H90zM90 78H118V79H90z"/><path fill="#1d1d1d" d="M118 45H133V46H118z"/><path fill="#1e1e1e" d="M118 78H148V79H118z"/><path fill="#202020" d="M90 74H118V75H90zM118 81H148V82H118z"/><path fill="#212121" d="M118 80H148V81H118z"/><path fill="#222222" d="M90 72H118V73H90zM90 73H118V74H90zM90 77H118V78H90zM148 78H163V79H148z"/><path fill="#252525" d="M90 68H118V69H90zM90 71H118V72H90z"/><path fill="#262626" d="M148 81H163V82H148z"/><path fill="#272727" d="M118 79H148V80H118zM148 80H163V81H148z"/><path fill="#282828" d="M69 76H90V77H69zM118 76H148V77H118z"/><path fill="#2a2a2a" d="M90 66H118V67H90z"/><path fill="#2b2b2b" d="M90 69H118V70H90zM69 77H90V78H69zM163 78H178V79H163z"/><path fill="#2c2c2c" d="M90 70H118V71H90zM118 77H148V78H118zM148 79H163V80H148zM69 80H90V81H69zM69 81H90V82H69z"/><path fill="#2d2d2d" d="M69 74H90V75H69zM148 76H163V77H148z"/><path fill="#2e2e2e" d="M90 67H118V68H90zM69 68H90V69H69z"/><path fill="#2f2f2f" d="M69 79H90V80H69z"/><path fill="#313131" d="M193 25H267V26H193zM90 64H118V65H90zM90 65H118V66H90zM118 75H148V76H118zM148 77H163V78H148z"/><path fill="#323232" d="M118 72H148V73H118zM69 73H90V74H69zM118 73H148V74H118zM69 75H90V76H69z"/><path fill="#333333" d="M208 6H267V7H208zM208 7H267V8H208zM69 71H90V72H69zM163 80H178V81H163zM163 81H178V82H163z"/><path fill="#343434" d="M178 25H193V26H178zM208 60H267V61H208zM69 72H90V73H69zM148 72H163V73H148z"/><path fill="#353535" d="M193 6H208V7H193zM193 7H208V8H193zM193 21H267V22H193zM193 41H267V42H193zM163 60H208V61H163zM148 73H163V74H148zM118 74H148V75H118zM148 75H163V76H148zM69 78H90V79H69z"/><path fill="#363636" d="M223 5H267V6H223zM223 8H267V9H223zM163 25H178V26H163zM118 60H163V61H118zM90 61H118V62H90zM163 76H178V77H163zM178 78H193V79H178z"/><path fill="#373737" d="M193 5H223V6H193zM178 6H193V7H178zM178 7H193V8H178zM208 8H223V9H208zM178 21H193V22H178zM178 41H193V42H178zM69 65H90V66H69z"/><path fill="#383838" d="M193 8H208V9H193zM208 20H267V21H208zM148 25H163V26H148zM90 58H118V59H90zM90 59H118V60H90zM90 62H118V63H90z"/><path fill="#393939" d="M178 5H193V6H178zM163 6H178V7H163zM163 7H178V8H163zM223 18H267V19H223zM223 19H267V20H223zM193 20H208V21H193zM163 21H178V22H163zM118 25H148V26H118zM90 60H118V61H90zM69 67H90V68H69zM163 72H178V73H163zM148 74H163V75H148zM163 79H178V80H163z"/><path fill="#3a3a3a" d="M163 5H178V6H163zM178 8H193V9H178zM208 11H267V12H208zM193 18H223V19H193zM193 19H223V20H193zM178 20H193V21H178zM148 21H163V22H148zM163 41H178V42H163zM90 63H118V64H90z"/><path fill="#3b3b3b" d="M148 5H163V6H148zM148 6H163V7H148zM148 7H163V8H148zM178 11H208V12H178zM163 18H193V19H163zM163 19H193V20H163zM163 20H178V21H163zM118 21H148V22H118zM90 55H118V56H90zM90 56H118V57H90zM118 71H148V72H118zM163 73H178V74H163z"/><path fill="#3c3c3c" d="M133 5H148V6H133zM133 6H148V7H133zM133 7H148V8H133zM0 8H69V9H0zM163 8H178V9H163zM163 11H178V12H163zM133 18H163V19H133zM133 19H163V20H133zM148 20H163V21H148zM0 34H69V35H0zM148 41H163V42H148zM0 50H69V51H0zM163 77H178V78H163z"/><path fill="#3d3d3d" d="M118 5H133V6H118zM118 6H133V7H118zM118 7H133V8H118zM118 11H163V12H118zM118 18H133V19H118zM118 19H133V20H118zM118 20H148V21H118zM0 39H69V40H0zM118 41H148V42H118zM0 56H69V57H0zM69 69H90V70H69zM118 70H148V71H118zM148 71H163V72H148zM0 75H69V76H0z"/><path fill="#3e3e3e" d="M148 8H163V9H148zM0 10H69V11H0zM193 16H267V17H193zM0 23H69V24H0zM193 37H267V38H193zM0 44H69V45H0zM0 46H69V47H0zM118 63H148V64H118z"/><path fill="#3f3f3f" d="M0 5H69V6H0zM0 6H69V7H0zM133 8H148V9H133zM0 11H69V12H0zM163 16H193V17H163zM0 17H69V18H0zM0 19H69V20H0zM0 21H69V22H0zM193 28H267V29H193zM0 29H69V30H0zM0 30H69V31H0zM0 31H69V32H0zM0 33H69V34H0zM0 36H69V37H0zM178 37H193V38H178zM178 46H267V47H178zM0 54H69V55H0zM90 57H118V58H90zM118 58H163V59H118zM148 63H163V64H148zM0 66H69V67H0zM0 69H69V70H0zM148 70H163V71H148zM178 72H193V73H178zM163 75H178V76H163zM0 78H69V79H0z"/><path fill="#404040" d="M118 8H133V9H118zM118 10H148V11H118zM0 12H69V13H0zM118 16H163V17H118zM163 28H193V29H163zM163 37H178V38H163zM0 38H69V39H0zM0 43H69V44H0zM118 46H178V47H118zM118 51H148V52H118zM118 52H163V53H118zM163 58H178V59H163zM0 61H69V62H0zM0 63H69V64H0zM118 66H148V67H118zM0 72H69V73H0zM193 78H208V79H193zM0 80H69V81H0z"/><path fill="#414141" d="M0 1H69V2H0zM0 4H69V5H0zM0 9H69V10H0zM148 10H267V11H148zM118 15H267V16H118zM118 17H267V18H118zM118 28H163V29H118zM0 32H69V33H0zM0 35H69V36H0zM118 37H163V38H118zM0 42H69V43H0zM0 49H69V50H0zM148 51H178V52H148zM163 52H178V53H163zM0 60H69V61H0zM163 63H178V64H163zM0 64H90V65H0zM118 65H148V66H118zM69 66H90V67H69zM148 66H163V67H148zM0 67H69V68H0zM118 67H148V68H118zM118 69H148V70H118zM178 76H193V77H178zM0 79H69V80H0zM178 80H193V81H178z"/><path fill="#424242" d="M0 7H69V8H0zM0 14H69V15H0zM0 18H69V19H0zM0 22H69V23H0zM0 24H69V25H0zM178 38H267V39H178zM118 47H163V48H118zM178 51H267V52H178zM178 52H267V53H178zM118 53H148V54H118zM0 57H69V58H0zM178 58H193V59H178zM118 59H148V60H118zM118 61H148V62H118zM0 62H69V63H0zM0 65H69V66H0zM148 65H163V66H148zM148 67H163V68H148zM69 70H90V71H69zM163 71H178V72H163zM0 74H69V75H0zM163 74H178V75H163zM178 81H193V82H178z"/><path fill="#434343" d="M0 0H69V1H0zM208 0H267V1H208zM0 16H69V17H0zM0 26H69V27H0zM0 27H69V28H0zM0 37H69V38H0zM148 38H178V39H148zM0 40H69V41H0zM0 47H69V48H0zM163 47H267V48H163zM118 50H163V51H118zM0 51H69V52H0zM0 52H69V53H0zM148 53H163V54H148zM90 54H118V55H90zM0 55H69V56H0zM193 58H267V59H193zM148 59H163V60H148zM148 61H163V62H148zM69 62H90V63H69zM178 63H193V64H178zM163 66H178V67H163zM0 68H69V69H0zM118 68H148V69H118zM148 69H163V70H148zM163 70H178V71H163zM193 72H208V73H193zM0 73H69V74H0zM178 73H193V74H178zM208 78H267V79H208z"/><path fill="#444444" d="M193 0H208V1H193zM0 3H69V4H0zM0 13H69V14H0zM118 24H267V25H118zM0 25H69V26H0zM0 28H69V29H0zM118 34H267V35H118zM118 38H148V39H118zM0 41H69V42H0zM163 50H178V51H163zM163 53H178V54H163zM118 57H148V58H118zM118 62H148V63H118zM0 70H69V71H0zM0 76H69V77H0zM0 77H69V78H0z"/><path fill="#454545" d="M118 12H148V13H118zM0 15H69V16H0zM118 30H148V31H118zM0 45H69V46H0zM118 49H163V50H118zM178 50H208V51H178zM178 53H193V54H178zM148 57H163V58H148zM0 59H69V60H0zM163 59H178V60H163zM193 63H208V64H193zM163 65H178V66H163zM163 67H178V68H163zM148 68H163V69H148zM0 71H69V72H0zM208 72H267V73H208zM0 81H69V82H0z"/><path fill="#464646" d="M178 0H193V1H178zM148 12H163V13H148zM118 26H178V27H118zM148 30H193V31H148zM118 42H178V43H118zM0 48H69V49H0zM118 48H163V49H118zM208 50H267V51H208zM90 51H118V52H90zM90 52H118V53H90zM0 53H69V54H0zM193 53H267V54H193zM118 56H148V57H118zM0 58H69V59H0zM69 60H90V61H69zM163 61H178V62H163zM148 62H163V63H148zM208 63H267V64H208zM163 69H178V70H163z"/><path fill="#474747" d="M0 2H69V3H0zM193 3H267V4H193zM163 12H178V13H163zM0 20H69V21H0zM178 26H193V27H178zM193 30H267V31H193zM118 35H178V36H118zM178 42H267V43H178zM163 48H178V49H163zM163 49H178V50H163zM148 56H163V57H148zM163 57H178V58H163zM69 63H90V64H69zM178 66H193V67H178zM178 70H193V71H178zM178 79H193V80H178z"/><path fill="#484848" d="M163 0H178V1H163zM178 3H193V4H178zM178 12H193V13H178zM193 26H267V27H193zM178 35H208V36H178zM118 36H148V37H118zM90 46H118V47H90zM178 48H193V49H178zM178 49H193V50H178zM178 59H193V60H178zM178 65H193V66H178zM178 71H193V72H178z"/><path fill="#494949" d="M148 3H178V4H148zM193 12H267V13H193zM118 27H163V28H118zM208 35H267V36H208zM148 36H178V37H148zM118 39H163V40H118zM193 49H267V50H193zM163 56H178V57H163zM178 57H193V58H178zM178 61H193V62H178zM163 62H178V63H163zM193 66H208V67H193zM178 67H193V68H178zM163 68H178V69H163z"/><path fill="#4a4a4a" d="M148 0H163V1H148zM118 3H148V4H118zM118 23H163V24H118zM163 27H178V28H163zM118 29H148V30H118zM118 31H163V32H118zM178 36H193V37H178zM163 39H178V40H163zM193 48H267V49H193zM69 59H90V60H69zM193 59H267V60H193zM208 66H267V67H208zM193 73H208V74H193zM178 77H193V78H178z"/><path fill="#4b4b4b" d="M118 0H148V1H118zM118 4H267V5H118zM148 29H163V30H148zM163 31H178V32H163zM118 32H148V33H118zM193 36H267V37H193zM178 39H193V40H178zM90 53H118V54H90zM193 57H208V58H193zM193 61H208V62H193zM193 65H208V66H193zM178 69H193V70H178zM193 70H208V71H193zM178 75H193V76H178zM193 76H208V77H193z"/><path fill="#4c4c4c" d="M223 1H267V2H223zM163 23H178V24H163zM178 27H193V28H178zM163 29H178V30H163zM148 32H163V33H148zM193 39H267V40H193zM118 40H163V41H118zM90 44H118V45H90zM90 48H118V49H90zM69 53H90V54H69zM118 55H148V56H118zM178 56H193V57H178zM208 57H267V58H208zM208 61H267V62H208zM178 62H193V63H178zM208 65H267V66H208zM193 67H208V68H193zM208 73H267V74H208z"/><path fill="#4d4d4d" d="M208 1H223V2H208zM193 27H267V28H193zM178 31H193V32H178zM163 32H178V33H163zM118 43H148V44H118zM69 57H90V58H69zM208 67H267V68H208zM178 68H193V69H178zM208 70H267V71H208zM193 71H208V72H193zM178 74H193V75H178zM193 80H208V81H193z"/><path fill="#4e4e4e" d="M118 13H148V14H118zM178 23H193V24H178zM178 29H193V30H178zM193 31H267V32H193zM163 40H178V41H163zM90 43H118V44H90zM148 43H163V44H148zM90 47H118V48H90zM148 55H163V56H148zM193 56H208V57H193zM193 69H208V70H193zM208 76H267V77H208z"/><path fill="#4f4f4f" d="M193 1H208V2H193zM148 13H163V14H148zM193 23H208V24H193zM193 29H267V30H193zM178 32H193V33H178zM90 36H118V37H90zM90 37H118V38H90zM178 40H193V41H178zM90 50H118V51H90zM208 56H267V57H208zM69 61H90V62H69zM193 62H208V63H193zM208 69H267V70H208zM208 71H267V72H208zM193 81H208V82H193z"/><path fill="#505050" d="M208 23H267V24H208zM193 32H208V33H193zM193 40H208V41H193zM163 43H178V44H163zM118 44H148V45H118zM208 62H267V63H208z"/><path fill="#515151" d="M178 1H193V2H178zM208 32H267V33H208zM208 40H267V41H208zM148 44H163V45H148zM90 45H118V46H90zM90 49H118V50H90zM69 54H90V55H69zM163 55H178V56H163zM69 58H90V59H69zM193 68H208V69H193z"/><path fill="#525252" d="M163 13H178V14H163zM90 40H118V41H90zM90 42H118V43H90zM178 43H193V44H178zM69 44H90V45H69zM208 68H267V69H208zM208 80H267V81H208z"/><path fill="#535353" d="M69 55H90V56H69zM193 79H208V80H193z"/><path fill="#545454" d="M163 1H178V2H163zM90 33H118V34H90zM90 35H118V36H90zM69 42H90V43H69zM193 43H208V44H193zM163 44H178V45H163zM193 75H208V76H193zM208 81H267V82H208z"/><path fill="#555555" d="M90 39H118V40H90zM90 41H118V42H90zM208 43H267V44H208zM69 52H90V53H69zM193 74H208V75H193zM193 77H208V78H193z"/><path fill="#565656" d="M178 13H193V14H178zM90 29H118V30H90zM90 34H118V35H90zM69 43H90V44H69zM178 55H193V56H178z"/><path fill="#575757" d="M148 1H163V2H148zM90 38H118V39H90zM178 44H193V45H178zM69 45H90V46H69zM69 48H90V49H69z"/><path fill="#585858" d="M133 1H148V2H133zM193 13H208V14H193zM69 49H90V50H69zM69 51H90V52H69zM208 75H267V76H208zM208 79H267V80H208z"/><path fill="#595959" d="M118 1H133V2H118zM90 31H118V32H90zM193 55H208V56H193zM208 74H267V75H208zM208 77H267V78H208z"/><path fill="#5a5a5a" d="M208 13H267V14H208zM90 27H118V28H90zM90 30H118V31H90zM69 37H90V38H69zM69 39H90V40H69zM193 44H208V45H193zM69 47H90V48H69zM69 56H90V57H69z"/><path fill="#5b5b5b" d="M90 23H118V24H90zM69 41H90V42H69zM208 44H267V45H208zM69 46H90V47H69zM208 55H267V56H208z"/><path fill="#5c5c5c" d="M69 26H90V27H69z"/><path fill="#5d5d5d" d="M90 32H118V33H90zM69 38H90V39H69zM69 50H90V51H69z"/><path fill="#5e5e5e" d="M69 14H90V15H69zM69 24H90V25H69zM69 33H90V34H69z"/><path fill="#5f5f5f" d="M90 21H118V22H90zM90 26H118V27H90zM69 28H90V29H69zM69 36H90V37H69z"/><path fill="#606060" d="M118 14H267V15H118zM90 16H118V17H90zM69 21H90V22H69zM118 22H267V23H118zM69 25H90V26H69zM90 28H118V29H90zM193 33H267V34H193z"/><path fill="#616161" d="M90 18H118V19H90zM90 22H118V23H90zM90 24H118V25H90zM90 25H118V26H90zM178 33H193V34H178z"/><path fill="#626262" d="M90 19H118V20H90zM148 33H178V34H148zM69 40H90V41H69z"/><path fill="#636363" d="M90 14H118V15H90zM90 20H118V21H90zM69 22H90V23H69zM69 27H90V28H69zM69 31H90V32H69zM69 32H90V33H69zM118 33H148V34H118zM69 35H90V36H69zM118 54H267V55H118z"/><path fill="#646464" d="M90 12H118V13H90zM69 16H90V17H69zM69 23H90V24H69z"/><path fill="#656565" d="M90 11H118V12H90zM90 13H118V14H90zM69 15H90V16H69zM69 18H90V19H69zM69 29H90V30H69zM69 30H90V31H69z"/><path fill="#666666" d="M118 9H267V10H118zM90 15H118V16H90z"/><path fill="#676767" d="M90 17H118V18H90z"/><path fill="#686868" d="M69 34H90V35H69z"/><path fill="#696969" d="M118 64H148V65H118z"/><path fill="#6a6a6a" d="M90 4H118V5H90zM90 9H118V10H90zM90 10H118V11H90zM148 64H178V65H148z"/><path fill="#6b6b6b" d="M90 6H118V7H90zM69 17H90V18H69zM69 19H90V20H69zM69 20H90V21H69zM178 64H193V65H178z"/><path fill="#6c6c6c" d="M193 64H267V65H193z"/><path fill="#6e6e6e" d="M69 11H90V12H69z"/><path fill="#6f6f6f" d="M90 3H118V4H90zM90 7H118V8H90z"/><path fill="#707070" d="M90 8H118V9H90z"/><path fill="#717171" d="M69 3H90V4H69zM90 5H118V6H90z"/><path fill="#727272" d="M69 9H90V10H69zM69 10H90V11H69zM69 13H90V14H69z"/><path fill="#737373" d="M69 0H90V1H69zM69 12H90V13H69z"/><path fill="#757575" d="M90 2H118V3H90z"/><path fill="#767676" d="M69 5H90V6H69z"/><path fill="#787878" d="M69 8H90V9H69z"/><path fill="#797979" d="M223 2H267V3H223z"/><path fill="#7a7a7a" d="M69 6H90V7H69z"/><path fill="#7b7b7b" d="M69 1H90V2H69zM69 2H90V3H69z"/><path fill="#7c7c7c" d="M90 1H118V2H90zM208 2H223V3H208zM69 4H90V5H69z"/><path fill="#7f7f7f" d="M69 7H90V8H69z"/><path fill="#858585" d="M193 2H208V3H193z"/><path fill="#929292" d="M178 2H193V3H178z"/><path fill="#9e9e9e" d="M90 0H118V1H90z"/><path fill="#9f9f9f" d="M163 2H178V3H163z"/><path fill="#acacac" d="M148 2H163V3H148z"/><path fill="#b5b5b5" d="M133 2H148V3H133z"/><path fill="#b9b9b9" d="M118 2H133V3H118z"/></g></g>
<line x1="69.4" y1="0" x2="69.4" y2="253" stroke="#fff" stroke-width="2.4" stroke-dasharray="3.6 2"/>
<line x1="89.8" y1="0" x2="89.8" y2="253" stroke="#fff" stroke-width="2.4" stroke-dasharray="3.6 2"/>
<line x1="118.4" y1="0" x2="118.4" y2="253" stroke="#fff" stroke-width="2.4" stroke-dasharray="3.6 2"/>
<rect x="69.4" y="-23.4" width="20.4" height="23.4" fill="#e3e3e3"/>
<rect x="89.8" y="-23.4" width="28.6" height="23.4" fill="#dcebc4"/>
<rect x="118.4" y="-23.4" width="72.6" height="23.4" fill="#f3e8f5"/>
<line x1="89.8" y1="-23.4" x2="89.8" y2="0" stroke="#000" stroke-width="2" stroke-dasharray="3 2"/>
<line x1="118.4" y1="-23.4" x2="118.4" y2="0" stroke="#000" stroke-width="2" stroke-dasharray="3 2"/>
<line x1="12.6" y1="253" x2="12.6" y2="259" stroke="#333" stroke-width="1.3"/>
<line x1="69.4" y1="253" x2="69.4" y2="259" stroke="#333" stroke-width="1.3"/>
<line x1="128.2" y1="253" x2="128.2" y2="259" stroke="#333" stroke-width="1.3"/>
<line x1="187.1" y1="253" x2="187.1" y2="259" stroke="#333" stroke-width="1.3"/>
<line x1="238.1" y1="253" x2="238.1" y2="259" stroke="#333" stroke-width="1.3"/>
<line x1="-6" y1="1.5" x2="0" y2="1.5" stroke="#333" stroke-width="1.3"/>
<line x1="-6" y1="251.5" x2="0" y2="251.5" stroke="#333" stroke-width="1.3"/>
</g>
<g transform="translate(945,929)"><g filter="url(#hf5)"><rect width="267" height="253" fill="#444"/><g transform="scale(1,3.61429)" shape-rendering="crispEdges"><path fill="#161616" d="M223 44H267V45H223z"/><path fill="#171717" d="M208 44H223V45H208z"/><path fill="#181818" d="M193 44H208V45H193z"/><path fill="#191919" d="M178 44H193V45H178z"/><path fill="#1a1a1a" d="M163 44H178V45H163z"/><path fill="#1b1b1b" d="M148 44H163V45H148z"/><path fill="#1c1c1c" d="M133 44H148V45H133z"/><path fill="#1d1d1d" d="M118 44H133V45H118zM208 45H267V46H208z"/><path fill="#1e1e1e" d="M193 45H208V46H193z"/><path fill="#1f1f1f" d="M178 45H193V46H178z"/><path fill="#202020" d="M208 60H267V61H208zM208 65H267V66H208z"/><path fill="#212121" d="M163 45H178V46H163z"/><path fill="#222222" d="M148 45H163V46H148zM193 60H208V61H193zM193 65H208V66H193z"/><path fill="#232323" d="M118 45H148V46H118z"/><path fill="#242424" d="M178 60H193V61H178zM178 65H193V66H178z"/><path fill="#252525" d="M90 69H118V70H90z"/><path fill="#262626" d="M163 60H178V61H163zM163 65H178V66H163z"/><path fill="#272727" d="M148 60H163V61H148zM148 65H163V66H148z"/><path fill="#292929" d="M118 60H148V61H118zM90 65H148V66H90z"/><path fill="#2d2d2d" d="M90 68H118V69H90z"/><path fill="#2f2f2f" d="M90 62H118V63H90zM90 66H118V67H90z"/><path fill="#303030" d="M208 20H267V21H208z"/><path fill="#313131" d="M193 20H208V21H193zM69 69H90V70H69z"/><path fill="#323232" d="M178 20H193V21H178zM90 56H118V57H90zM90 67H118V68H90z"/><path fill="#333333" d="M208 30H267V31H208zM90 61H118V62H90zM69 68H90V69H69z"/><path fill="#343434" d="M163 20H178V21H163zM193 30H208V31H193zM90 57H118V58H90zM90 63H118V64H90z"/><path fill="#353535" d="M148 20H163V21H148zM178 30H193V31H178zM90 55H118V56H90z"/><path fill="#363636" d="M118 20H148V21H118zM90 64H118V65H90zM118 68H148V69H118z"/><path fill="#373737" d="M163 30H178V31H163zM90 59H118V60H90z"/><path fill="#383838" d="M148 30H163V31H148zM90 54H118V55H90zM90 58H118V59H90zM69 62H90V63H69zM69 67H90V68H69zM148 68H163V69H148z"/><path fill="#393939" d="M118 30H148V31H118zM0 45H69V46H0zM90 48H118V49H90zM69 51H90V52H69zM90 53H118V54H90zM69 66H90V67H69z"/><path fill="#3a3a3a" d="M90 49H118V50H90zM69 58H90V59H69zM90 60H118V61H90z"/><path fill="#3b3b3b" d="M0 25H69V26H0zM0 39H69V40H0zM90 52H118V53H90zM118 57H148V58H118zM69 63H90V64H69zM118 64H148V65H118zM69 65H90V66H69z"/><path fill="#3c3c3c" d="M208 1H267V2H208zM0 12H69V13H0zM0 19H69V20H0zM90 44H118V45H90zM90 46H118V47H90zM118 51H148V52H118zM118 58H148V59H118zM69 59H90V60H69zM163 68H178V69H163z"/><path fill="#3d3d3d" d="M118 21H163V22H118zM118 43H148V44H118zM90 45H118V46H90zM148 51H163V52H148zM69 56H90V57H69zM69 57H90V58H69zM148 57H163V58H148zM148 64H163V65H148z"/><path fill="#3e3e3e" d="M163 21H178V22H163zM0 22H69V23H0zM0 26H69V27H0zM0 31H69V32H0zM69 39H90V40H69zM118 39H148V40H118zM90 40H118V41H90zM0 43H69V44H0zM69 46H90V47H69zM0 52H69V53H0zM118 53H148V54H118zM148 58H163V59H148zM0 60H69V61H0zM69 61H90V62H69z"/><path fill="#3f3f3f" d="M193 1H208V2H193zM0 16H69V17H0zM0 20H69V21H0zM178 21H193V22H178zM0 27H69V28H0zM0 30H69V31H0zM0 35H69V36H0zM148 39H163V40H148zM90 41H118V42H90zM148 43H163V44H148zM0 47H69V48H0zM0 54H69V55H0zM118 55H148V56H118zM118 56H148V57H118zM0 62H69V63H0zM118 62H148V63H118z"/><path fill="#404040" d="M0 0H69V1H0zM0 14H69V15H0zM0 18H69V19H0zM193 21H208V22H193zM0 32H69V33H0zM0 34H69V35H0zM0 36H69V37H0zM90 38H118V39H90zM118 46H148V47H118zM69 49H90V50H69zM0 51H69V52H0zM163 51H178V52H163zM148 53H163V54H148zM69 55H90V56H69zM0 56H69V57H0zM0 58H69V59H0zM69 60H90V61H69zM0 65H69V66H0zM178 68H193V69H178zM0 69H69V70H0z"/><path fill="#414141" d="M0 5H69V6H0zM0 8H69V9H0zM0 21H69V22H0zM208 21H267V22H208zM0 24H69V25H0zM0 28H69V29H0zM0 29H69V30H0zM90 34H118V35H90zM0 42H69V43H0zM69 43H90V44H69zM0 44H69V45H0zM69 45H90V46H69zM90 47H148V48H90zM0 48H69V49H0zM118 48H148V49H118zM118 50H148V51H118zM90 51H118V52H90zM148 55H163V56H148zM148 56H163V57H148zM163 57H178V58H163zM0 61H69V62H0zM148 62H163V63H148zM0 63H69V64H0z"/><path fill="#424242" d="M0 3H69V4H0zM0 4H69V5H0zM0 10H69V11H0zM90 35H118V36H90zM90 36H148V37H90zM0 38H69V39H0zM163 39H178V40H163zM118 40H148V41H118zM163 43H178V44H163zM148 46H163V47H148zM0 50H69V51H0zM118 52H148V53H118zM0 55H69V56H0zM163 58H178V59H163zM118 59H148V60H118zM69 64H90V65H69zM163 64H178V65H163zM118 66H148V67H118zM118 67H148V68H118z"/><path fill="#434343" d="M0 6H69V7H0zM0 11H69V12H0zM0 15H69V16H0zM0 23H69V24H0zM90 32H148V33H90zM0 33H69V34H0zM148 36H163V37H148zM0 41H69V42H0zM90 42H118V43H90zM0 46H69V47H0zM148 47H163V48H148zM148 48H163V49H148zM118 49H148V50H118zM148 50H163V51H148zM0 53H69V54H0zM0 64H69V65H0zM0 67H69V68H0zM0 68H69V69H0z"/><path fill="#444444" d="M0 7H69V8H0zM118 18H148V19H118zM90 27H118V28H90zM148 32H163V33H148zM118 35H148V36H118zM178 39H193V40H178zM0 40H69V41H0zM148 40H163V41H148zM118 41H148V42H118zM0 49H69V50H0zM69 50H118V51H69zM178 51H193V52H178zM69 52H90V53H69zM148 52H163V53H148zM163 53H178V54H163zM69 54H90V55H69zM0 57H69V58H0zM118 61H148V62H118zM118 63H148V64H118zM193 68H208V69H193z"/><path fill="#454545" d="M0 9H69V10H0zM148 18H163V19H148zM118 31H148V32H118zM148 35H163V36H148zM0 37H69V38H0zM90 43H118V44H90zM178 43H193V44H178zM148 49H163V50H148zM163 56H178V57H163zM178 57H193V58H178zM148 59H163V60H148zM0 66H69V67H0zM148 66H163V67H148zM148 67H163V68H148z"/><path fill="#464646" d="M0 1H69V2H0zM178 1H193V2H178zM0 2H69V3H0zM0 13H69V14H0zM118 17H133V18H118zM163 18H178V19H163zM90 26H118V27H90zM69 28H90V29H69zM90 31H118V32H90zM148 31H163V32H148zM90 33H148V34H90zM163 36H178V37H163zM148 41H163V42H148zM118 42H148V43H118zM69 44H90V45H69zM163 46H178V47H163zM118 54H148V55H118zM163 55H178V56H163zM0 59H69V60H0zM163 62H178V63H163zM148 63H163V64H148zM208 68H267V69H208z"/><path fill="#474747" d="M0 17H69V18H0zM178 18H193V19H178zM69 23H90V24H69zM118 24H148V25H118zM118 28H148V29H118zM163 32H178V33H163zM69 36H90V37H69zM193 39H208V40H193zM163 40H178V41H163zM163 47H178V48H163zM69 48H90V49H69zM178 58H193V59H178zM148 61H163V62H148z"/><path fill="#484848" d="M133 17H148V18H133zM193 18H208V19H193zM69 24H90V25H69zM148 24H163V25H148zM118 26H148V27H118zM90 29H118V30H90zM69 32H90V33H69zM148 33H163V34H148zM69 37H90V38H69zM208 39H267V40H208zM69 41H90V42H69zM69 42H90V43H69zM148 42H163V43H148zM193 43H208V44H193zM69 47H90V48H69zM163 48H178V49H163zM163 50H178V51H163zM193 51H208V52H193zM69 53H90V54H69zM178 64H193V65H178z"/><path fill="#494949" d="M208 8H267V9H208zM193 12H267V13H193zM90 18H118V19H90zM208 18H267V19H208zM90 20H118V21H90zM118 22H148V23H118zM118 23H148V24H118zM148 26H163V27H148zM148 28H163V29H148zM69 30H90V31H69zM163 31H178V32H163zM69 33H90V34H69zM163 35H178V36H163zM90 37H148V38H90zM118 38H148V39H118zM90 39H118V40H90zM208 43H267V44H208zM208 51H267V52H208zM163 52H178V53H163zM178 53H193V54H178zM148 54H163V55H148zM193 57H208V58H193z"/><path fill="#4a4a4a" d="M193 8H208V9H193zM178 12H193V13H178zM69 17H90V18H69zM148 22H163V23H148zM90 23H118V24H90zM148 23H163V24H148zM69 27H90V28H69zM69 29H90V30H69zM118 29H148V30H118zM178 32H193V33H178zM118 34H148V35H118zM178 36H193V37H178zM69 40H90V41H69zM163 41H178V42H163zM163 49H178V50H163zM208 57H267V58H208z"/><path fill="#4b4b4b" d="M163 12H178V13H163zM148 17H163V18H148zM118 19H148V20H118zM163 24H178V25H163zM148 37H163V38H148zM148 38H163V39H148zM178 46H193V47H178zM178 55H193V56H178zM178 56H193V57H178zM193 58H208V59H193zM163 59H178V60H163zM163 67H178V68H163zM118 69H148V70H118z"/><path fill="#4c4c4c" d="M178 8H193V9H178zM118 12H163V13H118zM118 15H148V16H118zM90 19H118V20H90zM69 20H90V21H69zM69 25H90V26H69zM69 26H90V27H69zM163 28H178V29H163zM148 29H163V30H148zM163 33H178V34H163zM148 34H163V35H148zM178 40H193V41H178zM178 47H193V48H178zM193 64H208V65H193zM163 66H178V67H163z"/><path fill="#4d4d4d" d="M148 15H163V16H148zM148 19H163V20H148zM69 21H118V22H69zM90 25H118V26H90zM163 26H178V27H163zM69 31H90V32H69zM178 31H193V32H178zM193 32H208V33H193zM178 35H193V36H178zM193 36H208V37H193zM163 42H178V43H163zM178 48H193V49H178zM193 53H208V54H193zM208 58H267V59H208zM178 62H193V63H178zM163 63H178V64H163z"/><path fill="#4e4e4e" d="M163 1H178V2H163zM208 4H267V5H208zM163 8H178V9H163zM163 15H178V16H163zM69 18H90V19H69zM69 19H90V20H69zM69 22H118V23H69zM163 22H178V23H163zM163 23H178V24H163zM90 24H118V25H90zM208 32H267V33H208zM208 36H267V37H208zM69 38H90V39H69zM178 50H193V51H178zM163 61H178V62H163zM208 64H267V65H208z"/><path fill="#4f4f4f" d="M208 2H267V3H208zM193 4H208V5H193zM178 24H193V25H178zM118 25H148V26H118zM90 28H118V29H90zM90 30H118V31H90zM69 34H90V35H69zM193 40H208V41H193zM178 41H193V42H178zM193 46H208V47H193zM178 52H193V53H178zM208 53H267V54H208zM163 54H178V55H163zM148 69H163V70H148z"/><path fill="#505050" d="M193 2H208V3H193zM148 8H163V9H148zM178 15H193V16H178zM90 17H118V18H90zM163 17H178V18H163zM178 28H193V29H178zM163 29H178V30H163zM193 31H208V32H193zM178 33H193V34H178zM193 35H208V36H193zM163 37H178V38H163zM208 46H267V47H208zM193 47H208V48H193zM178 49H193V50H178zM193 55H208V56H193zM193 56H208V57H193z"/><path fill="#515151" d="M178 4H193V5H178zM118 8H148V9H118zM69 15H90V16H69zM193 15H267V16H193zM163 19H178V20H163zM148 25H163V26H148zM178 26H193V27H178zM208 31H267V32H208zM163 34H178V35H163zM69 35H90V36H69zM208 35H267V36H208zM163 38H178V39H163zM208 40H267V41H208zM208 56H267V57H208z"/><path fill="#525252" d="M118 16H148V17H118zM178 23H193V24H178zM193 24H208V25H193zM208 47H267V48H208zM193 48H208V49H193zM193 50H208V51H193zM208 55H267V56H208zM178 59H193V60H178zM193 62H208V63H193z"/><path fill="#535353" d="M178 2H193V3H178zM69 14H118V15H69zM90 15H118V16H90zM178 22H193V23H178zM208 24H267V25H208zM118 27H133V28H118zM193 28H208V29H193zM193 33H208V34H193zM193 41H208V42H193zM178 42H193V43H178zM208 48H267V49H208zM178 67H193V68H178z"/><path fill="#545454" d="M163 4H178V5H163zM69 11H90V12H69zM90 12H118V13H90zM90 13H118V14H90zM118 14H148V15H118zM148 16H163V17H148zM193 26H208V27H193zM133 27H148V28H133zM208 28H267V29H208zM208 41H267V42H208zM208 50H267V51H208zM193 52H208V53H193zM208 62H267V63H208zM178 66H193V67H178z"/><path fill="#555555" d="M148 1H163V2H148zM90 8H118V9H90zM148 14H163V15H148zM90 16H118V17H90zM178 19H193V20H178zM178 29H193V30H178zM208 33H267V34H208zM193 49H208V50H193zM178 63H193V64H178z"/><path fill="#565656" d="M163 2H178V3H163zM148 4H163V5H148zM90 7H118V8H90zM178 17H193V18H178zM193 22H208V23H193zM193 23H208V24H193zM163 25H178V26H163zM208 26H267V27H208zM178 34H193V35H178zM178 37H193V38H178zM208 52H267V53H208zM178 61H193V62H178z"/><path fill="#575757" d="M118 4H148V5H118zM193 7H267V8H193zM118 10H163V11H118zM69 16H90V17H69zM163 16H178V17H163zM208 23H267V24H208zM178 38H193V39H178zM193 42H208V43H193zM208 49H267V50H208zM178 54H193V55H178z"/><path fill="#585858" d="M148 2H163V3H148zM69 3H90V4H69zM69 4H90V5H69zM90 6H118V7H90zM163 7H193V8H163zM163 10H178V11H163zM163 14H178V15H163zM193 19H208V20H193zM208 22H267V23H208zM148 27H163V28H148zM193 59H208V60H193z"/><path fill="#595959" d="M118 1H148V2H118zM69 6H90V7H69zM118 7H163V8H118zM69 10H90V11H69zM178 10H208V11H178zM69 13H90V14H69zM193 29H208V30H193zM208 42H267V43H208zM193 67H208V68H193zM163 69H178V70H163z"/><path fill="#5a5a5a" d="M118 2H148V3H118zM90 10H118V11H90zM208 10H267V11H208zM69 12H90V13H69zM118 13H148V14H118zM208 19H267V20H208zM208 59H267V60H208zM193 66H208V67H193z"/><path fill="#5b5b5b" d="M69 8H90V9H69zM90 9H118V10H90zM148 13H163V14H148zM178 14H193V15H178zM178 16H193V17H178zM193 17H208V18H193zM208 29H267V30H208zM193 34H208V35H193zM193 37H208V38H193z"/><path fill="#5c5c5c" d="M90 3H118V4H90zM178 25H193V26H178zM193 38H208V39H193zM193 63H208V64H193zM208 67H267V68H208z"/><path fill="#5d5d5d" d="M69 7H90V8H69zM118 9H148V10H118zM90 11H148V12H90zM193 14H208V15H193zM163 27H178V28H163zM208 34H267V35H208zM208 37H267V38H208zM193 54H208V55H193zM193 61H208V62H193zM208 66H267V67H208z"/><path fill="#5e5e5e" d="M118 6H208V7H118zM69 9H90V10H69zM148 9H163V10H148zM208 14H267V15H208zM208 17H223V18H208zM208 38H267V39H208zM208 63H267V64H208z"/><path fill="#5f5f5f" d="M90 4H118V5H90zM69 5H90V6H69zM208 6H267V7H208zM163 9H178V10H163zM148 11H163V12H148zM163 13H178V14H163zM193 16H208V17H193zM208 61H267V62H208z"/><path fill="#606060" d="M208 0H267V1H208zM69 2H90V3H69zM163 3H267V4H163zM208 16H267V17H208zM223 17H267V18H223zM208 54H267V55H208z"/><path fill="#616161" d="M193 0H208V1H193zM118 3H163V4H118zM178 9H193V10H178zM193 25H208V26H193z"/><path fill="#626262" d="M163 11H178V12H163z"/><path fill="#636363" d="M90 2H118V3H90zM90 5H118V6H90zM193 9H267V10H193zM178 13H193V14H178zM208 25H267V26H208zM178 27H193V28H178z"/><path fill="#646464" d="M178 0H193V1H178zM178 69H193V70H178z"/><path fill="#656565" d="M118 5H148V6H118zM178 11H193V12H178z"/><path fill="#666666" d="M148 5H163V6H148zM193 13H208V14H193z"/><path fill="#676767" d="M208 13H267V14H208zM193 27H208V28H193z"/><path fill="#686868" d="M163 0H178V1H163zM163 5H178V6H163zM193 11H208V12H193z"/><path fill="#696969" d="M208 11H267V12H208z"/><path fill="#6a6a6a" d="M178 5H193V6H178z"/><path fill="#6b6b6b" d="M148 0H163V1H148zM69 1H79V2H69zM208 27H223V28H208z"/><path fill="#6c6c6c" d="M118 0H148V1H118zM193 5H267V6H193zM223 27H267V28H223z"/><path fill="#6d6d6d" d="M193 69H208V70H193z"/><path fill="#6e6e6e" d="M90 1H118V2H90z"/><path fill="#707070" d="M208 69H267V70H208z"/><path fill="#767676" d="M79 1H90V2H79z"/><path fill="#7b7b7b" d="M69 0H79V1H69z"/><path fill="#a4a4a4" d="M90 0H118V1H90z"/><path fill="#b8b8b8" d="M79 0H90V1H79z"/></g></g>
<line x1="69.4" y1="0" x2="69.4" y2="253" stroke="#fff" stroke-width="2.4" stroke-dasharray="3.6 2"/>
<line x1="89.8" y1="0" x2="89.8" y2="253" stroke="#fff" stroke-width="2.4" stroke-dasharray="3.6 2"/>
<line x1="118.4" y1="0" x2="118.4" y2="253" stroke="#fff" stroke-width="2.4" stroke-dasharray="3.6 2"/>
<rect x="69.4" y="-23.4" width="20.4" height="23.4" fill="#e3e3e3"/>
<rect x="89.8" y="-23.4" width="28.6" height="23.4" fill="#dcebc4"/>
<rect x="118.4" y="-23.4" width="72.6" height="23.4" fill="#f3e8f5"/>
<line x1="89.8" y1="-23.4" x2="89.8" y2="0" stroke="#000" stroke-width="2" stroke-dasharray="3 2"/>
<line x1="118.4" y1="-23.4" x2="118.4" y2="0" stroke="#000" stroke-width="2" stroke-dasharray="3 2"/>
<line x1="12.6" y1="253" x2="12.6" y2="259" stroke="#333" stroke-width="1.3"/>
<line x1="69.4" y1="253" x2="69.4" y2="259" stroke="#333" stroke-width="1.3"/>
<line x1="128.2" y1="253" x2="128.2" y2="259" stroke="#333" stroke-width="1.3"/>
<line x1="187.1" y1="253" x2="187.1" y2="259" stroke="#333" stroke-width="1.3"/>
<line x1="238.1" y1="253" x2="238.1" y2="259" stroke="#333" stroke-width="1.3"/>
<line x1="-6" y1="1.8" x2="0" y2="1.8" stroke="#333" stroke-width="1.3"/>
<line x1="-6" y1="251.2" x2="0" y2="251.2" stroke="#333" stroke-width="1.3"/>
</g>
<text x="65.6" y="663.7" font-size="27.6">Go trials</text>
<text x="64.5" y="690.7" font-size="27.6">sound A</text>
<text x="60.0" y="718.2" font-size="27.6">(6.2 KHz)</text>
<text x="37.8" y="1033.6" font-size="27.6">No-Go trials</text>
<text x="61.6" y="1060.6" font-size="27.6">sound B</text>
<text x="49.9" y="1087.0" font-size="27.6">(15.6 KHz)</text>
<text transform="translate(250.3,695.0) rotate(-90)" x="-69.7" y="0" font-size="23.6">Bouton index</text>
<text transform="translate(241.0,1058.2) rotate(-90)" x="-69.7" y="0" font-size="23.6">Bouton index</text>
<text x="1210.3" y="541.9" font-size="23.6">z-score</text>
<rect x="1224.2" y="559" width="20.1" height="155.1" fill="url(#jet)"/>
<line x1="1244.3" y1="559.0" x2="1250.0" y2="559.0" stroke="#333" stroke-width="1.3"/>
<text x="1263.0" y="567.4" font-size="23.6">3</text>
<line x1="1244.3" y1="597.6" x2="1250.0" y2="597.6" stroke="#333" stroke-width="1.3"/>
<text x="1263.1" y="606.0" font-size="23.6">2</text>
<line x1="1244.3" y1="636.2" x2="1250.0" y2="636.2" stroke="#333" stroke-width="1.3"/>
<text x="1263.1" y="644.6" font-size="23.6">1</text>
<line x1="1244.3" y1="675.0" x2="1250.0" y2="675.0" stroke="#333" stroke-width="1.3"/>
<text x="1262.8" y="683.4" font-size="23.6">0</text>
<line x1="1244.3" y1="714.1" x2="1250.0" y2="714.1" stroke="#333" stroke-width="1.3"/>
<text x="1255.2" y="722.5" font-size="23.6">-1</text>
<text x="1540.9" y="491.6" font-size="27.6">Relative classification</text>
<text x="1594.8" y="517.9" font-size="27.6">performance</text>
<g shape-rendering="crispEdges"><rect x="1542.20" y="557.00" width="16.62" height="36.94" fill="#16a8d8"/><rect x="1558.42" y="557.00" width="16.62" height="36.94" fill="#2890e8"/><rect x="1574.64" y="557.00" width="16.62" height="36.94" fill="#1ea4dc"/><rect x="1590.85" y="557.00" width="16.62" height="36.94" fill="#2a8ae8"/><rect x="1607.07" y="557.00" width="16.62" height="36.94" fill="#14a8d4"/><rect x="1623.29" y="557.00" width="16.62" height="36.94" fill="#1f9ce0"/><rect x="1639.51" y="557.00" width="16.62" height="36.94" fill="#209ce2"/><rect x="1655.72" y="557.00" width="16.62" height="36.94" fill="#209ce2"/><rect x="1671.94" y="557.00" width="16.62" height="36.94" fill="#2894e8"/><rect x="1688.16" y="557.00" width="16.62" height="36.94" fill="#2894e8"/><rect x="1704.38" y="557.00" width="16.62" height="36.94" fill="#1ea0de"/><rect x="1720.59" y="557.00" width="16.62" height="36.94" fill="#2f80f6"/><rect x="1736.81" y="557.00" width="16.62" height="36.94" fill="#2a8cea"/><rect x="1753.03" y="557.00" width="16.62" height="36.94" fill="#2296e2"/><rect x="1769.25" y="557.00" width="16.62" height="36.94" fill="#1ca6dc"/><rect x="1785.46" y="557.00" width="16.62" height="36.94" fill="#1ea0e0"/><rect x="1801.68" y="557.00" width="16.62" height="36.94" fill="#2f82f6"/><rect x="1542.20" y="593.54" width="16.62" height="36.94" fill="#14aad8"/><rect x="1558.42" y="593.54" width="16.62" height="36.94" fill="#16a8da"/><rect x="1574.64" y="593.54" width="16.62" height="36.94" fill="#2590e6"/><rect x="1590.85" y="593.54" width="16.62" height="36.94" fill="#2596e4"/><rect x="1607.07" y="593.54" width="16.62" height="36.94" fill="#1c9ee0"/><rect x="1623.29" y="593.54" width="16.62" height="36.94" fill="#1ca2de"/><rect x="1639.51" y="593.54" width="16.62" height="36.94" fill="#04b4cc"/><rect x="1655.72" y="593.54" width="16.62" height="36.94" fill="#0eaed6"/><rect x="1671.94" y="593.54" width="16.62" height="36.94" fill="#12aed4"/><rect x="1688.16" y="593.54" width="16.62" height="36.94" fill="#1abcb4"/><rect x="1704.38" y="593.54" width="16.62" height="36.94" fill="#0eacd6"/><rect x="1720.59" y="593.54" width="16.62" height="36.94" fill="#2294e4"/><rect x="1736.81" y="593.54" width="16.62" height="36.94" fill="#6cca6c"/><rect x="1753.03" y="593.54" width="16.62" height="36.94" fill="#d0bc2a"/><rect x="1769.25" y="593.54" width="16.62" height="36.94" fill="#a4c844"/><rect x="1785.46" y="593.54" width="16.62" height="36.94" fill="#b8c434"/><rect x="1801.68" y="593.54" width="16.62" height="36.94" fill="#48c88a"/><rect x="1542.20" y="630.09" width="16.62" height="36.94" fill="#2096e2"/><rect x="1558.42" y="630.09" width="16.62" height="36.94" fill="#2c88ee"/><rect x="1574.64" y="630.09" width="16.62" height="36.94" fill="#1ea0de"/><rect x="1590.85" y="630.09" width="16.62" height="36.94" fill="#2296e4"/><rect x="1607.07" y="630.09" width="16.62" height="36.94" fill="#12aad8"/><rect x="1623.29" y="630.09" width="16.62" height="36.94" fill="#12b8c0"/><rect x="1639.51" y="630.09" width="16.62" height="36.94" fill="#30c4a0"/><rect x="1655.72" y="630.09" width="16.62" height="36.94" fill="#26c0a8"/><rect x="1671.94" y="630.09" width="16.62" height="36.94" fill="#0cb8c0"/><rect x="1688.16" y="630.09" width="16.62" height="36.94" fill="#12a8d8"/><rect x="1704.38" y="630.09" width="16.62" height="36.94" fill="#12a8d8"/><rect x="1720.59" y="630.09" width="16.62" height="36.94" fill="#1ea0e0"/><rect x="1736.81" y="630.09" width="16.62" height="36.94" fill="#44c88a"/><rect x="1753.03" y="630.09" width="16.62" height="36.94" fill="#ccbc2c"/><rect x="1769.25" y="630.09" width="16.62" height="36.94" fill="#c4c030"/><rect x="1785.46" y="630.09" width="16.62" height="36.94" fill="#dcb830"/><rect x="1801.68" y="630.09" width="16.62" height="36.94" fill="#94c84c"/><rect x="1542.20" y="666.63" width="16.62" height="36.94" fill="#14acd8"/><rect x="1558.42" y="666.63" width="16.62" height="36.94" fill="#14acd8"/><rect x="1574.64" y="666.63" width="16.62" height="36.94" fill="#1c9ee0"/><rect x="1590.85" y="666.63" width="16.62" height="36.94" fill="#0ab0d0"/><rect x="1607.07" y="666.63" width="16.62" height="36.94" fill="#70cc68"/><rect x="1623.29" y="666.63" width="16.62" height="36.94" fill="#fcb43c"/><rect x="1639.51" y="666.63" width="16.62" height="36.94" fill="#f4e422"/><rect x="1655.72" y="666.63" width="16.62" height="36.94" fill="#fcb43c"/><rect x="1671.94" y="666.63" width="16.62" height="36.94" fill="#fcb83c"/><rect x="1688.16" y="666.63" width="16.62" height="36.94" fill="#ecb834"/><rect x="1704.38" y="666.63" width="16.62" height="36.94" fill="#a4c844"/><rect x="1720.59" y="666.63" width="16.62" height="36.94" fill="#8cc854"/><rect x="1736.81" y="666.63" width="16.62" height="36.94" fill="#fcbc38"/><rect x="1753.03" y="666.63" width="16.62" height="36.94" fill="#fcbc38"/><rect x="1769.25" y="666.63" width="16.62" height="36.94" fill="#fcbc34"/><rect x="1785.46" y="666.63" width="16.62" height="36.94" fill="#ccbc2c"/><rect x="1801.68" y="666.63" width="16.62" height="36.94" fill="#acc43c"/><rect x="1542.20" y="703.17" width="16.62" height="36.94" fill="#2292e4"/><rect x="1558.42" y="703.17" width="16.62" height="36.94" fill="#2590e6"/><rect x="1574.64" y="703.17" width="16.62" height="36.94" fill="#1c9ce0"/><rect x="1590.85" y="703.17" width="16.62" height="36.94" fill="#16a4da"/><rect x="1607.07" y="703.17" width="16.62" height="36.94" fill="#50c880"/><rect x="1623.29" y="703.17" width="16.62" height="36.94" fill="#a0c840"/><rect x="1639.51" y="703.17" width="16.62" height="36.94" fill="#dcbc2c"/><rect x="1655.72" y="703.17" width="16.62" height="36.94" fill="#c0c030"/><rect x="1671.94" y="703.17" width="16.62" height="36.94" fill="#d8bc2c"/><rect x="1688.16" y="703.17" width="16.62" height="36.94" fill="#ecb834"/><rect x="1704.38" y="703.17" width="16.62" height="36.94" fill="#e0b42c"/><rect x="1720.59" y="703.17" width="16.62" height="36.94" fill="#c4bc2c"/><rect x="1736.81" y="703.17" width="16.62" height="36.94" fill="#7ccc5c"/><rect x="1753.03" y="703.17" width="16.62" height="36.94" fill="#fcbc38"/><rect x="1769.25" y="703.17" width="16.62" height="36.94" fill="#fcc834"/><rect x="1785.46" y="703.17" width="16.62" height="36.94" fill="#f4dc28"/><rect x="1801.68" y="703.17" width="16.62" height="36.94" fill="#fcb83c"/><rect x="1542.20" y="739.71" width="16.62" height="36.94" fill="#2c84f0"/><rect x="1558.42" y="739.71" width="16.62" height="36.94" fill="#1aa4dc"/><rect x="1574.64" y="739.71" width="16.62" height="36.94" fill="#1e9ce2"/><rect x="1590.85" y="739.71" width="16.62" height="36.94" fill="#2294e4"/><rect x="1607.07" y="739.71" width="16.62" height="36.94" fill="#f4b43c"/><rect x="1623.29" y="739.71" width="16.62" height="36.94" fill="#9cc440"/><rect x="1639.51" y="739.71" width="16.62" height="36.94" fill="#ecb838"/><rect x="1655.72" y="739.71" width="16.62" height="36.94" fill="#c0c030"/><rect x="1671.94" y="739.71" width="16.62" height="36.94" fill="#d8bc2c"/><rect x="1688.16" y="739.71" width="16.62" height="36.94" fill="#fcc830"/><rect x="1704.38" y="739.71" width="16.62" height="36.94" fill="#f4dc28"/><rect x="1720.59" y="739.71" width="16.62" height="36.94" fill="#fcc830"/><rect x="1736.81" y="739.71" width="16.62" height="36.94" fill="#f8b840"/><rect x="1753.03" y="739.71" width="16.62" height="36.94" fill="#f4b83c"/><rect x="1769.25" y="739.71" width="16.62" height="36.94" fill="#fcbc3c"/><rect x="1785.46" y="739.71" width="16.62" height="36.94" fill="#fcbc3c"/><rect x="1801.68" y="739.71" width="16.62" height="36.94" fill="#fcc434"/><rect x="1542.20" y="776.26" width="16.62" height="36.94" fill="#1aa8da"/><rect x="1558.42" y="776.26" width="16.62" height="36.94" fill="#18acd8"/><rect x="1574.64" y="776.26" width="16.62" height="36.94" fill="#3080f8"/><rect x="1590.85" y="776.26" width="16.62" height="36.94" fill="#1ea0e0"/><rect x="1607.07" y="776.26" width="16.62" height="36.94" fill="#84cc58"/><rect x="1623.29" y="776.26" width="16.62" height="36.94" fill="#e4b830"/><rect x="1639.51" y="776.26" width="16.62" height="36.94" fill="#e4b830"/><rect x="1655.72" y="776.26" width="16.62" height="36.94" fill="#c4c030"/><rect x="1671.94" y="776.26" width="16.62" height="36.94" fill="#f4d828"/><rect x="1688.16" y="776.26" width="16.62" height="36.94" fill="#f4d828"/><rect x="1704.38" y="776.26" width="16.62" height="36.94" fill="#ecb83c"/><rect x="1720.59" y="776.26" width="16.62" height="36.94" fill="#b8c438"/><rect x="1736.81" y="776.26" width="16.62" height="36.94" fill="#ccc02c"/><rect x="1753.03" y="776.26" width="16.62" height="36.94" fill="#c4c030"/><rect x="1769.25" y="776.26" width="16.62" height="36.94" fill="#f4dc30"/><rect x="1785.46" y="776.26" width="16.62" height="36.94" fill="#f4f020"/><rect x="1801.68" y="776.26" width="16.62" height="36.94" fill="#fccc34"/></g>
<line x1="1607" y1="557.0" x2="1607" y2="812.8" stroke="#fff" stroke-width="2.6" stroke-dasharray="3.6 2"/>
<line x1="1629.5" y1="557.0" x2="1629.5" y2="812.8" stroke="#fff" stroke-width="2.6" stroke-dasharray="3.6 2"/>
<line x1="1663" y1="557.0" x2="1663" y2="812.8" stroke="#fff" stroke-width="2.6" stroke-dasharray="3.6 2"/>
<rect x="1607.0" y="533.4" width="22.5" height="23.6" fill="#e3e3e3"/>
<rect x="1629.5" y="533.4" width="33.5" height="23.6" fill="#dcebc4"/>
<rect x="1663.0" y="533.4" width="99.7" height="23.6" fill="#f3e8f5"/>
<line x1="1629.5" y1="533.4" x2="1629.5" y2="557.0" stroke="#000" stroke-width="2" stroke-dasharray="3 2"/>
<line x1="1663" y1="533.4" x2="1663" y2="557.0" stroke="#000" stroke-width="2" stroke-dasharray="3 2"/>
<line x1="1536.3" y1="575.3" x2="1542.3" y2="575.3" stroke="#333" stroke-width="1.3"/>
<text x="1474.4" y="584.6" font-size="24.3">naïve</text>
<line x1="1536.3" y1="611.8" x2="1542.3" y2="611.8" stroke="#333" stroke-width="1.3"/>
<text x="1520.4" y="622.5" font-size="24.3">1</text>
<line x1="1536.3" y1="648.4" x2="1542.3" y2="648.4" stroke="#333" stroke-width="1.3"/>
<text x="1520.4" y="659.1" font-size="24.3">2</text>
<line x1="1536.3" y1="684.9" x2="1542.3" y2="684.9" stroke="#333" stroke-width="1.3"/>
<text x="1520.3" y="695.6" font-size="24.3">3</text>
<line x1="1536.3" y1="721.4" x2="1542.3" y2="721.4" stroke="#333" stroke-width="1.3"/>
<text x="1519.9" y="732.1" font-size="24.3">4</text>
<line x1="1536.3" y1="758.0" x2="1542.3" y2="758.0" stroke="#333" stroke-width="1.3"/>
<text x="1520.2" y="768.7" font-size="24.3">5</text>
<line x1="1536.3" y1="794.5" x2="1542.3" y2="794.5" stroke="#333" stroke-width="1.3"/>
<text x="1520.3" y="805.2" font-size="24.3">6</text>
<line x1="1542.2" y1="812.8" x2="1542.2" y2="818.8" stroke="#333" stroke-width="1.3"/>
<text x="1528.0" y="843.7" font-size="23.6">-1</text>
<line x1="1606.7" y1="812.8" x2="1606.7" y2="818.8" stroke="#333" stroke-width="1.3"/>
<text x="1603.0" y="843.7" font-size="23.6">0</text>
<line x1="1671.8" y1="812.8" x2="1671.8" y2="818.8" stroke="#333" stroke-width="1.3"/>
<text x="1665.9" y="843.7" font-size="23.6">1</text>
<line x1="1736.0" y1="812.8" x2="1736.0" y2="818.8" stroke="#333" stroke-width="1.3"/>
<text x="1729.0" y="843.7" font-size="23.6">2</text>
<line x1="1800.5" y1="812.8" x2="1800.5" y2="818.8" stroke="#333" stroke-width="1.3"/>
<text x="1796.0" y="843.7" font-size="23.6">3</text>
<text x="1637.6" y="875.5" font-size="23.6">Time (s)</text>
<text transform="translate(1496.6,684.4) rotate(-90)" x="-41.7" y="0" font-size="23.6">Session</text>
<defs><linearGradient id="par" x1="0" y1="1" x2="0" y2="0"><stop offset="0.000" stop-color="#3820a8"/><stop offset="0.090" stop-color="#4030d0"/><stop offset="0.179" stop-color="#4050f0"/><stop offset="0.251" stop-color="#3070ff"/><stop offset="0.323" stop-color="#2080f0"/><stop offset="0.404" stop-color="#18a0e0"/><stop offset="0.475" stop-color="#08b8c8"/><stop offset="0.556" stop-color="#30c0a0"/><stop offset="0.628" stop-color="#60c870"/><stop offset="0.700" stop-color="#a8c038"/><stop offset="0.771" stop-color="#d8b020"/><stop offset="0.825" stop-color="#f8b040"/><stop offset="0.879" stop-color="#fcc030"/><stop offset="1.000" stop-color="#f9f90e"/></linearGradient></defs>
<rect x="1828.3" y="559.1" width="21.6" height="155.5" fill="url(#par)"/>
<line x1="1849.6" y1="560.6" x2="1855.0" y2="560.6" stroke="#333" stroke-width="1.3"/>
<text x="1860.3" y="569.0" font-size="23.6">0.3</text>
<line x1="1849.6" y1="594.0" x2="1855.0" y2="594.0" stroke="#333" stroke-width="1.3"/>
<text x="1860.3" y="602.4" font-size="23.6">0.2</text>
<line x1="1849.6" y1="628.3" x2="1855.0" y2="628.3" stroke="#333" stroke-width="1.3"/>
<text x="1860.3" y="636.7" font-size="23.6">0.1</text>
<line x1="1849.6" y1="662.7" x2="1855.0" y2="662.7" stroke="#333" stroke-width="1.3"/>
<text x="1860.3" y="671.1" font-size="23.6">0.0</text>
<line x1="1849.6" y1="697.0" x2="1855.0" y2="697.0" stroke="#333" stroke-width="1.3"/>
<text x="1850.9" y="705.4" font-size="23.6">-0.1</text>
<text x="1580.4" y="930.2" font-size="27.6">Cue &amp; delay period</text>
<polygon points="1561.8,1139.7 1603.2,1112.4 1644.6,1073.0 1686.0,956.7 1727.4,1003.4 1768.8,961.0 1810.2,957.9 1810.2,1027.6 1768.8,1064.0 1727.4,1079.1 1686.0,1033.7 1644.6,1124.5 1603.2,1154.8 1561.8,1154.8" fill="#c2c2c2"/>
<polyline points="1561.8,1147.0 1603.2,1133.6 1644.6,1100.3 1686.0,995.5 1727.4,1042.1 1768.8,1013.7 1810.2,994.3" fill="none" stroke="#000" stroke-width="3.2" stroke-linejoin="miter"/>
<line x1="1561.8" y1="930.7" x2="1561.8" y2="1179.5" stroke="#231f20" stroke-width="1.3"/>
<line x1="1561.8" y1="1178.8" x2="1810.2" y2="1178.8" stroke="#231f20" stroke-width="1.3"/>
<line x1="1555.8" y1="1173.0" x2="1561.8" y2="1173.0" stroke="#231f20" stroke-width="1.3"/>
<text x="1538.5" y="1181.4" font-size="23.6">0</text>
<line x1="1555.8" y1="1142.7" x2="1561.8" y2="1142.7" stroke="#231f20" stroke-width="1.3"/>
<line x1="1555.8" y1="1112.4" x2="1561.8" y2="1112.4" stroke="#231f20" stroke-width="1.3"/>
<text x="1519.1" y="1120.8" font-size="23.6">0.1</text>
<line x1="1555.8" y1="1082.1" x2="1561.8" y2="1082.1" stroke="#231f20" stroke-width="1.3"/>
<line x1="1555.8" y1="1051.8" x2="1561.8" y2="1051.8" stroke="#231f20" stroke-width="1.3"/>
<text x="1519.1" y="1060.2" font-size="23.6">0.2</text>
<line x1="1555.8" y1="1021.5" x2="1561.8" y2="1021.5" stroke="#231f20" stroke-width="1.3"/>
<line x1="1555.8" y1="991.3" x2="1561.8" y2="991.3" stroke="#231f20" stroke-width="1.3"/>
<text x="1519.0" y="999.7" font-size="23.6">0.3</text>
<line x1="1555.8" y1="961.0" x2="1561.8" y2="961.0" stroke="#231f20" stroke-width="1.3"/>
<line x1="1555.8" y1="930.7" x2="1561.8" y2="930.7" stroke="#231f20" stroke-width="1.3"/>
<text x="1518.6" y="939.1" font-size="23.6">0.4</text>
<line x1="1561.8" y1="1178.8" x2="1561.8" y2="1184.3" stroke="#231f20" stroke-width="1.3"/>
<line x1="1603.2" y1="1178.8" x2="1603.2" y2="1184.3" stroke="#231f20" stroke-width="1.3"/>
<text x="1597.1" y="1210.6" font-size="23.6">1</text>
<line x1="1644.6" y1="1178.8" x2="1644.6" y2="1184.3" stroke="#231f20" stroke-width="1.3"/>
<text x="1638.7" y="1210.6" font-size="23.6">2</text>
<line x1="1686.0" y1="1178.8" x2="1686.0" y2="1184.3" stroke="#231f20" stroke-width="1.3"/>
<text x="1681.7" y="1210.6" font-size="23.6">3</text>
<line x1="1727.4" y1="1178.8" x2="1727.4" y2="1184.3" stroke="#231f20" stroke-width="1.3"/>
<text x="1722.4" y="1210.6" font-size="23.6">4</text>
<line x1="1768.8" y1="1178.8" x2="1768.8" y2="1184.3" stroke="#231f20" stroke-width="1.3"/>
<text x="1762.6" y="1210.6" font-size="23.6">5</text>
<line x1="1810.2" y1="1178.8" x2="1810.2" y2="1184.3" stroke="#231f20" stroke-width="1.3"/>
<text x="1804.3" y="1210.6" font-size="23.6">6</text>
<text transform="translate(1573,1199) rotate(-45)" text-anchor="end" font-size="23.6">naïve</text>
<text x="1644.1" y="1247.8" font-size="23.6">Session</text>
<text transform="translate(1450.3,1055.1) rotate(-90)" x="-68.6" y="0" font-size="23.6">Peak relative</text>
<text transform="translate(1472.6,1055.1) rotate(-90)" x="-66.7" y="0" font-size="23.6">classification</text>
<text transform="translate(1495.0,1055.1) rotate(-90)" x="-66.5" y="0" font-size="23.6">performance</text>
</svg></body></html>
